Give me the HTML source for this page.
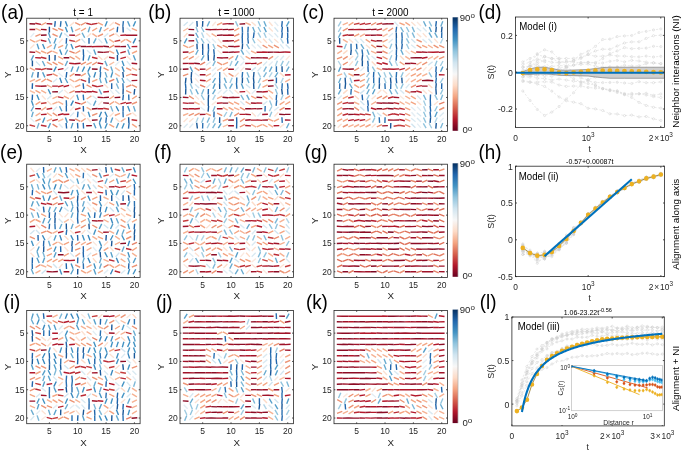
<!DOCTYPE html>
<html><head><meta charset="utf-8"><style>
html,body{margin:0;padding:0;background:#fff;}
svg text{font-family:'Liberation Sans', sans-serif;}
</style></head><body>
<svg width="685" height="451" viewBox="0 0 685 451" style="display:block;font-family:'Liberation Sans', sans-serif;will-change:transform">
<rect width="685" height="451" fill="#fff"/>
<g clip-path="url(#clip26_18)" stroke-linecap="butt" stroke-width="1.4" fill="none">
<clipPath id="clip26_18"><rect x="26.7" y="18.2" width="113.4" height="113.2"/></clipPath>
<path stroke="#8c0c25" d="M29.5 23.8l5.7 0.2M40.9 35.3l5.7 -0.3M80.6 46.5l5.7 0.0M103.3 46.3l5.7 0.4M120.3 46.6l5.7 -0.1M97.6 52.0l5.7 0.4M63.6 57.8l5.7 -0.0M46.6 68.9l5.7 0.4M91.9 69.0l5.7 0.2M52.2 91.9l5.7 -0.1M103.3 97.6l5.7 -0.4M114.6 97.6l5.7 -0.3M103.2 102.9l5.7 0.3M91.9 109.0l5.7 -0.5M69.2 119.9l5.7 0.3M91.9 120.3l5.7 -0.4M86.2 125.8l5.7 -0.2"/>
<path stroke="#b2182b" d="M35.3 23.3l5.6 1.1M120.3 35.4l5.7 -0.4M40.9 40.2l5.5 1.2M91.9 46.7l5.7 -0.3M97.6 46.4l5.7 0.1M114.6 46.5l5.7 0.0M131.6 46.6l5.7 -0.1M35.2 57.6l5.7 0.4M69.2 63.3l5.7 0.4M97.6 63.0l5.6 0.9M35.2 68.9l5.7 0.4M57.9 69.6l5.6 -1.0M35.2 85.9l5.7 0.4M52.2 86.1l5.7 -0.0M63.6 86.8l5.5 -1.4M92.0 91.2l5.5 1.2M103.3 92.0l5.7 -0.5M126.0 103.5l5.6 -0.9M97.6 108.7l5.7 0.1M40.9 114.6l5.7 -0.3M58.0 115.0l5.5 -1.2M63.6 114.5l5.7 -0.2"/>
<path stroke="#f4a582" d="M41.2 25.2l5.0 -2.7M97.9 22.6l5.0 2.6M81.0 31.0l4.9 -2.9M92.3 30.9l4.9 -2.9M131.8 28.4l5.2 2.2M29.9 39.5l5.0 2.7M75.3 42.2l4.9 -2.8M126.3 39.4l4.9 2.9M58.1 47.7l5.1 -2.4M41.1 51.0l5.2 2.2M75.3 53.5l5.0 -2.8M131.9 53.4l5.1 -2.4M58.2 56.5l5.0 2.7M46.9 62.1l5.0 2.7M58.2 62.2l5.1 2.5M86.5 64.6l5.2 -2.3M29.8 67.9l5.1 2.5M69.7 76.4l4.7 -3.1M80.9 76.2l4.9 -2.8M126.1 75.9l5.3 -2.1M35.5 81.7l5.1 -2.5M41.4 82.0l4.7 -3.1M75.2 81.7l5.1 -2.5M92.2 81.6l5.2 -2.3M75.1 87.2l5.2 -2.2M35.5 90.4l5.0 2.7M63.8 96.2l5.1 2.4M132.1 99.0l4.7 -3.1M35.6 104.6l4.8 -3.0M109.4 104.6l4.8 -3.1M114.8 115.5l5.2 -2.2M81.0 121.6l4.7 -3.1M109.3 124.3l4.9 2.9M132.1 124.2l4.7 3.1"/>
<path stroke="#9f1228" d="M46.6 23.6l5.7 0.4M29.5 29.5l5.7 0.0M40.9 29.4l5.7 0.3M69.2 35.1l5.7 0.2M125.9 35.3l5.7 -0.2M131.6 35.1l5.7 0.1M86.2 46.6l5.7 -0.1M29.5 52.0l5.7 0.4M103.3 52.4l5.7 -0.5M74.9 63.7l5.7 -0.4M131.6 63.2l5.6 0.5M74.9 74.7l5.7 0.3M131.6 80.6l5.7 -0.2M40.9 86.2l5.7 -0.2M74.9 91.9l5.7 -0.2M86.2 91.8l5.7 -0.0M97.6 97.2l5.7 0.4M35.2 108.6l5.7 0.2"/>
<path stroke="#2166ac" d="M54.7 26.7l0.6 -5.6M117.1 32.3l0.6 -5.6M66.2 43.7l0.4 -5.6M89.0 43.7l0.0 -5.7M83.3 49.3l0.2 5.7M83.2 60.6l0.5 -5.6M66.1 77.6l0.7 -5.6M89.1 83.3l0.0 -5.7M32.2 88.9l0.3 -5.7M83.1 83.3l0.6 5.6M111.7 83.3l0.0 5.7M32.2 100.3l0.3 -5.7M122.8 100.3l0.6 -5.6M66.3 105.9l0.1 5.7M83.3 105.9l0.2 5.7M123.1 105.9l0.0 5.7M66.1 122.9l0.5 5.6M77.5 122.9l0.4 5.6"/>
<path stroke="#2a71b2" d="M60.4 26.7l0.6 -5.6M122.8 26.7l0.6 -5.6M100.1 72.0l0.6 -5.6M100.3 77.6l0.3 -5.7M122.9 83.3l0.3 5.7M83.2 94.6l0.5 5.6M128.7 94.6l0.2 5.7M66.3 100.3l0.2 5.7M77.5 117.2l0.5 -5.6M123.0 111.6l0.2 5.7M105.8 122.9l0.6 -5.6M83.2 122.9l0.4 5.6M128.5 128.6l0.6 -5.6"/>
<path stroke="#3a88bd" d="M65.4 21.2l2.0 5.3M133.1 43.4l2.6 -5.0M116.4 49.5l2.1 5.3M87.8 71.7l2.5 -5.1M122.1 66.5l2.0 5.3M93.9 77.5l1.7 -5.4M59.8 77.8l1.9 5.3M70.8 105.6l2.6 -5.0M116.1 106.2l2.6 5.0M99.3 117.0l2.2 -5.2M104.9 111.8l2.3 5.2M99.4 122.7l2.0 -5.3"/>
<path stroke="#fce2d3" d="M69.9 25.7l4.4 -3.6M109.6 25.7l4.4 -3.6M86.9 37.0l4.3 -3.6M115.2 33.4l4.4 3.6M30.3 48.5l4.1 -3.9M103.9 59.6l4.4 -3.5M126.7 55.9l4.2 3.8M104.1 84.1l4.0 4.0M41.8 95.4l3.9 4.1M47.4 101.1l4.0 4.0M81.4 112.5l4.1 3.9M109.7 116.4l4.1 -3.9M132.3 112.5l4.2 3.8M87.2 118.0l3.8 4.2M115.3 118.2l4.2 3.7"/>
<path stroke="#ec9475" d="M75.2 22.6l5.1 2.6M80.9 25.2l5.0 -2.7M114.9 22.6l5.0 2.6M52.5 28.3l5.1 2.4M58.1 28.4l5.2 2.1M35.4 36.3l5.2 -2.2M52.5 34.0l5.2 2.3M97.8 36.3l5.2 -2.3M109.2 36.4l5.1 -2.5M109.2 47.8l5.0 -2.6M35.5 50.9l5.1 2.4M46.9 53.6l4.9 -2.8M69.6 56.5l5.0 2.7M52.6 62.1l4.9 2.8M80.9 64.7l5.1 -2.5M92.3 64.9l4.9 -2.9M103.5 67.9l5.1 2.5M126.2 67.9l5.1 2.5M52.5 73.6l5.1 2.5M46.8 79.2l5.1 2.5M86.6 84.8l5.0 2.7M126.1 87.2l5.2 -2.2M131.9 84.9l5.1 2.4M69.4 92.9l5.2 -2.2M126.1 90.7l5.2 2.2M80.9 104.3l5.1 -2.5M131.8 104.2l5.2 -2.2M52.7 112.8l4.7 3.2M92.1 115.5l5.3 -2.1M35.4 121.2l5.2 -2.2M75.2 118.9l5.1 2.4"/>
<path stroke="#bb2a34" d="M86.3 23.2l5.5 1.4M91.9 24.3l5.6 -0.9M120.3 52.9l5.5 -1.4M40.9 57.2l5.5 1.3M92.0 57.2l5.5 1.3M109.0 57.3l5.6 1.0M120.4 58.6l5.5 -1.5M46.6 75.3l5.6 -0.9M131.6 74.4l5.6 0.9M80.7 79.7l5.5 1.6M58.0 86.8l5.5 -1.4M92.0 85.3l5.5 1.5M97.6 86.6l5.6 -1.0M80.6 91.3l5.6 1.0M57.9 96.9l5.6 1.0M75.0 102.4l5.5 1.5M120.4 103.9l5.5 -1.6M46.6 109.3l5.6 -1.1M75.0 109.5l5.5 -1.5M52.3 120.8l5.5 -1.4M131.6 119.7l5.6 0.8M40.9 125.2l5.6 1.0"/>
<path stroke="#4393c3" d="M105.1 26.5l2.1 -5.3M133.3 26.4l2.3 -5.2M65.4 26.9l2.0 5.3M42.6 43.9l2.1 5.2M71.0 43.9l2.1 5.3M59.7 49.5l2.1 5.3M122.1 60.8l1.9 5.3M53.7 71.6l2.6 -5.0M82.2 71.7l2.4 -5.1M110.9 77.5l1.7 -5.4M48.2 89.2l2.4 5.1M36.9 94.8l2.2 5.2M76.9 94.7l1.6 5.4M31.4 100.4l1.9 5.3M127.7 106.1l2.1 5.3M88.2 111.7l1.8 5.4M42.6 122.7l2.2 -5.2M65.4 117.4l1.9 5.3M99.4 123.1l1.9 5.3M105.0 128.4l2.2 -5.2M122.0 128.4l2.2 -5.2"/>
<path stroke="#57a0ca" d="M127.6 21.3l2.3 5.2M71.2 26.8l1.7 5.4M99.4 32.2l2.0 -5.3M48.5 32.5l1.8 5.4M59.6 37.8l2.2 -5.2M54.0 43.5l2.1 -5.3M104.9 38.3l2.3 5.2M37.1 43.8l1.8 5.4M127.5 44.0l2.6 5.0M93.8 49.5l2.0 5.3M31.2 60.4l2.4 -5.1M88.1 60.5l1.9 -5.3M133.4 55.2l2.1 5.3M71.0 71.8l2.1 -5.3M76.7 71.8l2.1 -5.2M42.6 72.2l2.3 5.2M87.9 72.2l2.3 5.2M65.1 78.0l2.6 5.0M105.2 77.8l1.7 5.4M122.0 77.9l2.2 5.2M93.5 105.7l2.4 -5.1M59.5 106.2l2.4 5.1M110.7 122.7l2.0 -5.3M48.2 128.3l2.3 -5.2M71.1 128.4l1.8 -5.4M93.7 123.1l2.2 5.2M116.3 128.3l2.2 -5.2"/>
<path stroke="#f6b293" d="M35.5 28.3l5.2 2.3M75.1 30.6l5.2 -2.2M103.7 31.0l4.8 -3.0M109.2 30.8l5.0 -2.6M75.2 36.4l5.1 -2.5M92.4 33.6l4.7 3.2M109.3 39.4l4.8 3.0M120.7 42.4l4.8 -3.1M46.9 47.9l4.9 -2.8M52.4 51.1l5.2 2.2M109.2 50.8l5.0 2.6M75.4 56.2l4.7 3.2M131.9 67.9l5.1 2.4M29.8 81.6l5.2 -2.2M69.6 79.0l4.9 2.9M46.9 84.8l5.0 2.7M41.2 90.4l5.0 2.7M52.5 98.6l5.2 -2.3M86.7 99.0l4.7 -3.1M109.4 99.0l4.7 -3.1M52.4 104.2l5.2 -2.2M58.2 101.7l5.0 2.7M115.0 101.6l4.8 2.9M41.3 110.3l4.8 -3.1M86.6 107.3l4.9 2.9M35.6 115.9l4.8 -3.0M47.0 112.9l4.8 3.1M126.2 115.6l5.2 -2.3M46.8 121.2l5.2 -2.3M120.7 121.6l4.8 -3.1"/>
<path stroke="#1a5899" d="M49.4 26.7l0.0 5.7M123.0 26.7l0.2 5.7M49.3 55.0l0.1 5.7M55.0 60.6l0.1 -5.7M117.4 55.0l0.1 5.7M32.4 66.3l0.0 -5.7M37.8 77.6l0.4 -5.6M122.8 72.0l0.7 5.6M123.0 94.6l0.2 -5.7M134.1 94.6l0.6 -5.6M128.6 117.3l0.3 5.7"/>
<path stroke="#6aacd0" d="M88.2 32.2l1.7 -5.4M82.1 32.7l2.6 5.0M48.3 38.2l2.2 5.2M93.5 43.4l2.6 -5.0M54.1 49.2l1.8 -5.4M65.5 49.2l1.8 -5.4M65.1 54.7l2.6 -5.0M127.8 49.5l1.8 5.4M42.4 61.0l2.5 5.1M65.2 66.0l2.4 -5.1M104.9 60.9l2.3 5.2M110.8 66.5l1.9 5.3M31.6 77.5l1.6 -5.4M105.2 72.1l1.8 5.4M99.6 77.7l1.6 5.4M116.5 77.8l1.9 5.3M99.1 89.3l2.5 5.1M31.1 111.3l2.6 -5.0M133.5 106.1l1.8 5.4M31.6 117.1l1.6 -5.4"/>
<path stroke="#daeaf2" d="M126.6 27.7l4.3 3.6M103.9 37.0l4.4 -3.6M98.4 38.8l3.9 4.1M87.0 50.2l4.2 3.8M126.9 61.3l3.7 4.3M64.3 71.1l4.1 -3.9M52.9 82.3l4.3 -3.7M58.5 93.6l4.4 -3.6M47.2 99.3l4.3 -3.7M92.5 95.7l4.4 3.6M86.9 101.2l4.3 3.7M53.0 110.7l4.1 -4.0M70.1 116.4l4.0 -4.0M58.8 123.7l3.9 4.1"/>
<path stroke="#e4eef4" d="M30.5 37.3l3.7 -4.3M115.3 65.4l4.2 -3.8M58.6 73.0l4.3 3.7M109.9 89.6l3.7 4.3M30.3 118.2l4.2 3.8"/>
<path stroke="#d1e5f0" d="M64.2 33.4l4.4 3.6M81.5 38.7l3.7 4.2M35.9 61.6l4.2 3.8M126.6 78.6l4.3 3.7M115.4 89.8l4.1 3.9"/>
<path stroke="#f8c0a4" d="M35.5 42.0l5.2 -2.3M109.3 64.9l4.9 -2.9M115.1 67.6l4.7 3.2M115.0 73.3l4.8 3.0M29.8 90.6l5.1 2.4M58.1 121.3l5.2 -2.3"/>
<path stroke="#fae9df" d="M58.9 43.0l3.7 -4.3M69.9 84.2l4.2 3.8M64.3 89.9l4.2 3.8M98.4 105.1l3.9 -4.1M70.1 110.8l3.9 -4.1"/>
<path stroke="#c43c3c" d="M69.3 40.3l5.6 1.1M114.6 41.4l5.6 -1.1M75.0 47.3l5.5 -1.6M41.0 69.8l5.5 -1.4M40.9 103.5l5.6 -0.8M103.3 108.3l5.6 0.9M29.6 125.0l5.5 1.4"/>
<path stroke="#e58268" d="M69.4 51.1l5.3 2.1M109.1 81.5l5.2 -2.2M52.6 124.2l4.8 3.0"/>
<path stroke="#fddbc7" d="M98.3 55.9l4.1 3.9M70.0 99.4l4.2 -3.8"/>
<path stroke="#7eb8d7" d="M116.3 83.5l2.3 5.2M110.7 106.1l2.1 5.3M37.1 128.4l1.9 -5.4"/>
</g>
<rect x="26.7" y="18.2" width="113.4" height="113.2" fill="none" stroke="#262626" stroke-width="0.8"/>
<line x1="49.38" y1="131.4" x2="49.38" y2="130.0" stroke="#262626" stroke-width="0.8"/>
<line x1="49.38" y1="18.2" x2="49.38" y2="19.599999999999998" stroke="#262626" stroke-width="0.8"/>
<text x="49.38" y="142.00" font-size="8.5" text-anchor="middle" fill="#262626" >5</text>
<line x1="26.7" y1="40.84" x2="28.099999999999998" y2="40.84" stroke="#262626" stroke-width="0.8"/>
<line x1="140.1" y1="40.84" x2="138.7" y2="40.84" stroke="#262626" stroke-width="0.8"/>
<text x="24.50" y="43.84" font-size="8.5" text-anchor="end" fill="#262626" >5</text>
<line x1="77.73" y1="131.4" x2="77.73" y2="130.0" stroke="#262626" stroke-width="0.8"/>
<line x1="77.73" y1="18.2" x2="77.73" y2="19.599999999999998" stroke="#262626" stroke-width="0.8"/>
<text x="77.73" y="142.00" font-size="8.5" text-anchor="middle" fill="#262626" >10</text>
<line x1="26.7" y1="69.14" x2="28.099999999999998" y2="69.14" stroke="#262626" stroke-width="0.8"/>
<line x1="140.1" y1="69.14" x2="138.7" y2="69.14" stroke="#262626" stroke-width="0.8"/>
<text x="24.50" y="72.14" font-size="8.5" text-anchor="end" fill="#262626" >10</text>
<line x1="106.08" y1="131.4" x2="106.08" y2="130.0" stroke="#262626" stroke-width="0.8"/>
<line x1="106.08" y1="18.2" x2="106.08" y2="19.599999999999998" stroke="#262626" stroke-width="0.8"/>
<text x="106.08" y="142.00" font-size="8.5" text-anchor="middle" fill="#262626" >15</text>
<line x1="26.7" y1="97.44" x2="28.099999999999998" y2="97.44" stroke="#262626" stroke-width="0.8"/>
<line x1="140.1" y1="97.44" x2="138.7" y2="97.44" stroke="#262626" stroke-width="0.8"/>
<text x="24.50" y="100.44" font-size="8.5" text-anchor="end" fill="#262626" >15</text>
<line x1="134.43" y1="131.4" x2="134.43" y2="130.0" stroke="#262626" stroke-width="0.8"/>
<line x1="134.43" y1="18.2" x2="134.43" y2="19.599999999999998" stroke="#262626" stroke-width="0.8"/>
<text x="134.43" y="142.00" font-size="8.5" text-anchor="middle" fill="#262626" >20</text>
<line x1="26.7" y1="125.74" x2="28.099999999999998" y2="125.74" stroke="#262626" stroke-width="0.8"/>
<line x1="140.1" y1="125.74" x2="138.7" y2="125.74" stroke="#262626" stroke-width="0.8"/>
<text x="24.50" y="128.74" font-size="8.5" text-anchor="end" fill="#262626" >20</text>
<text x="83.40" y="153.40" font-size="9.8" text-anchor="middle" fill="#262626" >X</text>
<text x="0.00" y="0.00" font-size="9.8" text-anchor="middle" fill="#262626" transform="translate(10.70,74.80) rotate(-90)">Y</text>
<text transform="translate(83.10,16.20) scale(0.92,1)" font-size="10.8" text-anchor="middle" fill="#000" >t = 1</text>
<g clip-path="url(#clip180_18)" stroke-linecap="butt" stroke-width="1.4" fill="none">
<clipPath id="clip180_18"><rect x="180.0" y="18.2" width="113.4" height="113.2"/></clipPath>
<path stroke="#d1e5f0" d="M183.6 25.8l4.2 -3.8M274.5 27.4l3.7 4.3M268.8 38.7l3.7 4.3M285.7 44.5l4.0 4.0M251.5 70.9l4.4 -3.5M195.0 84.2l4.1 3.9M245.9 84.3l4.3 3.7"/>
<path stroke="#daeaf2" d="M189.3 25.9l4.0 -4.0M274.5 33.1l3.7 4.3M206.5 38.7l3.7 4.3M257.3 44.6l4.2 3.8M280.2 44.3l3.6 4.3M246.1 50.1l3.8 4.2M240.5 55.7l3.7 4.3M274.4 59.8l4.1 -3.9M280.2 60.0l3.7 -4.3M206.1 65.2l4.5 -3.5M263.1 65.5l4.0 -4.1M257.5 71.3l3.7 -4.3M212.2 76.9l3.7 -4.3M206.3 88.1l4.1 -3.9M223.3 93.7l4.1 -3.9M229.2 89.7l3.8 4.2M240.3 101.2l4.2 3.8M262.9 104.9l4.4 -3.6M274.2 110.5l4.5 -3.5M183.7 127.7l4.0 -4.0M189.4 127.8l3.8 -4.2"/>
<path stroke="#1a5899" d="M196.9 21.0l0.3 5.7M202.5 26.7l0.3 -5.7M287.5 26.7l0.4 5.6M196.9 43.7l0.3 5.7M202.6 43.7l0.2 5.7M242.2 49.3l0.4 -5.6M208.2 55.0l0.2 5.7M213.8 60.6l0.5 -5.6M282.0 66.3l0.2 5.7M191.2 77.6l0.4 -5.6M253.5 77.6l0.5 -5.6M185.4 83.3l0.6 -5.6M191.1 77.6l0.6 5.6M242.3 83.3l0.2 -5.7M253.4 77.6l0.6 5.6M219.6 83.3l0.1 5.7M253.6 83.3l0.3 5.7M185.6 94.6l0.2 -5.7M281.7 89.0l0.7 5.6M208.2 100.3l0.4 -5.6M208.3 105.9l0.0 -5.7M208.1 111.6l0.5 -5.6M219.6 122.9l0.1 -5.7M196.7 122.9l0.7 5.6"/>
<path stroke="#6aacd0" d="M207.2 26.4l2.4 -5.1M263.9 21.3l2.3 5.2M252.7 26.9l2.1 5.3M195.7 32.7l2.6 5.0M196.0 38.2l2.0 5.3M195.7 54.7l2.6 -5.0M241.0 49.7l2.7 5.0M201.3 60.3l2.8 -4.9M235.5 60.4l2.4 -5.1M235.2 65.9l3.0 -4.8M269.4 71.7l2.6 -5.1M286.3 71.6l2.8 -4.9M274.9 77.2l3.0 -4.8M212.6 82.9l2.9 -4.9M224.3 77.8l2.1 5.3M247.0 77.8l2.0 5.3M229.6 88.6l2.8 -4.9M195.8 89.2l2.5 5.1M212.6 94.2l2.8 -4.9M246.7 94.9l2.6 5.0M286.5 128.3l2.5 -5.1"/>
<path stroke="#fae9df" d="M212.2 26.0l3.7 -4.3M217.6 50.3l4.3 3.7M194.9 59.7l4.2 -3.8M285.8 59.9l3.9 -4.1M240.4 71.2l3.9 -4.1M195.1 78.3l3.7 4.3M195.0 95.4l4.0 4.0M211.8 104.9l4.4 -3.5"/>
<path stroke="#f4a582" d="M217.1 25.0l5.1 -2.4M234.2 30.9l5.0 -2.7M183.1 45.2l5.1 2.5M268.2 45.1l4.9 2.8M188.7 53.3l5.2 -2.2M183.2 59.1l5.0 -2.6M228.6 59.3l4.8 -3.0M245.6 56.4l4.9 2.8M222.8 64.6l5.2 -2.3M222.9 70.6l4.9 -2.9M262.5 87.4l5.1 -2.6M251.2 96.2l5.1 2.5M262.7 95.9l4.8 3.0M285.3 98.9l4.8 -3.0M228.5 101.8l5.0 2.6M234.1 101.9l5.1 2.4M279.7 104.6l4.8 -3.1M285.3 104.5l4.9 -2.8M228.6 107.4l4.9 2.8M205.7 113.3l5.2 2.2M222.7 121.2l5.2 -2.2M268.1 118.9l5.2 2.3M273.9 121.4l5.0 -2.6M256.8 126.8l5.2 -2.2M262.5 124.4l5.0 2.6"/>
<path stroke="#b2182b" d="M222.5 24.1l5.7 -0.5M216.9 29.6l5.7 -0.2M233.9 46.7l5.7 -0.5M233.9 52.3l5.7 -0.4M256.5 52.3l5.7 -0.2M262.2 52.0l5.7 0.3M284.9 52.0l5.7 0.2M188.5 63.5l5.7 -0.0M245.2 63.5l5.7 -0.1M284.9 75.0l5.7 -0.3M199.9 80.2l5.7 0.5M239.5 91.9l5.7 -0.3M262.2 92.0l5.7 -0.5M182.8 102.9l5.7 0.5M216.9 103.2l5.7 -0.3M256.5 103.0l5.7 0.1M188.5 108.7l5.7 0.1M194.2 109.0l5.7 -0.5M239.5 114.4l5.7 0.0M250.9 120.1l5.7 0.0M256.6 119.9l5.7 0.5M245.2 125.5l5.7 0.4M273.6 125.8l5.7 -0.2"/>
<path stroke="#8c0c25" d="M228.2 23.8l5.7 0.1M239.5 24.1l5.7 -0.4M188.5 29.4l5.7 0.2M222.5 29.6l5.7 -0.2M188.5 35.0l5.7 0.3M216.9 35.4l5.7 -0.4M228.2 46.4l5.7 0.1M228.2 52.4l5.7 -0.4M267.9 52.2l5.7 -0.1M250.9 57.8l5.7 0.1M256.5 57.7l5.7 0.2M194.2 63.3l5.7 0.4M182.8 69.3l5.7 -0.3M245.2 68.9l5.7 0.4M267.9 80.6l5.7 -0.3M267.9 86.3l5.7 -0.4M256.5 91.7l5.7 0.2M222.5 97.2l5.6 0.5M256.5 97.3l5.7 0.3M222.5 103.1l5.7 -0.0M245.2 108.8l5.7 -0.0M256.6 108.9l5.7 -0.3M279.2 114.3l5.7 0.3M284.9 114.4l5.7 0.0M228.2 120.1l5.7 -0.1"/>
<path stroke="#92c5de" d="M235.5 21.3l2.4 5.1M258.2 21.3l2.3 5.2M196.0 26.9l2.0 5.3M201.3 27.0l2.7 5.0M258.1 27.0l2.6 5.0M201.2 38.4l2.9 4.9M252.4 38.3l2.6 5.0M212.9 43.9l2.2 5.2M280.8 66.0l2.5 -5.1M258.2 83.0l2.4 -5.1M190.2 83.5l2.3 5.2M258.2 88.7l2.3 -5.2M190.2 89.2l2.2 5.2M275.4 89.1l2.1 5.3M201.3 95.0l2.9 4.9M269.6 100.5l2.2 5.2M269.6 117.0l2.2 -5.2M201.6 122.7l2.1 -5.3M213.0 122.7l2.1 -5.3"/>
<path stroke="#f6b293" d="M245.5 22.7l5.2 2.3M211.6 33.7l4.9 2.9M188.7 47.6l5.2 -2.2M251.1 51.0l5.2 2.3M205.9 70.5l4.9 -2.8M205.8 76.1l5.1 -2.5M206.0 82.0l4.8 -3.1M262.5 81.7l5.1 -2.4M285.2 81.8l5.0 -2.7M268.3 90.2l4.8 3.1M217.1 98.6l5.1 -2.4M194.4 102.0l5.2 2.3M245.6 101.7l5.0 2.8M222.9 107.3l4.8 2.9M234.1 107.6l5.2 2.3M183.1 115.5l5.2 -2.2M251.2 124.4l5.0 2.7M268.3 124.2l4.8 3.0"/>
<path stroke="#fce2d3" d="M251.5 22.0l4.3 3.6M268.9 21.7l3.7 4.3M268.7 27.6l4.1 3.9M206.3 33.2l4.1 3.9M217.9 38.7l3.6 4.3M257.3 38.9l4.1 3.9M274.2 39.0l4.3 3.7M223.5 72.6l3.7 4.3M234.7 76.8l4.0 -4.0M234.6 89.9l4.2 3.8M200.7 101.1l3.9 4.1M251.7 112.5l4.1 3.9M274.5 116.5l3.8 -4.2M183.6 122.0l4.1 -3.9M189.2 121.9l4.3 -3.7M279.9 127.5l4.4 -3.6"/>
<path stroke="#e4eef4" d="M274.5 21.8l3.8 4.2M268.6 33.3l4.3 3.7M212.0 38.8l4.0 4.0M251.6 44.6l4.2 3.8M240.4 65.5l3.9 -4.1M268.7 65.5l4.0 -4.0M211.9 71.0l4.3 -3.6M234.6 71.1l4.1 -3.9M194.8 73.0l4.4 3.5M217.7 93.8l3.9 -4.1M251.8 93.8l3.9 -4.1M200.5 107.0l4.4 3.5M257.5 116.5l3.7 -4.3"/>
<path stroke="#2166ac" d="M281.7 26.7l0.6 -5.6M281.8 32.3l0.6 -5.6M242.2 38.0l0.3 -5.6M253.4 38.0l0.7 -5.6M281.8 38.0l0.5 -5.6M287.6 32.4l0.2 5.7M242.3 38.0l0.1 5.7M287.4 38.0l0.6 5.6M208.3 43.7l0.2 5.7M202.7 49.3l0.0 5.7M213.7 49.3l0.6 5.6M219.6 77.6l0.2 5.7M185.4 83.3l0.5 5.6M287.5 83.3l0.6 5.6M208.2 94.6l0.2 -5.7M287.6 89.0l0.3 5.7M276.2 100.3l0.4 -5.6M213.9 117.2l0.2 -5.7M236.6 117.3l0.2 5.7M236.6 128.6l0.1 -5.7"/>
<path stroke="#57a0ca" d="M286.4 26.4l2.7 -5.0M263.9 27.0l2.4 5.1M184.3 43.3l2.7 -5.0M190.1 66.6l2.5 5.1M213.0 88.7l2.1 -5.2M241.3 83.5l2.1 5.2M218.3 128.2l2.9 -4.9"/>
<path stroke="#f8c0a4" d="M183.3 31.0l4.8 -3.0M217.2 70.5l4.9 -2.8M222.8 126.8l5.2 -2.2"/>
<path stroke="#9f1228" d="M205.5 29.4l5.7 0.3M211.2 29.6l5.7 -0.1M228.2 29.7l5.7 -0.3M222.5 35.2l5.7 -0.1M228.2 35.0l5.7 0.3M188.5 40.9l5.7 -0.2M222.5 41.0l5.7 -0.3M228.2 41.0l5.7 -0.4M182.8 52.3l5.7 -0.3M222.5 52.2l5.7 -0.0M273.6 52.1l5.7 0.2M279.2 52.4l5.7 -0.4M216.9 57.6l5.7 0.4M222.5 57.9l5.7 -0.1M262.2 57.7l5.7 0.3M182.8 63.5l5.7 -0.1M250.9 63.6l5.7 -0.3M199.8 69.2l5.7 -0.1M228.2 69.2l5.7 -0.0M199.8 74.7l5.7 0.1M182.8 97.3l5.7 0.3M228.2 97.6l5.7 -0.3M233.9 97.5l5.7 -0.1M188.5 103.1l5.7 -0.0M250.9 103.0l5.7 0.3M182.8 108.6l5.7 0.4M216.9 108.7l5.7 0.0M250.9 108.9l5.7 -0.3M284.9 108.8l5.7 0.0M199.8 114.5l5.7 -0.1M245.2 114.3l5.7 0.3M262.2 114.5l5.7 -0.2M245.2 120.3l5.6 -0.5M262.2 120.1l5.7 -0.1M284.9 120.0l5.7 0.1M228.2 125.7l5.7 0.1"/>
<path stroke="#2a71b2" d="M242.2 26.7l0.3 5.7M247.9 32.3l0.3 -5.6M247.9 32.4l0.2 5.7M247.8 38.0l0.6 5.6M208.0 55.0l0.6 -5.6M276.4 66.3l0.0 5.7M219.7 72.0l0.0 5.7M242.1 77.6l0.5 -5.6M236.6 83.3l0.2 -5.7M276.4 77.6l0.0 5.7M236.4 83.3l0.6 5.6M281.9 88.9l0.4 -5.6M276.1 105.9l0.6 -5.6M265.0 111.6l0.2 -5.7M281.9 117.3l0.4 5.6M202.6 128.6l0.2 -5.7"/>
<path stroke="#fddbc7" d="M183.8 37.3l3.7 -4.3M263.2 38.7l3.8 4.2M279.9 72.9l4.3 3.7M246.0 89.9l4.2 3.8M268.8 95.4l3.9 4.1"/>
<path stroke="#b2d5e7" d="M201.6 32.6l2.2 5.2M280.6 38.4l2.8 4.9M275.4 66.1l2.0 -5.3M286.3 66.0l2.8 -4.9M258.0 72.3l2.7 5.0M269.2 77.2l3.0 -4.8M280.8 83.0l2.5 -5.1M274.9 83.7l2.9 4.9M212.7 99.9l2.7 -5.0M196.0 122.7l2.1 -5.3"/>
<path stroke="#ec9475" d="M234.1 36.3l5.2 -2.3M217.2 45.2l5.0 2.6M222.7 45.4l5.2 2.2M262.6 45.1l4.9 2.9M273.9 45.2l5.0 2.7M188.9 59.2l4.9 -2.8M268.4 59.4l4.7 -3.1M217.2 62.1l5.0 2.7M194.6 67.6l4.8 3.0M183.0 75.9l5.3 -2.1M228.6 73.4l4.9 2.9M189.0 95.9l4.8 3.1M239.9 107.4l5.0 2.7M279.6 110.2l4.9 -2.8M188.7 115.6l5.2 -2.3M194.5 115.7l5.1 -2.5M217.1 113.2l5.1 2.5M234.3 115.9l4.8 -3.0M240.0 121.6l4.7 -3.1M239.8 127.0l5.1 -2.6"/>
<path stroke="#a2cde2" d="M258.0 32.7l2.7 5.0M263.9 32.6l2.3 5.2M230.0 66.1l2.1 -5.2M229.9 83.0l2.3 -5.2M280.9 100.0l2.3 -5.2M269.4 111.3l2.6 -5.0M223.9 116.8l2.9 -4.8M207.1 128.3l2.5 -5.1"/>
<path stroke="#e58268" d="M234.1 42.0l5.2 -2.3M200.2 64.9l4.9 -2.8M256.8 64.7l5.1 -2.4M200.1 85.0l5.2 2.1"/>
<path stroke="#7eb8d7" d="M246.6 44.1l2.8 4.9M212.8 66.0l2.5 -5.1M263.7 71.6l2.7 -5.0M247.0 72.2l2.1 5.3M263.6 77.2l2.9 -4.9M224.1 83.6l2.5 5.1M201.6 94.4l2.2 -5.2M240.9 95.0l2.8 4.9M212.9 111.4l2.2 -5.2M229.8 117.0l2.4 -5.1M207.1 122.6l2.4 -5.1M212.6 128.2l2.8 -4.9"/>
</g>
<rect x="180.0" y="18.2" width="113.4" height="113.2" fill="none" stroke="#262626" stroke-width="0.8"/>
<line x1="202.68" y1="131.4" x2="202.68" y2="130.0" stroke="#262626" stroke-width="0.8"/>
<line x1="202.68" y1="18.2" x2="202.68" y2="19.599999999999998" stroke="#262626" stroke-width="0.8"/>
<text x="202.68" y="142.00" font-size="8.5" text-anchor="middle" fill="#262626" >5</text>
<line x1="180.0" y1="40.84" x2="181.4" y2="40.84" stroke="#262626" stroke-width="0.8"/>
<line x1="293.4" y1="40.84" x2="292.0" y2="40.84" stroke="#262626" stroke-width="0.8"/>
<text x="177.80" y="43.84" font-size="8.5" text-anchor="end" fill="#262626" >5</text>
<line x1="231.03" y1="131.4" x2="231.03" y2="130.0" stroke="#262626" stroke-width="0.8"/>
<line x1="231.03" y1="18.2" x2="231.03" y2="19.599999999999998" stroke="#262626" stroke-width="0.8"/>
<text x="231.03" y="142.00" font-size="8.5" text-anchor="middle" fill="#262626" >10</text>
<line x1="180.0" y1="69.14" x2="181.4" y2="69.14" stroke="#262626" stroke-width="0.8"/>
<line x1="293.4" y1="69.14" x2="292.0" y2="69.14" stroke="#262626" stroke-width="0.8"/>
<text x="177.80" y="72.14" font-size="8.5" text-anchor="end" fill="#262626" >10</text>
<line x1="259.38" y1="131.4" x2="259.38" y2="130.0" stroke="#262626" stroke-width="0.8"/>
<line x1="259.38" y1="18.2" x2="259.38" y2="19.599999999999998" stroke="#262626" stroke-width="0.8"/>
<text x="259.38" y="142.00" font-size="8.5" text-anchor="middle" fill="#262626" >15</text>
<line x1="180.0" y1="97.44" x2="181.4" y2="97.44" stroke="#262626" stroke-width="0.8"/>
<line x1="293.4" y1="97.44" x2="292.0" y2="97.44" stroke="#262626" stroke-width="0.8"/>
<text x="177.80" y="100.44" font-size="8.5" text-anchor="end" fill="#262626" >15</text>
<line x1="287.73" y1="131.4" x2="287.73" y2="130.0" stroke="#262626" stroke-width="0.8"/>
<line x1="287.73" y1="18.2" x2="287.73" y2="19.599999999999998" stroke="#262626" stroke-width="0.8"/>
<text x="287.73" y="142.00" font-size="8.5" text-anchor="middle" fill="#262626" >20</text>
<line x1="180.0" y1="125.74" x2="181.4" y2="125.74" stroke="#262626" stroke-width="0.8"/>
<line x1="293.4" y1="125.74" x2="292.0" y2="125.74" stroke="#262626" stroke-width="0.8"/>
<text x="177.80" y="128.74" font-size="8.5" text-anchor="end" fill="#262626" >20</text>
<text x="236.70" y="153.40" font-size="9.8" text-anchor="middle" fill="#262626" >X</text>
<text x="0.00" y="0.00" font-size="9.8" text-anchor="middle" fill="#262626" transform="translate(164.00,74.80) rotate(-90)">Y</text>
<text transform="translate(236.40,16.20) scale(0.92,1)" font-size="10.8" text-anchor="middle" fill="#000" >t = 1000</text>
<g clip-path="url(#clip334_18)" stroke-linecap="butt" stroke-width="1.4" fill="none">
<clipPath id="clip334_18"><rect x="334.0" y="18.2" width="113.4" height="113.2"/></clipPath>
<path stroke="#a2cde2" d="M338.2 26.3l2.9 -4.9M338.3 32.0l2.8 -4.9M406.7 32.5l1.9 5.3M406.5 43.9l2.4 5.1M355.3 60.3l2.9 -4.9M366.7 55.3l2.5 5.1M389.6 60.4l2.2 -5.2M440.4 66.0l2.6 -5.0M344.0 72.3l2.7 5.0M366.6 77.2l2.9 -4.9M384.0 72.2l2.1 5.3M384.0 77.8l2.0 5.3M440.2 82.9l3.0 -4.8M366.7 100.0l2.5 -5.1M423.6 100.5l2.1 5.2M429.1 123.2l2.6 5.0"/>
<path stroke="#f6b293" d="M342.7 24.9l5.2 -2.2M382.6 30.9l4.9 -2.8M359.9 36.6l4.9 -2.8M342.9 39.4l4.8 3.0M428.0 45.0l4.8 3.0M337.3 53.7l4.7 -3.1M371.1 51.1l5.2 2.2M410.8 51.1l5.2 2.2M405.3 56.3l4.7 3.1M433.7 59.4l4.7 -3.2M416.6 64.9l4.9 -2.9M376.7 68.0l5.2 2.2M410.8 70.3l5.2 -2.2M337.0 75.9l5.2 -2.1M422.2 76.1l5.1 -2.5M410.9 81.9l4.9 -2.8M405.3 96.0l4.9 2.9M354.1 102.0l5.2 2.3M371.2 104.5l4.9 -2.9M399.6 101.7l4.9 2.8M382.7 112.9l4.7 3.1M365.5 121.4l5.0 -2.7M405.1 118.9l5.2 2.3M348.4 126.9l5.2 -2.3M354.1 127.0l5.1 -2.5"/>
<path stroke="#f4a582" d="M348.6 25.4l4.8 -3.1M399.4 22.8l5.2 2.2M405.4 22.3l4.7 3.2M354.1 36.4l5.1 -2.4M365.7 39.3l4.7 3.2M382.5 42.1l5.1 -2.6M382.7 44.9l4.7 3.1M422.1 45.4l5.2 2.2M399.7 61.9l4.8 3.1M348.4 73.7l5.2 2.3M359.8 76.1l5.0 -2.6M410.8 76.1l5.1 -2.5M416.6 76.3l4.8 -3.0M359.8 81.7l5.1 -2.4M416.6 81.9l4.9 -2.8M354.3 84.6l4.8 3.1M360.0 87.7l4.7 -3.1M354.1 90.6l5.2 2.3M405.2 90.5l5.1 2.5M342.8 98.7l5.1 -2.5M410.9 96.0l4.9 2.9M410.8 101.8l5.1 2.5M337.2 110.2l4.9 -2.9M405.1 107.6l5.2 2.3M337.3 115.9l4.8 -3.1M337.1 121.3l5.1 -2.5M342.8 121.3l5.1 -2.5M359.7 126.9l5.2 -2.2M365.5 127.0l5.1 -2.5"/>
<path stroke="#c43c3c" d="M353.9 24.4l5.6 -1.1M376.6 24.4l5.6 -1.1M365.2 114.0l5.6 0.9M393.6 126.3l5.6 -1.1M399.3 125.2l5.6 1.1"/>
<path stroke="#bb2a34" d="M359.6 24.6l5.5 -1.4M365.2 24.4l5.6 -1.0M376.6 30.1l5.5 -1.2M342.6 35.8l5.6 -1.1M370.9 40.3l5.6 1.1M376.6 62.8l5.5 1.4M399.3 69.9l5.5 -1.5M416.3 86.6l5.6 -1.0M416.3 91.0l5.5 1.5M348.2 98.0l5.5 -1.2M388.0 98.2l5.5 -1.5M342.6 103.6l5.6 -1.1M393.6 102.6l5.6 1.1M382.3 109.4l5.5 -1.2M393.6 108.3l5.6 0.8M399.3 108.2l5.5 1.2M342.6 115.2l5.5 -1.5M359.6 114.0l5.6 0.9M387.9 115.1l5.5 -1.3M393.6 113.8l5.5 1.2M353.9 120.8l5.5 -1.4"/>
<path stroke="#ec9475" d="M371.2 25.1l5.0 -2.6M342.8 30.8l5.0 -2.6M388.3 31.1l4.8 -3.1M416.5 39.7l5.2 2.3M371.3 44.9l4.7 3.1M416.6 45.0l4.8 2.9M433.6 45.1l4.9 2.8M439.2 45.3l5.1 2.4M382.5 51.0l5.1 2.4M337.0 58.9l5.2 -2.1M343.0 59.4l4.7 -3.1M382.5 56.5l5.0 2.6M439.1 58.9l5.2 -2.2M342.9 64.9l4.9 -2.9M422.2 64.9l5.0 -2.7M354.2 70.6l4.9 -2.8M405.3 70.7l4.8 -3.1M410.9 87.4l5.0 -2.6M376.8 98.7l5.1 -2.5M382.6 98.9l4.8 -3.0M337.2 104.4l5.0 -2.7M354.3 107.2l4.7 3.1M439.2 110.0l5.1 -2.5M405.1 113.3l5.2 2.3M342.8 127.0l5.1 -2.5M376.8 126.8l5.2 -2.2M405.1 124.6l5.2 2.2"/>
<path stroke="#8c0c25" d="M382.2 24.1l5.7 -0.4M387.9 23.9l5.7 -0.1M365.2 29.6l5.7 -0.2M370.9 35.3l5.7 -0.2M376.5 40.8l5.7 0.1M376.5 46.3l5.7 0.3M410.5 57.9l5.7 -0.2M416.2 57.8l5.7 0.0M404.9 63.5l5.7 0.0M348.2 69.3l5.7 -0.3M353.8 74.8l5.7 0.0M421.9 80.6l5.7 -0.3M427.6 80.3l5.7 0.4M382.2 103.0l5.7 0.1M387.9 103.0l5.7 0.2M348.2 108.6l5.7 0.4M376.5 108.8l5.7 -0.1M387.9 108.5l5.7 0.5M348.2 114.5l5.7 -0.1"/>
<path stroke="#daeaf2" d="M394.5 21.7l3.8 4.2M416.8 27.8l4.4 3.5M422.8 27.5l3.9 4.1M388.6 37.0l4.3 -3.7M354.8 38.7l3.7 4.3M360.4 38.8l3.8 4.2M388.6 42.7l4.3 -3.7M422.5 39.1l4.4 3.6M411.2 44.7l4.4 3.5M388.6 54.0l4.2 -3.8M371.5 56.0l4.4 3.6M405.8 88.2l3.7 -4.3M399.9 89.9l4.3 3.7M337.6 99.4l4.1 -3.9M417.1 95.4l3.9 4.1M416.8 112.7l4.4 3.5M439.7 116.4l4.1 -3.9M411.2 118.3l4.4 3.5M417.0 118.1l4.0 4.0"/>
<path stroke="#fce2d3" d="M411.3 21.9l4.2 3.9M416.9 33.4l4.3 3.7M422.8 33.1l3.8 4.2M348.8 39.1l4.4 3.5M434.2 38.7l3.8 4.2M365.9 44.7l4.3 3.7M405.5 50.4l4.4 3.6M348.9 59.7l4.3 -3.7M349.2 65.6l3.7 -4.3M428.6 71.3l3.7 -4.3M377.4 93.8l3.9 -4.1M382.9 89.9l4.2 3.8M422.7 89.8l4.1 3.9M428.2 90.0l4.4 3.5M371.6 99.3l4.2 -3.8M416.9 101.3l4.3 3.7M434.0 105.0l4.2 -3.8M337.7 127.8l3.9 -4.1M371.6 127.6l4.2 -3.8"/>
<path stroke="#fae9df" d="M417.0 21.9l4.0 4.0M422.8 71.2l3.8 -4.2M399.8 95.7l4.4 3.5"/>
<path stroke="#6aacd0" d="M423.5 21.3l2.5 5.1M440.8 26.5l2.0 -5.3M338.4 37.7l2.5 -5.1M429.0 32.7l2.9 4.9M434.7 32.7l2.7 5.0M360.9 44.1l3.0 4.8M367.0 49.5l2.1 5.3M400.8 49.6l2.4 5.1M378.1 72.3l2.6 5.0M338.6 83.1l2.2 -5.2M349.5 83.7l2.9 4.8M366.8 88.7l2.5 -5.1M338.3 94.3l2.7 -5.0M366.7 94.3l2.6 -5.0M389.4 89.3l2.6 5.0"/>
<path stroke="#92c5de" d="M429.1 21.4l2.6 5.0M406.4 27.0l2.6 5.0M406.4 38.4l2.7 5.0M344.3 49.1l2.1 -5.3M389.7 49.1l2.1 -5.3M355.4 66.0l2.5 -5.1M435.0 66.1l2.0 -5.3M372.3 66.7l2.9 4.9M400.9 77.4l2.3 -5.2M429.0 72.3l2.8 4.9M350.0 77.8l2.0 5.3M366.8 83.0l2.3 -5.2M395.3 83.5l2.2 5.2M400.8 88.7l2.4 -5.1M395.0 89.3l2.8 4.9M440.5 94.4l2.4 -5.1M434.8 94.9l2.6 5.0M434.7 111.3l2.6 -5.0M423.6 111.8l2.3 5.2M372.5 122.6l2.4 -5.1M423.5 117.5l2.4 5.1M423.3 123.3l2.8 4.9"/>
<path stroke="#2166ac" d="M435.7 26.7l0.7 -5.6M356.5 43.7l0.4 5.6M401.7 49.3l0.6 -5.6M396.3 55.0l0.2 -5.7M396.1 60.6l0.5 -5.6M367.9 66.3l0.3 5.7M435.8 72.0l0.5 -5.6M373.5 77.6l0.3 -5.7M435.9 77.6l0.4 -5.6M379.3 83.3l0.1 -5.7M396.1 77.6l0.6 5.6M390.7 88.9l0.1 -5.7M441.6 88.9l0.2 -5.7M362.1 94.6l0.5 5.6M430.3 100.3l0.2 -5.7M367.7 100.3l0.6 5.6M430.3 100.3l0.2 5.7M367.7 105.9l0.5 5.6M430.1 105.9l0.6 5.6M430.1 111.6l0.5 5.6"/>
<path stroke="#9f1228" d="M348.2 29.6l5.7 -0.1M370.9 29.6l5.7 -0.3M348.2 35.3l5.7 -0.3M376.5 52.1l5.7 0.2M421.9 52.0l5.7 0.4M438.9 52.4l5.7 -0.4M410.5 63.3l5.7 0.3M342.5 68.9l5.7 0.4M382.2 68.9l5.7 0.4M421.9 86.1l5.7 -0.0M410.5 91.9l5.7 -0.2M393.5 97.3l5.7 0.3M348.2 103.1l5.7 -0.1M376.5 102.9l5.7 0.4M342.5 109.0l5.7 -0.4M387.9 120.0l5.7 0.1M393.5 120.1l5.7 -0.1M382.2 125.9l5.7 -0.3"/>
<path stroke="#b2182b" d="M353.8 29.6l5.7 -0.2M359.5 29.5l5.7 0.1M365.2 35.2l5.7 -0.1M376.5 35.0l5.7 0.3M336.8 46.3l5.7 0.5M416.2 52.0l5.7 0.3M427.6 52.1l5.7 0.1M433.2 52.3l5.7 -0.3M376.6 57.1l5.5 1.4M421.9 58.3l5.6 -1.0M382.3 62.8l5.5 1.5M387.9 69.0l5.7 0.3M393.5 69.3l5.7 -0.4M438.9 74.8l5.7 0.1M353.9 80.7l5.7 -0.5M370.9 108.0l5.5 1.5M353.9 114.2l5.7 0.5M399.3 113.9l5.6 1.0M348.2 120.6l5.6 -1.0M359.6 120.5l5.6 -0.9M399.3 119.5l5.5 1.2"/>
<path stroke="#2a71b2" d="M396.0 32.3l0.6 -5.6M401.8 32.4l0.4 5.6M441.6 38.0l0.2 -5.7M396.3 38.0l0.1 5.7M401.8 43.7l0.4 -5.6M351.0 43.7l0.1 5.7M362.0 49.3l0.7 5.6M367.7 60.7l0.6 5.6M396.2 77.6l0.4 -5.6M373.7 77.6l0.0 5.7M435.7 83.3l0.7 -5.6M339.6 88.9l0.2 -5.7M384.9 83.3l0.3 5.7M350.8 94.6l0.5 -5.6M379.2 117.3l0.4 5.6M384.9 122.9l0.2 -5.7"/>
<path stroke="#7eb8d7" d="M400.6 27.1l2.9 4.9M412.2 26.9l2.3 5.2M412.2 32.6l2.4 5.1M355.3 49.7l2.7 5.0M389.3 61.0l2.8 4.9M389.3 72.4l2.9 4.9M372.7 88.8l2.0 -5.3M423.5 94.9l2.5 5.1M440.7 100.1l2.0 -5.3M372.6 111.8l2.3 5.2M440.6 128.3l2.2 -5.2"/>
<path stroke="#57a0ca" d="M429.3 26.9l2.1 5.2M338.5 71.7l2.3 -5.2M440.5 71.7l2.4 -5.1M372.5 94.3l2.5 -5.1M434.9 117.0l2.3 -5.2"/>
<path stroke="#1a5899" d="M435.8 32.3l0.5 -5.6M441.5 32.3l0.5 -5.6M396.3 32.4l0.1 5.7M339.6 38.0l0.1 5.7M396.1 43.7l0.6 5.6M350.7 55.0l0.6 -5.6M362.0 60.6l0.6 -5.6M362.3 66.3l0.1 -5.7M345.1 77.6l0.4 5.6M390.4 77.6l0.6 5.6M401.8 77.6l0.4 5.6M345.0 88.9l0.6 -5.6M379.2 88.9l0.3 -5.7M435.8 88.9l0.5 -5.6M435.9 89.0l0.4 5.6M430.1 122.9l0.5 -5.6M390.6 128.6l0.2 -5.7M435.8 128.6l0.5 -5.6"/>
<path stroke="#f8c0a4" d="M382.6 36.6l5.0 -2.7M427.9 59.1l5.1 -2.5M405.2 101.8l5.0 2.6"/>
<path stroke="#d1e5f0" d="M411.3 38.9l4.1 3.9M428.5 38.7l3.7 4.3M428.2 65.3l4.4 -3.5M360.1 93.6l4.4 -3.5M360.3 101.1l4.1 3.9M360.2 106.9l4.3 3.7M377.1 112.7l4.4 3.5M411.4 123.7l4.0 4.0"/>
<path stroke="#b2d5e7" d="M440.5 43.4l2.5 -5.1M338.2 61.0l2.9 4.9M395.3 60.9l2.2 5.2M423.6 106.2l2.2 5.2M434.9 122.7l2.3 -5.2"/>
<path stroke="#fddbc7" d="M343.1 53.9l4.4 -3.5M400.0 55.8l4.1 3.9M371.7 61.5l4.0 4.0M405.6 76.7l4.2 -3.8M405.8 82.6l3.7 -4.2M428.3 84.2l4.1 3.9M343.2 93.6l4.3 -3.7M354.6 95.5l4.2 3.8"/>
<path stroke="#e4eef4" d="M360.3 71.1l4.0 -4.0M411.3 106.9l4.2 3.8M417.1 106.7l3.9 4.1M411.5 112.3l3.8 4.2M439.8 122.2l3.8 -4.2M417.2 123.6l3.7 4.3"/>
<path stroke="#e58268" d="M416.5 70.4l5.0 -2.6M439.1 104.2l5.3 -2.1"/>
</g>
<rect x="334.0" y="18.2" width="113.4" height="113.2" fill="none" stroke="#262626" stroke-width="0.8"/>
<line x1="356.68" y1="131.4" x2="356.68" y2="130.0" stroke="#262626" stroke-width="0.8"/>
<line x1="356.68" y1="18.2" x2="356.68" y2="19.599999999999998" stroke="#262626" stroke-width="0.8"/>
<text x="356.68" y="142.00" font-size="8.5" text-anchor="middle" fill="#262626" >5</text>
<line x1="334.0" y1="40.84" x2="335.4" y2="40.84" stroke="#262626" stroke-width="0.8"/>
<line x1="447.4" y1="40.84" x2="446.0" y2="40.84" stroke="#262626" stroke-width="0.8"/>
<text x="331.80" y="43.84" font-size="8.5" text-anchor="end" fill="#262626" >5</text>
<line x1="385.03" y1="131.4" x2="385.03" y2="130.0" stroke="#262626" stroke-width="0.8"/>
<line x1="385.03" y1="18.2" x2="385.03" y2="19.599999999999998" stroke="#262626" stroke-width="0.8"/>
<text x="385.03" y="142.00" font-size="8.5" text-anchor="middle" fill="#262626" >10</text>
<line x1="334.0" y1="69.14" x2="335.4" y2="69.14" stroke="#262626" stroke-width="0.8"/>
<line x1="447.4" y1="69.14" x2="446.0" y2="69.14" stroke="#262626" stroke-width="0.8"/>
<text x="331.80" y="72.14" font-size="8.5" text-anchor="end" fill="#262626" >10</text>
<line x1="413.38" y1="131.4" x2="413.38" y2="130.0" stroke="#262626" stroke-width="0.8"/>
<line x1="413.38" y1="18.2" x2="413.38" y2="19.599999999999998" stroke="#262626" stroke-width="0.8"/>
<text x="413.38" y="142.00" font-size="8.5" text-anchor="middle" fill="#262626" >15</text>
<line x1="334.0" y1="97.44" x2="335.4" y2="97.44" stroke="#262626" stroke-width="0.8"/>
<line x1="447.4" y1="97.44" x2="446.0" y2="97.44" stroke="#262626" stroke-width="0.8"/>
<text x="331.80" y="100.44" font-size="8.5" text-anchor="end" fill="#262626" >15</text>
<line x1="441.73" y1="131.4" x2="441.73" y2="130.0" stroke="#262626" stroke-width="0.8"/>
<line x1="441.73" y1="18.2" x2="441.73" y2="19.599999999999998" stroke="#262626" stroke-width="0.8"/>
<text x="441.73" y="142.00" font-size="8.5" text-anchor="middle" fill="#262626" >20</text>
<line x1="334.0" y1="125.74" x2="335.4" y2="125.74" stroke="#262626" stroke-width="0.8"/>
<line x1="447.4" y1="125.74" x2="446.0" y2="125.74" stroke="#262626" stroke-width="0.8"/>
<text x="331.80" y="128.74" font-size="8.5" text-anchor="end" fill="#262626" >20</text>
<text x="390.70" y="153.40" font-size="9.8" text-anchor="middle" fill="#262626" >X</text>
<text x="0.00" y="0.00" font-size="9.8" text-anchor="middle" fill="#262626" transform="translate(318.00,74.80) rotate(-90)">Y</text>
<text transform="translate(390.40,16.20) scale(0.92,1)" font-size="10.8" text-anchor="middle" fill="#000" >t = 2000</text>
<g clip-path="url(#clip26_164)" stroke-linecap="butt" stroke-width="1.4" fill="none">
<clipPath id="clip26_164"><rect x="26.7" y="164.2" width="113.4" height="113.2"/></clipPath>
<path stroke="#fce2d3" d="M30.5 167.7l3.7 4.3M53.2 177.6l3.8 -4.2M35.9 179.3l4.2 3.8M87.2 179.0l3.7 4.3M70.0 188.7l4.2 -3.8M75.8 184.8l4.0 4.1M81.3 190.6l4.2 3.8M132.3 196.2l4.2 3.8M87.2 207.3l3.7 4.3M64.5 217.3l3.8 -4.2M36.1 224.4l3.9 4.1M70.0 230.2l4.1 3.9M81.4 234.2l3.9 -4.1M36.2 245.6l3.8 -4.2M64.4 247.1l3.9 4.1M109.9 246.9l3.6 4.3M30.5 252.7l3.8 4.2M58.8 268.2l3.8 -4.2"/>
<path stroke="#e4eef4" d="M36.0 171.8l4.1 -3.9M98.6 167.7l3.7 4.3M87.1 173.5l4.0 4.1M109.5 177.3l4.5 -3.5M81.4 183.2l4.0 -4.0M92.5 179.4l4.5 3.5M115.3 196.3l4.2 3.8M87.2 201.7l3.7 4.2M36.1 207.5l4.0 4.1M87.0 230.2l4.2 3.8M92.9 247.0l3.7 4.3M103.9 273.6l4.3 -3.7"/>
<path stroke="#2166ac" d="M43.5 167.0l0.3 5.7M66.1 167.0l0.6 5.6M134.2 184.0l0.5 5.6M32.2 195.3l0.4 -5.6M134.4 189.7l0.0 5.7M100.4 195.3l0.1 5.7M123.1 195.3l0.0 5.7M43.4 206.7l0.7 5.6M49.3 218.0l0.2 -5.7M54.7 217.9l0.7 -5.6M94.5 218.0l0.5 -5.6M77.5 218.0l0.5 5.6M134.1 229.3l0.6 -5.6M38.0 235.0l0.2 5.7M77.5 235.0l0.4 5.6M43.5 246.3l0.3 -5.7M60.6 246.3l0.2 5.7M71.9 251.9l0.4 -5.6M83.3 246.3l0.1 5.7M83.2 251.9l0.3 5.7M32.3 263.2l0.1 -5.7M66.2 263.3l0.3 5.7M128.6 268.9l0.3 -5.6"/>
<path stroke="#f6b293" d="M46.9 171.3l4.9 -2.8M69.5 168.6l5.0 2.6M75.3 168.3l4.8 3.1M86.5 168.6l5.1 2.6M58.3 174.0l4.8 3.0M114.9 174.3l5.1 2.5M120.5 176.7l5.2 -2.3M29.8 182.5l5.0 -2.6M126.4 191.0l4.8 3.0M69.5 199.3l5.2 -2.3M103.5 197.0l5.1 2.4M120.7 208.0l4.8 2.9M114.8 216.3l5.2 -2.2M126.1 214.0l5.2 2.2M103.6 219.5l5.0 2.6M132.0 222.2l4.9 -2.9M75.3 227.9l4.9 -2.9M52.5 233.4l5.1 -2.6M109.2 230.8l5.0 2.6M92.3 236.3l4.8 3.0M115.1 236.2l4.7 3.1M81.0 244.9l4.9 -2.9M114.9 244.7l5.1 -2.5M86.6 250.5l4.9 -2.9M75.4 256.3l4.7 -3.1M92.1 255.9l5.2 -2.3M120.5 253.6l5.2 2.3M132.1 253.2l4.7 3.1M103.5 259.3l5.2 2.3M120.7 258.9l4.7 3.1M41.1 265.0l5.2 2.2M46.8 264.8l5.1 2.5M120.6 264.8l5.0 2.6M35.5 273.1l5.0 -2.7M86.6 273.1l4.9 -2.8M97.9 273.1l5.0 -2.7"/>
<path stroke="#6aacd0" d="M54.0 172.5l2.1 -5.3M121.8 167.3l2.5 5.1M127.7 178.2l2.0 -5.3M48.5 183.9l1.8 -5.4M105.1 183.8l2.1 -5.3M31.4 184.2l1.8 5.4M48.4 184.2l1.9 5.3M59.9 189.5l1.6 -5.4M87.8 184.3l2.5 5.1M59.7 195.5l2.1 5.3M36.7 201.3l2.6 5.0M71.2 201.1l1.7 5.4M82.6 206.5l1.6 -5.4M53.8 212.0l2.6 -5.0M71.0 212.1l2.0 -5.3M71.1 217.8l1.9 -5.3M88.1 218.1l1.9 5.3M116.3 218.2l2.2 5.2M59.6 229.1l2.2 -5.2M71.1 229.1l2.0 -5.3M122.0 234.8l2.1 -5.3M48.5 240.8l1.8 5.4M122.0 251.7l2.1 -5.2M37.1 252.1l1.9 5.3M82.6 263.1l1.6 -5.4M99.5 263.1l1.8 -5.4M127.8 257.8l2.0 5.3M99.5 268.8l1.9 -5.3M31.3 269.1l2.2 5.2"/>
<path stroke="#57a0ca" d="M59.7 167.2l2.1 5.2M65.2 173.0l2.5 5.1M99.2 172.9l2.3 5.2M76.9 178.5l1.7 5.4M116.5 178.5l1.8 5.4M82.4 189.5l2.1 -5.3M71.1 195.2l1.9 -5.3M116.2 195.1l2.3 -5.2M31.4 206.5l1.9 -5.3M65.1 201.3l2.6 5.0M116.4 201.2l2.0 5.3M127.6 206.4l2.3 -5.2M48.5 212.2l1.8 -5.4M82.2 212.0l2.4 -5.1M116.3 206.9l2.3 5.2M37.2 212.4l1.8 5.4M42.7 223.4l2.1 -5.3M48.1 223.3l2.6 -5.0M99.2 229.0l2.5 -5.1M110.5 229.0l2.4 -5.1M127.9 223.7l1.6 5.4M116.4 234.8l2.1 -5.3M54.0 240.4l2.1 -5.2M36.9 251.7l2.3 -5.2M53.9 257.4l2.2 -5.2M110.8 252.1l1.8 5.4M36.9 257.8l2.3 5.2M42.7 263.1l1.9 -5.3M133.2 263.0l2.5 -5.1M70.8 274.3l2.6 -5.0M93.8 269.1l2.0 5.3"/>
<path stroke="#fddbc7" d="M81.3 168.0l4.2 3.8M70.2 173.4l3.8 4.2M104.0 184.9l4.1 3.9M92.7 190.5l4.0 4.0M92.7 207.5l4.1 3.9M120.9 213.3l4.3 3.7M64.4 235.8l4.0 4.0M104.0 245.4l4.1 -3.9M92.9 258.3l3.7 4.3"/>
<path stroke="#9f1228" d="M91.9 170.1l5.7 -0.5M108.9 186.9l5.7 -0.1M86.2 192.5l5.7 -0.0M120.3 204.0l5.7 -0.3M91.9 220.6l5.7 0.4M103.2 232.2l5.7 -0.1M46.6 271.5l5.7 0.4M63.6 271.8l5.7 -0.1"/>
<path stroke="#1a5899" d="M105.8 167.0l0.6 5.6M77.5 201.0l0.4 -5.6M111.7 195.3l0.1 5.7M128.5 195.3l0.5 5.6M77.4 206.7l0.7 5.6M134.2 212.3l0.4 -5.6M134.3 218.0l0.3 -5.7M54.9 223.6l0.2 -5.7M66.3 223.6l0.1 5.7M88.9 223.6l0.4 5.6M134.2 234.9l0.6 -5.6M105.9 240.6l0.4 -5.6M134.3 240.6l0.2 -5.7M71.8 246.3l0.5 -5.6M111.5 246.3l0.4 -5.6M43.6 251.9l0.2 -5.7M100.1 251.9l0.5 5.6M77.6 274.6l0.2 -5.7"/>
<path stroke="#4393c3" d="M110.9 167.2l1.7 5.4M36.8 173.0l2.5 5.1M42.7 178.5l2.1 5.3M133.1 178.7l2.6 5.0M76.9 189.8l1.6 5.4M110.6 189.9l2.3 5.2M42.8 195.5l1.7 5.4M87.9 195.6l2.3 5.2M99.2 201.3l2.4 5.1M105.2 212.2l1.8 -5.4M88.0 212.5l2.2 5.2M93.7 234.8l2.0 -5.3M82.4 235.1l2.0 5.3M110.4 240.3l2.6 -5.0M121.8 235.3l2.6 5.0M31.4 240.8l2.0 5.3M99.2 240.9l2.3 5.2M53.9 251.7l2.2 -5.2M104.8 252.2l2.6 5.1M127.9 252.1l1.7 5.4M71.1 263.4l2.0 5.3M93.9 263.4l1.7 5.4M59.7 269.1l2.0 5.3M127.9 274.4l1.7 -5.4M133.1 274.2l2.6 -5.0"/>
<path stroke="#c43c3c" d="M114.7 169.2l5.5 1.3M126.0 170.3l5.6 -0.9M29.6 176.2l5.5 -1.3M103.3 176.1l5.5 -1.2M97.7 181.9l5.5 -1.3M120.3 181.6l5.6 -0.8M120.3 187.3l5.6 -0.9M35.2 197.7l5.6 1.0M57.9 204.2l5.6 -0.8M114.7 248.4l5.5 1.4"/>
<path stroke="#3a88bd" d="M133.4 167.2l2.0 5.3M42.5 184.3l2.4 5.1M54.1 189.5l2.0 -5.3M48.3 200.8l2.1 -5.3M59.5 212.0l2.5 -5.1M99.6 217.8l1.7 -5.4M110.8 218.1l1.9 5.3M42.4 235.3l2.6 5.0M59.8 235.1l1.8 5.4M70.8 235.2l2.5 5.1M88.0 235.1l2.1 5.3M127.9 246.1l1.7 -5.4M99.1 251.6l2.5 -5.1M87.9 257.8l2.3 5.2M116.3 257.8l2.2 5.2M110.5 274.3l2.4 -5.1"/>
<path stroke="#7eb8d7" d="M42.7 172.9l2.1 5.3M37.2 184.1l1.7 5.4M31.3 212.5l2.2 5.2M42.8 252.1l1.9 5.3"/>
<path stroke="#daeaf2" d="M47.4 177.6l3.9 -4.1M64.2 185.0l4.3 3.7M121.2 194.6l3.7 -4.3M126.7 207.5l4.1 3.9M115.5 228.5l3.9 -4.1M70.0 252.8l4.1 3.9M87.0 256.6l4.2 -3.8M121.0 273.7l4.2 -3.8"/>
<path stroke="#f4a582" d="M75.2 174.3l5.1 2.5M52.5 182.4l5.1 -2.4M109.2 182.5l5.0 -2.6M126.3 182.6l4.9 -2.8M97.8 185.7l5.2 2.2M35.7 190.9l4.7 3.1M41.1 191.3l5.2 2.3M92.2 199.3l5.2 -2.4M109.2 202.5l5.0 2.6M41.2 213.8l5.0 2.7M80.8 214.1l5.3 2.1M29.9 222.3l4.9 -2.9M35.5 219.5l5.1 2.5M80.9 222.1l5.0 -2.6M120.7 219.3l4.8 3.0M126.2 233.3l5.1 -2.4M97.8 236.7l5.2 2.2M52.6 244.9l4.9 -2.9M63.8 244.6l5.2 -2.4M46.9 250.4l5.0 -2.6M103.7 250.7l4.7 -3.1M132.1 250.6l4.8 -3.1M46.8 255.8l5.2 -2.2M63.9 256.2l4.9 -2.9M46.9 261.8l5.0 -2.7M52.6 261.8l4.9 -2.8M58.2 261.7l5.1 -2.5M86.5 267.3l5.1 -2.4M109.4 264.6l4.8 3.0M115.0 267.5l4.9 -2.8M81.0 270.3l4.9 2.9"/>
<path stroke="#2a71b2" d="M83.2 178.3l0.3 -5.6M105.9 189.7l0.4 5.6M77.4 201.0l0.6 5.6M134.4 201.0l0.1 5.7M100.1 212.3l0.6 -5.6M77.6 218.0l0.2 -5.7M49.1 229.3l0.5 -5.6M54.9 223.6l0.3 5.7M66.1 234.9l0.7 -5.6M77.6 263.2l0.2 -5.7M32.2 263.3l0.2 5.7M83.3 263.3l0.2 5.7"/>
<path stroke="#ec9475" d="M92.2 174.3l5.1 2.5M58.3 179.7l4.8 3.0M63.8 182.4l5.1 -2.4M46.8 193.6l5.2 -2.3M29.8 197.0l5.2 2.3M52.5 199.4l5.1 -2.5M80.9 199.6l4.9 -2.8M52.5 205.1l5.1 -2.6M92.2 202.6l5.1 2.4M29.8 208.4l5.2 2.2M103.5 216.3l5.2 -2.2M80.9 227.8l4.9 -2.8M92.3 225.0l4.9 2.8M120.5 225.2l5.1 2.5M41.1 233.2l5.2 -2.1M46.8 230.9l5.1 2.5M97.9 230.8l5.0 2.7M29.7 236.7l5.2 2.1M126.2 239.0l5.1 -2.5M75.3 245.0l4.8 -3.0M86.5 244.7l5.1 -2.4M75.1 250.2l5.3 -2.1M35.6 267.5l4.9 -2.8M75.2 264.8l5.0 2.6M131.8 267.1l5.3 -2.1"/>
<path stroke="#b2182b" d="M131.6 175.0l5.6 1.1M63.6 198.0l5.7 0.3M40.9 203.2l5.5 1.2M97.6 220.7l5.7 0.2M29.5 226.7l5.7 -0.4M58.0 232.8l5.5 -1.4M63.6 260.4l5.7 0.1M69.2 260.6l5.7 -0.3"/>
<path stroke="#d1e5f0" d="M69.9 179.3l4.2 3.8M92.9 184.7l3.7 4.3M53.2 190.4l3.7 4.3M64.2 207.7l4.4 3.6M109.8 207.5l4.0 4.0M58.7 218.8l4.1 3.9M126.9 223.0l3.7 -4.3M103.9 224.7l4.4 3.6M30.3 234.0l4.2 -3.8M36.0 230.1l4.0 4.0M115.6 256.9l3.7 -4.3M53.1 264.0l3.9 4.1M41.6 273.6l4.3 -3.7"/>
<path stroke="#bb2a34" d="M114.7 186.1l5.5 1.5M97.6 192.1l5.6 0.8M46.6 203.2l5.5 1.3M109.0 215.7l5.6 -1.1M74.9 232.7l5.6 -1.1M126.0 248.5l5.5 1.3M109.0 259.8l5.5 1.3M114.7 271.0l5.5 1.5"/>
<path stroke="#f8c0a4" d="M126.2 188.1l5.1 -2.6M64.0 222.3l4.8 -3.0M58.3 242.0l4.9 2.9"/>
<path stroke="#8c0c25" d="M57.9 192.3l5.7 0.4M63.6 192.7l5.7 -0.4M120.3 243.6l5.7 -0.4M57.9 254.7l5.7 0.1M52.2 271.9l5.7 -0.4"/>
<path stroke="#fae9df" d="M104.2 205.9l3.8 -4.2M58.8 213.1l3.9 4.1M70.2 218.7l3.8 4.2M47.4 239.8l4.0 -4.0M92.7 241.5l4.1 3.9M30.2 250.9l4.4 -3.6"/>
<path stroke="#e58268" d="M41.3 225.0l4.9 2.9M131.9 244.7l5.1 -2.4M103.6 267.4l5.0 -2.7"/>
</g>
<rect x="26.7" y="164.2" width="113.4" height="113.2" fill="none" stroke="#262626" stroke-width="0.8"/>
<line x1="49.38" y1="277.4" x2="49.38" y2="276.0" stroke="#262626" stroke-width="0.8"/>
<line x1="49.38" y1="164.2" x2="49.38" y2="165.6" stroke="#262626" stroke-width="0.8"/>
<text x="49.38" y="288.00" font-size="8.5" text-anchor="middle" fill="#262626" >5</text>
<line x1="26.7" y1="186.84" x2="28.099999999999998" y2="186.84" stroke="#262626" stroke-width="0.8"/>
<line x1="140.1" y1="186.84" x2="138.7" y2="186.84" stroke="#262626" stroke-width="0.8"/>
<text x="24.50" y="189.84" font-size="8.5" text-anchor="end" fill="#262626" >5</text>
<line x1="77.73" y1="277.4" x2="77.73" y2="276.0" stroke="#262626" stroke-width="0.8"/>
<line x1="77.73" y1="164.2" x2="77.73" y2="165.6" stroke="#262626" stroke-width="0.8"/>
<text x="77.73" y="288.00" font-size="8.5" text-anchor="middle" fill="#262626" >10</text>
<line x1="26.7" y1="215.14" x2="28.099999999999998" y2="215.14" stroke="#262626" stroke-width="0.8"/>
<line x1="140.1" y1="215.14" x2="138.7" y2="215.14" stroke="#262626" stroke-width="0.8"/>
<text x="24.50" y="218.14" font-size="8.5" text-anchor="end" fill="#262626" >10</text>
<line x1="106.08" y1="277.4" x2="106.08" y2="276.0" stroke="#262626" stroke-width="0.8"/>
<line x1="106.08" y1="164.2" x2="106.08" y2="165.6" stroke="#262626" stroke-width="0.8"/>
<text x="106.08" y="288.00" font-size="8.5" text-anchor="middle" fill="#262626" >15</text>
<line x1="26.7" y1="243.44" x2="28.099999999999998" y2="243.44" stroke="#262626" stroke-width="0.8"/>
<line x1="140.1" y1="243.44" x2="138.7" y2="243.44" stroke="#262626" stroke-width="0.8"/>
<text x="24.50" y="246.44" font-size="8.5" text-anchor="end" fill="#262626" >15</text>
<line x1="134.43" y1="277.4" x2="134.43" y2="276.0" stroke="#262626" stroke-width="0.8"/>
<line x1="134.43" y1="164.2" x2="134.43" y2="165.6" stroke="#262626" stroke-width="0.8"/>
<text x="134.43" y="288.00" font-size="8.5" text-anchor="middle" fill="#262626" >20</text>
<line x1="26.7" y1="271.74" x2="28.099999999999998" y2="271.74" stroke="#262626" stroke-width="0.8"/>
<line x1="140.1" y1="271.74" x2="138.7" y2="271.74" stroke="#262626" stroke-width="0.8"/>
<text x="24.50" y="274.74" font-size="8.5" text-anchor="end" fill="#262626" >20</text>
<text x="83.40" y="299.40" font-size="9.8" text-anchor="middle" fill="#262626" >X</text>
<text x="0.00" y="0.00" font-size="9.8" text-anchor="middle" fill="#262626" transform="translate(10.70,220.80) rotate(-90)">Y</text>
<g clip-path="url(#clip180_164)" stroke-linecap="butt" stroke-width="1.4" fill="none">
<clipPath id="clip180_164"><rect x="180.0" y="164.2" width="113.4" height="113.2"/></clipPath>
<path stroke="#92c5de" d="M184.4 172.4l2.5 -5.1M201.5 167.3l2.4 5.1M263.9 172.5l2.3 -5.2M241.1 178.1l2.4 -5.1M246.8 178.1l2.5 -5.1M190.1 184.3l2.6 5.0M252.5 195.1l2.4 -5.1M207.1 195.6l2.5 5.1M246.6 206.3l2.9 -4.9M190.2 212.1l2.3 -5.2M224.1 207.0l2.6 5.0M224.3 217.8l2.1 -5.3M258.0 212.7l2.7 5.0M269.2 224.1l3.0 4.8M275.4 229.1l2.0 -5.3M229.6 229.7l2.9 4.8M184.2 240.2l2.9 -4.9M246.7 240.3l2.7 -5.0M252.6 240.4l2.2 -5.2M281.1 235.1l2.0 5.3M286.3 245.9l2.8 -4.9M201.4 246.6l2.5 5.1M258.2 246.5l2.4 5.1M184.2 257.2l2.9 -4.9M263.7 257.3l2.7 -5.0M286.6 257.4l2.2 -5.2M212.7 257.9l2.6 5.1M258.2 263.0l2.4 -5.1"/>
<path stroke="#f4a582" d="M188.9 171.4l4.8 -3.0M251.2 174.2l5.1 2.6M273.9 182.5l5.0 -2.6M239.9 185.4l4.9 2.8M285.2 188.1l5.1 -2.4M256.8 193.6l5.2 -2.2M262.7 191.0l4.8 3.1M234.1 197.0l5.2 2.3M268.1 197.1l5.3 2.1M217.1 202.6l5.1 2.4M228.6 202.4l5.0 2.7M188.8 214.0l5.2 2.3M239.8 216.2l5.2 -2.2M285.4 216.7l4.7 -3.1M200.3 224.9l4.8 3.0M228.6 227.8l5.0 -2.7M251.1 227.5l5.2 -2.1M279.5 225.3l5.2 2.3M234.2 233.5l4.9 -2.8M268.2 233.3l5.1 -2.4M279.5 233.3l5.1 -2.4M211.5 236.5l5.1 2.5M228.4 236.7l5.2 2.2M183.1 242.2l5.1 2.5M262.6 242.0l4.9 2.8M183.2 250.6l4.9 -2.9M205.9 256.2l4.9 -2.9M222.9 253.3l4.9 2.9M183.3 261.9l4.8 -3.0M245.4 259.3l5.2 2.2M268.1 259.2l5.2 2.4M188.9 273.1l5.0 -2.7"/>
<path stroke="#f6b293" d="M194.5 168.5l5.0 2.7M205.9 171.2l5.0 -2.7M211.5 168.6l5.1 2.5M257.0 168.3l4.7 3.1M194.5 179.8l5.0 2.7M234.3 182.6l4.9 -2.9M245.4 182.3l5.2 -2.3M262.6 196.7l4.8 3.0M183.2 205.2l5.0 -2.8M239.8 202.6l5.1 2.4M256.9 205.2l4.9 -2.8M285.2 202.6l5.1 2.5M194.4 210.6l5.2 -2.3M200.1 208.2l5.1 2.5M228.4 208.3l5.2 2.3M251.3 211.0l4.7 -3.1M256.8 210.7l5.1 -2.4M183.2 216.6l4.9 -2.8M205.8 213.9l5.1 2.6M200.3 222.3l4.8 -3.0M205.8 219.5l5.1 2.5M228.5 219.5l5.0 2.6M239.7 219.7l5.3 2.1M279.6 222.2l4.9 -2.9M183.1 233.3l5.2 -2.3M217.1 233.3l5.1 -2.4M239.9 230.7l4.9 2.8M205.9 239.1l5.0 -2.7M239.8 236.7l5.2 2.2M257.0 236.3l4.8 3.0M285.2 239.1l5.0 -2.7M194.6 242.0l4.9 2.9M200.3 244.9l4.8 -3.0M222.9 244.9l4.9 -2.9M234.1 244.6l5.2 -2.3M279.5 244.6l5.2 -2.3M211.6 250.7l4.7 -3.1M273.8 247.9l5.2 2.3M268.3 253.2l4.8 3.1M279.7 253.2l4.7 3.1"/>
<path stroke="#ec9475" d="M217.2 171.1l5.1 -2.6M194.6 174.1l4.9 2.9M234.1 176.7l5.2 -2.3M228.6 179.7l4.8 3.0M194.5 185.5l5.0 2.6M200.1 185.7l5.2 2.2M205.9 188.3l4.8 -3.0M234.1 188.0l5.2 -2.3M183.2 194.0l4.9 -2.9M194.4 199.3l5.2 -2.2M228.4 199.3l5.2 -2.3M251.3 199.6l4.9 -2.9M279.5 197.0l5.2 2.2M234.1 204.9l5.2 -2.2M268.1 202.7l5.2 2.3M234.3 211.0l4.8 -3.0M245.7 211.0l4.7 -3.1M279.7 211.0l4.8 -3.1M200.3 216.6l4.8 -3.0M228.5 216.4l5.1 -2.6M262.5 219.5l5.0 2.6M268.3 219.4l4.9 2.9M211.6 227.9l4.9 -2.9M217.1 227.7l5.1 -2.5M245.5 233.4l5.0 -2.6M273.8 238.9l5.2 -2.3M256.8 242.3l5.2 2.2M194.5 250.5l5.0 -2.8M205.8 250.4l5.0 -2.6M217.2 247.8l5.0 2.6M239.8 259.2l5.1 2.4M279.6 261.8l5.0 -2.7M217.3 267.6l4.8 -3.0M234.2 264.8l5.1 2.5M183.2 273.2l4.8 -2.9M211.6 273.3l4.8 -3.0M279.5 270.5l5.1 2.5M285.2 273.0l5.0 -2.6"/>
<path stroke="#7eb8d7" d="M224.2 172.4l2.3 -5.2M252.6 172.5l2.2 -5.2M275.1 172.4l2.6 -5.0M206.9 173.1l2.9 4.9M184.3 178.7l2.8 4.9M241.0 178.7l2.8 4.9M258.2 189.4l2.3 -5.2M280.7 195.0l2.6 -5.0M240.9 207.1l3.0 4.8M195.6 217.6l2.9 -4.9M235.3 218.3l2.7 5.0M275.0 223.3l2.7 -5.0M224.1 229.6l2.5 5.1M263.8 235.2l2.5 5.1M229.5 246.7l3.0 4.8M258.2 257.3l2.3 -5.2M212.8 268.6l2.4 -5.1"/>
<path stroke="#6aacd0" d="M229.9 172.5l2.2 -5.2M240.9 172.3l2.9 -4.8M190.1 178.6l2.4 5.1M213.0 183.8l2.1 -5.3M224.2 183.8l2.2 -5.2M274.9 184.4l2.9 4.9M275.0 190.0l2.7 5.0M247.0 195.5l2.0 5.3M218.3 207.0l2.8 4.9M275.2 212.0l2.4 -5.1M190.2 223.4l2.4 -5.1M246.7 228.9l2.8 -4.9M195.6 258.0l2.9 4.9M275.4 257.8l2.0 5.3M229.8 268.6l2.5 -5.1M235.2 274.1l3.0 -4.8M241.1 269.2l2.5 5.1"/>
<path stroke="#a2cde2" d="M235.3 172.3l2.9 -4.9M286.7 172.5l2.1 -5.3M201.3 178.0l2.7 -5.0M184.3 189.3l2.7 -5.0M190.0 200.7l2.7 -5.0M201.6 195.5l2.1 5.3M224.2 195.6l2.4 5.1M252.7 212.5l2.0 5.3M223.9 223.2l2.9 -4.9M196.0 240.4l2.0 -5.3M218.6 240.4l2.2 -5.2M201.6 252.2l2.3 5.2M218.3 252.3l2.7 5.0"/>
<path stroke="#8c0c25" d="M245.2 169.7l5.7 0.4M228.2 175.7l5.7 -0.4M256.5 175.7l5.7 -0.3M205.5 192.5l5.7 -0.1M211.2 192.3l5.6 0.5M216.9 198.1l5.7 0.1M199.9 203.6l5.7 0.4M205.5 204.0l5.7 -0.3M211.2 203.7l5.7 0.2M182.8 209.6l5.7 -0.3M256.5 232.1l5.7 0.1M211.2 254.7l5.7 0.1M205.5 260.2l5.7 0.4M216.9 260.3l5.7 0.3M194.2 266.3l5.7 -0.4M267.9 265.9l5.7 0.5M273.6 271.7l5.7 0.0"/>
<path stroke="#c43c3c" d="M268.0 169.1l5.5 1.5M279.3 170.6l5.5 -1.6M222.6 176.2l5.5 -1.5M273.7 176.3l5.5 -1.5M222.6 187.4l5.6 -1.1M205.6 208.8l5.5 1.5M273.6 215.6l5.6 -0.8M182.9 221.3l5.6 -1.0M217.0 220.0l5.5 1.6M222.6 237.1l5.5 1.3M267.9 237.3l5.6 1.0M205.6 243.9l5.6 -0.9M216.9 243.0l5.6 0.9M239.6 249.6l5.6 -0.9M262.3 259.6l5.5 1.6M199.9 265.6l5.6 0.9M245.3 266.7l5.5 -1.3M256.6 266.8l5.5 -1.4M285.0 266.8l5.5 -1.5M256.6 271.1l5.5 1.2"/>
<path stroke="#9f1228" d="M182.8 175.4l5.7 0.2M211.2 175.5l5.7 -0.0M250.9 181.3l5.7 -0.2M262.2 186.6l5.7 0.4M199.8 192.5l5.7 -0.1M216.9 192.3l5.7 0.3M239.5 192.6l5.7 -0.2M194.2 203.6l5.7 0.4M273.6 203.8l5.7 -0.0M267.9 215.0l5.7 0.4M245.2 220.9l5.7 -0.2M182.8 226.5l5.7 -0.2M194.2 232.1l5.7 -0.0M199.9 232.3l5.7 -0.4M211.2 232.1l5.7 0.1M211.2 243.6l5.7 -0.3M239.5 243.5l5.7 -0.2M273.6 243.2l5.7 0.5M284.9 248.9l5.7 0.4M188.5 265.9l5.7 0.3M199.8 271.7l5.7 0.0M216.9 271.6l5.7 0.4M250.9 271.8l5.7 -0.2"/>
<path stroke="#f8c0a4" d="M189.0 173.9l4.7 3.2M211.6 188.3l4.8 -3.0M228.5 253.5l5.1 2.4"/>
<path stroke="#bb2a34" d="M217.0 174.8l5.5 1.5M262.3 181.9l5.5 -1.5M245.2 187.2l5.6 -0.8M250.9 186.3l5.6 1.1M279.3 187.3l5.6 -0.9M285.0 197.6l5.6 1.1M234.0 214.4l5.5 1.4M279.3 214.4l5.5 1.4M211.2 220.4l5.6 0.8M256.6 220.1l5.5 1.4M234.0 225.7l5.5 1.5M188.5 232.5l5.6 -0.8M188.6 244.0l5.6 -1.1M233.9 248.6l5.6 1.0M262.3 248.5l5.6 1.1M273.6 254.2l5.6 1.0M239.6 266.7l5.5 -1.2"/>
<path stroke="#fce2d3" d="M262.8 173.7l4.4 3.6M211.9 200.0l4.3 -3.7M274.4 200.2l4.0 -4.0M211.8 207.7l4.4 3.5M246.0 213.2l4.1 4.0M206.2 228.3l4.2 -3.8M223.3 247.2l4.1 3.9M251.7 251.1l4.0 -4.0M194.9 252.8l4.2 3.8M223.4 268.1l4.0 -4.1M251.5 264.3l4.4 3.6M279.8 267.8l4.4 -3.5M246.0 273.7l4.1 -3.9"/>
<path stroke="#b2182b" d="M268.0 174.7l5.5 1.6M284.9 175.4l5.7 0.2M205.5 181.6l5.6 -0.9M279.2 181.4l5.7 -0.4M267.9 186.6l5.6 0.5M188.5 192.5l5.7 0.0M194.2 192.6l5.7 -0.3M182.8 198.2l5.7 -0.1M262.3 203.1l5.5 1.5M262.3 210.0l5.6 -1.0M262.2 215.2l5.7 -0.2M250.9 220.6l5.7 0.4M194.2 226.6l5.7 -0.4M256.6 225.8l5.5 1.2M205.5 232.4l5.7 -0.5M262.2 231.7l5.6 0.9M228.2 243.5l5.7 -0.1M267.9 243.0l5.6 0.9M267.9 249.3l5.7 -0.4M279.2 249.0l5.7 0.2M199.8 260.4l5.7 0.0M222.5 260.2l5.7 0.5M262.2 266.1l5.7 -0.1M273.6 266.3l5.7 -0.5M205.5 272.0l5.7 -0.5M267.9 271.9l5.7 -0.3"/>
<path stroke="#fddbc7" d="M279.8 177.3l4.4 -3.5M257.4 179.2l4.1 4.0M285.8 179.1l3.8 4.2M245.9 190.6l4.3 3.7M189.4 205.9l3.9 -4.1M251.8 201.7l3.8 4.2M268.7 207.5l4.0 4.0M217.7 213.2l4.1 3.9M246.1 241.4l3.9 4.1M246.1 252.7l3.8 4.2"/>
<path stroke="#d1e5f0" d="M200.5 182.9l4.4 -3.5M234.5 190.7l4.3 3.7M223.5 201.7l3.8 4.2M285.8 211.5l3.9 -4.1M285.9 224.3l3.7 4.3M274.3 230.2l4.2 3.8M285.5 230.3l4.4 3.6M189.5 262.5l3.7 -4.2M234.5 258.7l4.5 3.5M206.3 264.1l4.0 4.0M228.9 269.9l4.3 3.7"/>
<path stroke="#b2d5e7" d="M218.4 178.6l2.5 5.1M218.4 189.4l2.6 -5.0M258.3 200.8l2.2 -5.2M212.6 212.7l2.8 4.9M286.3 218.3l2.8 4.9M201.3 240.3l2.8 -4.9M195.8 269.2l2.4 5.1"/>
<path stroke="#daeaf2" d="M268.7 183.2l3.9 -4.1M223.5 190.4l3.8 4.2M195.0 218.8l4.0 4.0M240.2 224.6l4.3 3.7M262.8 224.7l4.4 3.5M251.9 234.3l3.7 -4.3M189.5 235.6l3.7 4.3M234.6 235.9l4.2 3.8M251.7 245.5l4.0 -4.0M189.3 247.1l4.1 3.9M251.7 256.8l4.0 -4.1M285.8 258.4l3.9 4.1"/>
<path stroke="#fae9df" d="M228.9 188.7l4.3 -3.7M240.2 196.4l4.4 3.6M280.2 201.7l3.7 4.3M240.5 256.9l3.7 -4.3M251.5 262.2l4.4 -3.6M183.6 264.2l4.2 3.8M263.0 269.8l4.1 3.9"/>
<path stroke="#e4eef4" d="M228.9 194.4l4.3 -3.7M268.8 190.4l3.8 4.2M223.1 224.7l4.4 3.5M246.1 247.0l3.9 4.1M189.2 252.9l4.2 3.8M223.3 269.8l4.2 3.8"/>
<path stroke="#e58268" d="M285.4 191.0l4.8 3.1M188.8 225.2l5.1 2.5"/>
<path stroke="#57a0ca" d="M235.6 257.4l2.2 -5.2M229.9 263.0l2.3 -5.2"/>
</g>
<rect x="180.0" y="164.2" width="113.4" height="113.2" fill="none" stroke="#262626" stroke-width="0.8"/>
<line x1="202.68" y1="277.4" x2="202.68" y2="276.0" stroke="#262626" stroke-width="0.8"/>
<line x1="202.68" y1="164.2" x2="202.68" y2="165.6" stroke="#262626" stroke-width="0.8"/>
<text x="202.68" y="288.00" font-size="8.5" text-anchor="middle" fill="#262626" >5</text>
<line x1="180.0" y1="186.84" x2="181.4" y2="186.84" stroke="#262626" stroke-width="0.8"/>
<line x1="293.4" y1="186.84" x2="292.0" y2="186.84" stroke="#262626" stroke-width="0.8"/>
<text x="177.80" y="189.84" font-size="8.5" text-anchor="end" fill="#262626" >5</text>
<line x1="231.03" y1="277.4" x2="231.03" y2="276.0" stroke="#262626" stroke-width="0.8"/>
<line x1="231.03" y1="164.2" x2="231.03" y2="165.6" stroke="#262626" stroke-width="0.8"/>
<text x="231.03" y="288.00" font-size="8.5" text-anchor="middle" fill="#262626" >10</text>
<line x1="180.0" y1="215.14" x2="181.4" y2="215.14" stroke="#262626" stroke-width="0.8"/>
<line x1="293.4" y1="215.14" x2="292.0" y2="215.14" stroke="#262626" stroke-width="0.8"/>
<text x="177.80" y="218.14" font-size="8.5" text-anchor="end" fill="#262626" >10</text>
<line x1="259.38" y1="277.4" x2="259.38" y2="276.0" stroke="#262626" stroke-width="0.8"/>
<line x1="259.38" y1="164.2" x2="259.38" y2="165.6" stroke="#262626" stroke-width="0.8"/>
<text x="259.38" y="288.00" font-size="8.5" text-anchor="middle" fill="#262626" >15</text>
<line x1="180.0" y1="243.44" x2="181.4" y2="243.44" stroke="#262626" stroke-width="0.8"/>
<line x1="293.4" y1="243.44" x2="292.0" y2="243.44" stroke="#262626" stroke-width="0.8"/>
<text x="177.80" y="246.44" font-size="8.5" text-anchor="end" fill="#262626" >15</text>
<line x1="287.73" y1="277.4" x2="287.73" y2="276.0" stroke="#262626" stroke-width="0.8"/>
<line x1="287.73" y1="164.2" x2="287.73" y2="165.6" stroke="#262626" stroke-width="0.8"/>
<text x="287.73" y="288.00" font-size="8.5" text-anchor="middle" fill="#262626" >20</text>
<line x1="180.0" y1="271.74" x2="181.4" y2="271.74" stroke="#262626" stroke-width="0.8"/>
<line x1="293.4" y1="271.74" x2="292.0" y2="271.74" stroke="#262626" stroke-width="0.8"/>
<text x="177.80" y="274.74" font-size="8.5" text-anchor="end" fill="#262626" >20</text>
<text x="236.70" y="299.40" font-size="9.8" text-anchor="middle" fill="#262626" >X</text>
<text x="0.00" y="0.00" font-size="9.8" text-anchor="middle" fill="#262626" transform="translate(164.00,220.80) rotate(-90)">Y</text>
<g clip-path="url(#clip334_164)" stroke-linecap="butt" stroke-width="1.4" fill="none">
<clipPath id="clip334_164"><rect x="334.0" y="164.2" width="113.4" height="113.2"/></clipPath>
<path stroke="#e58268" d="M337.1 171.1l5.1 -2.5M388.1 171.0l5.2 -2.3M410.8 171.0l5.2 -2.3M416.4 169.0l5.4 1.7M427.7 168.9l5.3 2.0M359.6 174.7l5.4 1.7M399.4 176.5l5.3 -2.0M416.5 174.3l5.1 2.5M388.1 182.4l5.2 -2.3M410.7 180.3l5.4 1.7M422.1 182.3l5.2 -2.2M337.0 187.7l5.4 -1.8M376.8 191.3l5.2 2.3M405.1 193.6l5.2 -2.2M433.4 193.5l5.3 -2.1M354.0 199.2l5.3 -2.0M359.6 197.3l5.4 1.7M388.0 197.3l5.4 1.7M342.7 204.9l5.2 -2.3M371.1 202.6l5.1 2.4M376.8 205.1l5.1 -2.5M393.7 204.8l5.4 -1.9M376.8 208.3l5.2 2.3M388.0 210.4l5.4 -1.8M388.1 216.2l5.3 -2.0M393.7 214.2l5.4 1.8M399.4 216.3l5.2 -2.3M410.8 216.3l5.2 -2.3M342.7 221.9l5.2 -2.1M348.5 219.5l5.1 2.5M382.3 220.0l5.4 1.7M416.5 221.9l5.2 -2.3M376.8 227.6l5.2 -2.4M393.7 231.1l5.3 2.0M399.4 233.1l5.3 -1.9M337.0 238.7l5.4 -1.7M342.8 236.6l5.1 2.4M348.4 239.0l5.1 -2.4M388.1 238.9l5.2 -2.2M405.1 238.9l5.2 -2.2M433.4 236.8l5.4 1.9M354.0 250.0l5.4 -1.8M405.1 247.9l5.1 2.4M354.1 253.7l5.2 2.2M371.0 255.6l5.4 -1.8M382.4 253.6l5.2 2.3M399.4 255.7l5.4 -1.8M410.7 255.8l5.3 -2.0M422.2 253.5l5.1 2.6M439.2 256.0l5.1 -2.4M365.3 259.5l5.4 1.8M382.4 261.6l5.2 -2.3M427.7 259.6l5.4 1.7M439.0 261.3l5.4 -1.7M399.4 267.1l5.3 -1.9M433.4 265.0l5.3 2.1M348.5 273.0l5.1 -2.5M376.7 270.7l5.3 2.1M388.0 272.7l5.4 -1.9M433.4 270.7l5.3 2.1"/>
<path stroke="#9f1228" d="M342.5 169.4l5.6 0.9M348.2 169.9l5.7 -0.1M399.2 169.8l5.7 0.1M433.2 169.8l5.7 0.0M336.8 175.5l5.7 0.0M365.2 175.6l5.7 -0.3M421.9 175.5l5.7 0.1M438.9 175.5l5.7 -0.0M359.5 181.1l5.7 0.1M399.2 181.0l5.7 0.3M416.2 181.2l5.7 -0.1M433.3 180.7l5.6 1.0M393.5 186.9l5.7 -0.2M416.2 186.9l5.7 -0.1M438.9 186.9l5.7 -0.1M342.5 192.4l5.7 0.3M353.8 192.5l5.7 0.1M359.5 192.4l5.7 0.2M427.6 192.1l5.6 0.8M370.9 198.2l5.7 -0.1M427.6 198.1l5.7 0.2M336.9 203.3l5.6 1.0M365.2 203.9l5.7 -0.1M416.2 203.7l5.7 0.2M427.6 203.8l5.7 0.1M336.8 209.5l5.7 -0.0M393.5 209.3l5.7 0.3M404.9 209.5l5.7 -0.0M427.6 209.5l5.7 -0.0M382.2 215.3l5.7 -0.3M416.2 215.2l5.7 -0.2M427.6 215.0l5.7 0.3M336.8 226.3l5.7 0.3M342.5 226.6l5.7 -0.3M348.2 226.4l5.7 0.1M382.2 226.5l5.7 -0.1M404.9 226.6l5.7 -0.2M410.5 226.6l5.7 -0.2M438.9 226.4l5.7 0.2M342.5 232.1l5.7 0.1M353.8 232.0l5.7 0.2M416.2 232.2l5.7 -0.3M438.9 232.2l5.7 -0.2M359.5 237.8l5.7 -0.1M393.5 237.6l5.7 0.3M410.5 237.8l5.7 -0.1M342.5 243.4l5.7 0.1M365.2 243.6l5.7 -0.3M421.9 243.5l5.7 -0.1M433.2 243.6l5.7 -0.3M365.2 249.0l5.7 0.3M416.2 249.0l5.7 0.2M438.9 249.0l5.7 0.1M365.2 254.7l5.7 0.2M416.2 254.9l5.7 -0.2M353.8 260.3l5.7 0.2M359.5 260.4l5.7 0.1M370.9 260.3l5.7 0.2M416.2 260.5l5.7 -0.2M433.2 260.5l5.7 -0.1M342.5 266.0l5.7 0.1M348.2 266.2l5.7 -0.2M393.5 266.2l5.7 -0.2M410.5 266.2l5.7 -0.2M416.2 266.0l5.7 0.1M427.6 266.1l5.7 -0.1M438.9 266.1l5.7 0.0M353.8 271.6l5.7 0.2M359.5 271.6l5.7 0.3M365.2 271.7l5.7 0.0M410.5 271.8l5.7 -0.1M421.9 271.7l5.7 0.1M427.6 271.6l5.7 0.2M438.9 271.6l5.7 0.2"/>
<path stroke="#de715a" d="M354.0 169.0l5.4 1.8M382.3 170.7l5.4 -1.7M393.7 170.9l5.2 -2.1M354.0 176.4l5.4 -1.7M433.4 174.7l5.4 1.7M354.0 182.0l5.4 -1.7M365.3 182.0l5.4 -1.7M376.8 180.0l5.1 2.4M439.1 182.2l5.3 -2.0M371.1 188.0l5.2 -2.3M388.0 185.9l5.4 1.8M410.8 188.1l5.1 -2.5M427.8 185.6l5.1 2.4M337.0 193.4l5.4 -1.9M382.4 193.5l5.3 -1.9M388.0 191.6l5.3 1.9M399.4 193.5l5.3 -2.0M410.7 191.6l5.4 1.8M439.2 191.3l5.1 2.5M342.7 199.1l5.4 -1.9M348.5 196.9l5.1 2.5M365.3 199.0l5.4 -1.7M382.5 199.4l5.1 -2.4M393.7 199.1l5.3 -1.9M399.3 197.3l5.4 1.8M388.2 205.1l5.1 -2.5M399.3 202.9l5.4 1.7M348.4 210.6l5.2 -2.2M354.0 208.6l5.4 1.8M371.0 210.5l5.3 -2.0M422.0 210.4l5.4 -1.8M433.5 210.7l5.1 -2.5M439.1 210.4l5.3 -1.9M337.0 214.1l5.3 2.0M354.1 216.4l5.1 -2.5M376.8 214.0l5.2 2.3M405.2 213.9l5.1 2.5M439.1 214.2l5.3 1.9M376.8 221.9l5.2 -2.3M388.1 219.6l5.2 2.4M427.8 219.6l5.1 2.4M439.1 219.7l5.2 2.2M354.0 227.5l5.3 -2.1M399.4 227.4l5.3 -1.9M416.4 225.4l5.3 2.0M371.0 233.1l5.3 -2.0M376.7 231.1l5.2 2.1M382.5 230.9l5.1 2.5M405.0 231.2l5.3 1.9M427.7 231.1l5.3 1.9M433.5 233.3l5.2 -2.3M354.1 236.6l5.2 2.4M371.0 236.8l5.3 2.0M399.5 236.6l5.1 2.4M416.5 236.6l5.1 2.4M399.5 242.2l5.1 2.5M405.1 244.5l5.3 -2.1M439.1 244.6l5.2 -2.2M399.5 247.9l5.1 2.5M410.7 248.2l5.4 1.8M348.4 255.9l5.2 -2.2M388.2 256.0l5.1 -2.6M393.7 253.9l5.4 1.8M433.4 253.9l5.4 1.7M337.1 259.3l5.2 2.3M342.7 261.4l5.3 -2.0M348.4 259.3l5.2 2.2M388.0 259.5l5.4 1.8M405.1 259.4l5.3 2.1M410.8 261.6l5.1 -2.4M337.1 267.2l5.2 -2.2M359.8 264.9l5.2 2.3M376.7 266.9l5.4 -1.7M337.0 270.8l5.3 2.0M382.5 272.9l5.1 -2.4M393.7 270.8l5.4 1.8M416.4 272.7l5.4 -1.8"/>
<path stroke="#b2182b" d="M359.5 170.2l5.6 -0.7M348.2 175.1l5.6 0.9M370.9 175.6l5.7 -0.2M382.2 180.8l5.6 0.7M393.6 181.5l5.6 -0.6M342.6 187.4l5.6 -1.1M348.2 186.4l5.6 0.9M365.2 187.3l5.6 -0.9M348.2 192.4l5.7 0.2M404.9 197.6l5.6 1.0M353.9 221.2l5.6 -0.9M359.5 220.5l5.6 0.7M370.9 220.5l5.6 0.7M399.2 220.8l5.7 0.1M421.9 220.3l5.6 1.0M387.9 226.5l5.7 -0.1M393.6 226.0l5.6 1.0M348.2 242.9l5.6 1.0M336.9 249.5l5.6 -0.8M370.9 248.8l5.6 0.6M376.6 254.3l5.6 0.9M404.9 254.3l5.6 0.9M376.5 260.5l5.7 -0.2"/>
<path stroke="#8c0c25" d="M365.2 169.9l5.7 -0.2M342.5 175.4l5.7 0.1M376.5 175.6l5.7 -0.1M382.2 175.4l5.7 0.1M387.9 175.4l5.7 0.3M410.5 175.6l5.7 -0.2M427.6 175.5l5.7 0.1M404.9 181.1l5.7 0.2M359.5 186.8l5.7 0.1M376.5 187.0l5.7 -0.3M399.2 186.9l5.7 -0.1M404.9 186.7l5.7 0.3M421.9 186.9l5.7 -0.1M433.2 187.0l5.7 -0.3M365.2 192.4l5.7 0.1M393.5 192.4l5.7 0.2M336.8 198.2l5.7 0.0M410.5 198.3l5.7 -0.3M421.9 198.1l5.7 0.0M438.9 198.3l5.7 -0.3M348.2 203.7l5.7 0.3M353.8 203.9l5.7 -0.1M359.5 203.7l5.7 0.2M382.2 203.9l5.7 -0.2M410.5 203.8l5.7 0.0M438.9 203.7l5.7 0.2M359.5 209.6l5.7 -0.3M382.2 209.3l5.7 0.3M399.2 209.4l5.7 0.1M410.5 209.4l5.7 0.2M359.5 215.3l5.7 -0.3M421.9 215.3l5.7 -0.3M433.2 215.2l5.7 -0.0M336.8 220.7l5.7 0.2M365.2 220.7l5.7 0.3M393.5 220.9l5.7 -0.3M404.9 220.9l5.7 -0.2M410.5 220.9l5.7 -0.1M433.2 220.7l5.7 0.3M365.2 226.5l5.7 -0.1M421.9 226.3l5.7 0.3M427.6 226.5l5.7 -0.1M336.8 232.0l5.7 0.3M359.5 232.3l5.7 -0.3M365.2 232.1l5.7 0.1M410.5 232.1l5.7 0.0M421.9 232.0l5.7 0.3M365.2 237.7l5.7 0.2M376.5 237.8l5.7 -0.1M382.2 237.7l5.7 0.1M421.9 237.8l5.7 -0.1M427.6 237.7l5.7 0.2M336.8 243.5l5.7 -0.2M359.5 243.4l5.7 -0.0M370.9 243.4l5.7 0.0M376.5 243.3l5.7 0.2M382.2 243.4l5.7 -0.0M387.9 243.5l5.7 -0.1M410.5 243.5l5.7 -0.1M416.2 243.4l5.7 0.1M427.6 243.4l5.7 0.1M359.5 249.1l5.7 -0.1M376.5 249.0l5.7 0.2M387.9 249.0l5.7 0.3M393.5 249.2l5.7 -0.2M421.9 249.1l5.7 0.0M427.6 249.0l5.7 0.2M359.5 254.8l5.7 -0.1M393.5 260.5l5.7 -0.1M399.2 260.5l5.7 -0.2M421.9 260.5l5.7 -0.2M353.8 266.0l5.7 0.2M370.9 266.2l5.7 -0.2M382.2 266.2l5.7 -0.1M387.9 266.1l5.7 0.0M404.9 266.2l5.7 -0.2M342.5 271.7l5.7 0.1M404.9 271.7l5.7 0.0"/>
<path stroke="#bb2a34" d="M370.9 169.5l5.6 0.7M404.9 175.2l5.6 0.6M348.2 180.8l5.6 0.7M416.2 192.9l5.6 -0.9M348.2 214.8l5.6 0.7"/>
<path stroke="#d6604d" d="M376.8 171.0l5.2 -2.4M382.5 188.1l5.1 -2.4M405.0 204.7l5.4 -1.9M371.0 216.0l5.4 -1.8M359.7 225.4l5.3 2.1M433.5 225.2l5.1 2.5M342.7 250.1l5.3 -1.9M365.4 267.1l5.3 -2.0"/>
<path stroke="#ec9475" d="M405.1 168.9l5.3 2.0M439.0 170.8l5.4 -1.8M393.8 176.8l5.1 -2.5M337.0 180.1l5.3 2.1M342.7 182.2l5.3 -2.0M371.0 180.2l5.3 1.9M376.7 197.3l5.4 1.8M422.1 202.8l5.3 2.0M433.5 202.5l5.1 2.6M342.7 208.4l5.3 2.1M365.4 208.3l5.1 2.4M416.5 208.2l5.1 2.5M342.7 216.2l5.3 -2.0M365.5 213.9l5.1 2.5M371.1 225.3l5.2 2.2M439.1 238.9l5.2 -2.3M348.3 248.3l5.4 1.7M382.5 247.9l5.1 2.5M337.1 256.0l5.1 -2.5M342.7 253.7l5.2 2.1M427.8 255.9l5.2 -2.2M399.5 273.0l5.1 -2.5"/>
<path stroke="#7a0622" d="M421.9 169.9l5.7 -0.1M427.6 181.1l5.7 0.1M353.8 186.7l5.7 0.2M370.9 192.5l5.7 -0.0M421.9 192.4l5.7 0.2M416.2 198.2l5.7 -0.1M433.2 198.1l5.7 0.1M348.2 232.3l5.7 -0.3M387.9 232.0l5.7 0.2M353.8 243.3l5.7 0.2M393.5 243.5l5.7 -0.2M433.2 249.2l5.7 -0.3M421.9 266.1l5.7 -0.0M370.9 271.7l5.7 0.0"/>
</g>
<rect x="334.0" y="164.2" width="113.4" height="113.2" fill="none" stroke="#262626" stroke-width="0.8"/>
<line x1="356.68" y1="277.4" x2="356.68" y2="276.0" stroke="#262626" stroke-width="0.8"/>
<line x1="356.68" y1="164.2" x2="356.68" y2="165.6" stroke="#262626" stroke-width="0.8"/>
<text x="356.68" y="288.00" font-size="8.5" text-anchor="middle" fill="#262626" >5</text>
<line x1="334.0" y1="186.84" x2="335.4" y2="186.84" stroke="#262626" stroke-width="0.8"/>
<line x1="447.4" y1="186.84" x2="446.0" y2="186.84" stroke="#262626" stroke-width="0.8"/>
<text x="331.80" y="189.84" font-size="8.5" text-anchor="end" fill="#262626" >5</text>
<line x1="385.03" y1="277.4" x2="385.03" y2="276.0" stroke="#262626" stroke-width="0.8"/>
<line x1="385.03" y1="164.2" x2="385.03" y2="165.6" stroke="#262626" stroke-width="0.8"/>
<text x="385.03" y="288.00" font-size="8.5" text-anchor="middle" fill="#262626" >10</text>
<line x1="334.0" y1="215.14" x2="335.4" y2="215.14" stroke="#262626" stroke-width="0.8"/>
<line x1="447.4" y1="215.14" x2="446.0" y2="215.14" stroke="#262626" stroke-width="0.8"/>
<text x="331.80" y="218.14" font-size="8.5" text-anchor="end" fill="#262626" >10</text>
<line x1="413.38" y1="277.4" x2="413.38" y2="276.0" stroke="#262626" stroke-width="0.8"/>
<line x1="413.38" y1="164.2" x2="413.38" y2="165.6" stroke="#262626" stroke-width="0.8"/>
<text x="413.38" y="288.00" font-size="8.5" text-anchor="middle" fill="#262626" >15</text>
<line x1="334.0" y1="243.44" x2="335.4" y2="243.44" stroke="#262626" stroke-width="0.8"/>
<line x1="447.4" y1="243.44" x2="446.0" y2="243.44" stroke="#262626" stroke-width="0.8"/>
<text x="331.80" y="246.44" font-size="8.5" text-anchor="end" fill="#262626" >15</text>
<line x1="441.73" y1="277.4" x2="441.73" y2="276.0" stroke="#262626" stroke-width="0.8"/>
<line x1="441.73" y1="164.2" x2="441.73" y2="165.6" stroke="#262626" stroke-width="0.8"/>
<text x="441.73" y="288.00" font-size="8.5" text-anchor="middle" fill="#262626" >20</text>
<line x1="334.0" y1="271.74" x2="335.4" y2="271.74" stroke="#262626" stroke-width="0.8"/>
<line x1="447.4" y1="271.74" x2="446.0" y2="271.74" stroke="#262626" stroke-width="0.8"/>
<text x="331.80" y="274.74" font-size="8.5" text-anchor="end" fill="#262626" >20</text>
<text x="390.70" y="299.40" font-size="9.8" text-anchor="middle" fill="#262626" >X</text>
<text x="0.00" y="0.00" font-size="9.8" text-anchor="middle" fill="#262626" transform="translate(318.00,220.80) rotate(-90)">Y</text>
<g clip-path="url(#clip26_310)" stroke-linecap="butt" stroke-width="1.4" fill="none">
<clipPath id="clip26_310"><rect x="26.7" y="310.5" width="113.4" height="113.2"/></clipPath>
<path stroke="#57a0ca" d="M31.6 318.9l1.6 -5.4M76.9 324.5l1.6 -5.4M93.8 319.2l2.0 5.3M48.4 324.8l2.0 5.3M54.0 324.8l2.0 5.3M76.5 324.9l2.4 5.1M122.1 330.1l1.9 -5.3M65.5 336.1l1.8 5.4M133.6 336.1l1.6 5.4M31.4 364.4l1.9 5.3M54.0 364.5l2.1 5.3M42.4 375.3l2.7 -5.0M48.3 375.8l2.1 5.2M105.0 375.8l2.1 5.3M42.8 386.7l1.9 -5.3M53.9 387.2l2.3 5.2M36.9 403.6l2.4 -5.1M37.2 409.4l1.7 -5.4M99.3 409.3l2.2 -5.2M53.9 415.0l2.3 -5.2M82.5 415.4l1.8 5.4"/>
<path stroke="#6aacd0" d="M36.8 313.6l2.4 5.1M31.2 319.2l2.4 5.1M82.2 319.3l2.4 5.1M105.0 324.4l2.2 -5.2M133.4 330.5l2.1 5.3M99.4 352.8l2.0 -5.3M70.8 353.2l2.5 5.1M99.5 358.7l1.8 5.4M59.8 370.1l1.8 5.4M42.8 381.1l1.8 -5.4M93.8 386.7l1.9 -5.3M76.7 387.1l2.1 5.3M99.5 392.4l1.8 -5.4M76.7 398.0l2.1 -5.3M127.6 403.7l2.3 -5.2M65.1 409.2l2.6 -5.0M31.1 409.8l2.5 5.1M48.5 409.7l1.7 5.4M116.3 415.4l2.3 5.2"/>
<path stroke="#2166ac" d="M43.4 313.3l0.6 5.6M100.3 324.6l0.3 -5.7M66.1 341.6l0.6 5.6M32.2 358.6l0.3 -5.7M49.2 353.0l0.4 5.6M77.7 353.0l0.0 5.7M49.2 358.6l0.4 5.6M77.5 364.3l0.4 -5.6M94.7 358.6l0.1 5.7M32.1 386.9l0.5 -5.6M105.9 386.9l0.4 -5.6M117.1 398.2l0.6 -5.6M117.2 403.9l0.4 -5.6M89.0 409.5l0.1 -5.7M122.9 409.5l0.4 -5.6M94.5 409.6l0.4 5.6M77.6 420.9l0.3 -5.7"/>
<path stroke="#b2182b" d="M46.5 316.3l5.7 -0.3M108.9 316.6l5.6 -0.9M63.6 322.5l5.5 -1.3M52.2 333.2l5.7 -0.0M52.3 339.3l5.6 -0.9M52.3 345.1l5.5 -1.3M69.2 344.7l5.7 -0.4M29.5 372.7l5.7 0.1M63.6 372.3l5.6 0.9M46.6 384.5l5.6 -0.9M109.0 383.4l5.5 1.4M103.3 389.1l5.5 1.3M97.6 400.8l5.7 0.5"/>
<path stroke="#f6b293" d="M52.5 317.4l5.1 -2.5M114.9 317.4l5.1 -2.5M47.0 320.3l4.7 3.1M63.9 328.8l5.0 -2.6M80.9 326.2l5.0 2.6M86.5 326.2l5.1 2.5M97.9 326.2l5.1 2.5M69.5 331.8l5.0 2.6M75.1 334.2l5.2 -2.1M86.6 331.7l4.9 2.8M120.6 334.5l5.0 -2.7M58.2 340.0l5.1 -2.5M75.3 343.1l4.9 2.8M35.6 357.2l4.9 -2.9M58.2 354.6l5.1 2.4M86.5 354.6l5.2 2.3M64.0 363.0l4.8 -3.1M58.2 377.2l5.1 2.4M97.9 377.2l5.1 2.5M114.9 379.6l5.1 -2.4M126.4 376.9l4.8 3.1M132.0 388.2l4.8 3.1M132.0 393.9l4.9 2.9M46.9 399.7l5.0 2.7M75.3 399.6l4.9 2.9M131.9 402.4l5.0 -2.6M29.8 405.6l5.2 2.2M131.8 407.8l5.2 -2.2M69.5 413.6l5.1 -2.4M132.0 413.8l4.9 -2.9"/>
<path stroke="#7eb8d7" d="M59.5 318.7l2.4 -5.1M88.0 313.5l2.1 5.3M99.6 364.4l1.6 5.4M54.2 375.4l1.8 -5.4M133.6 386.8l1.7 -5.4M127.7 392.3l2.2 -5.2M93.8 404.0l1.9 5.3M99.1 409.9l2.6 5.0M37.1 415.4l1.8 5.4"/>
<path stroke="#3a88bd" d="M65.3 318.8l2.1 -5.2M70.8 313.6l2.6 5.1M76.7 313.5l2.1 5.2M127.7 324.4l2.1 -5.2M42.8 330.1l1.9 -5.3M99.4 341.5l1.9 -5.3M104.8 341.3l2.5 -5.1M127.7 336.2l2.2 5.2M42.4 358.3l2.6 -5.0M53.9 353.2l2.2 5.2M104.9 358.4l2.4 -5.2M127.9 353.1l1.7 5.4M37.1 358.8l1.8 5.4M42.6 358.8l2.2 5.2M54.0 358.8l2.2 5.2M93.8 364.4l1.8 5.4M110.8 375.4l1.9 -5.3M53.8 386.6l2.5 -5.1M70.9 392.8l2.3 5.2M116.4 409.7l2.1 5.3M104.9 415.5l2.4 5.1"/>
<path stroke="#fae9df" d="M81.3 314.2l4.1 3.9M126.6 318.0l4.3 -3.7M47.5 341.0l3.7 -4.3M109.5 376.6l4.4 3.6M41.5 419.8l4.4 -3.6"/>
<path stroke="#c43c3c" d="M91.9 316.6l5.6 -0.9M58.0 321.1l5.5 1.5M69.3 322.4l5.6 -1.1M35.3 332.6l5.6 1.1M126.0 332.4l5.5 1.5M29.6 349.4l5.5 1.4M69.3 360.9l5.6 1.0M75.0 367.8l5.5 -1.5M86.3 366.4l5.5 1.3M109.0 367.8l5.5 -1.3M120.3 372.2l5.6 1.1M80.6 377.9l5.6 1.0M35.3 383.4l5.5 1.3M75.0 384.7l5.5 -1.2M86.3 390.4l5.5 -1.2M109.0 389.2l5.6 1.1M57.9 395.0l5.6 0.9M52.3 418.6l5.6 -1.1"/>
<path stroke="#fce2d3" d="M98.4 318.2l4.0 -4.0M92.7 325.6l4.2 3.8M81.5 331.0l3.7 4.3M103.9 331.3l4.3 3.7M41.5 337.0l4.4 3.6M75.8 336.8l4.0 4.1M47.5 346.5l3.8 -4.2M104.2 346.6l3.7 -4.3M53.2 348.0l3.8 4.2M109.7 353.9l4.2 3.8M132.6 359.3l3.7 4.2M104.0 365.2l4.1 3.9M115.3 369.0l4.3 -3.7M87.1 374.8l3.9 -4.1M87.1 382.0l3.8 4.2M120.9 402.9l4.4 -3.6M41.6 410.4l4.1 3.9M75.8 410.3l3.9 4.1M104.0 414.3l4.2 -3.8"/>
<path stroke="#9f1228" d="M103.2 316.2l5.7 -0.0M108.9 333.0l5.7 0.3M57.9 344.5l5.7 -0.1M91.9 372.9l5.7 -0.2M57.9 389.9l5.7 -0.3M40.9 395.2l5.7 0.4M29.5 401.1l5.7 -0.0M91.9 400.8l5.7 0.4"/>
<path stroke="#ec9475" d="M120.7 317.6l4.9 -2.9M52.6 320.5l5.0 2.7M109.3 323.2l5.0 -2.8M29.8 326.2l5.1 2.6M35.6 326.0l4.8 3.0M69.5 326.2l5.0 2.6M103.7 329.0l4.7 -3.1M132.0 326.0l4.9 2.9M35.6 337.4l4.9 2.8M69.7 337.3l4.8 3.1M41.3 343.0l4.8 3.0M86.5 343.2l5.1 2.5M98.1 346.0l4.7 -3.1M35.5 351.4l5.0 -2.6M35.5 365.8l5.0 2.6M41.1 365.9l5.1 2.4M131.8 368.2l5.3 -2.1M29.8 379.6l5.2 -2.3M92.2 377.2l5.1 2.4M29.8 390.8l5.2 -2.2M58.3 399.7l4.9 2.8M69.5 399.9l5.1 2.4M41.2 405.4l5.0 2.7M46.8 405.6l5.2 2.1M86.7 413.9l4.8 -3.0M63.8 416.8l5.1 2.4"/>
<path stroke="#fddbc7" d="M132.5 314.1l3.8 4.2M87.2 319.7l3.8 4.2M115.2 334.9l4.4 -3.6M121.0 336.9l4.2 3.8M81.2 359.6l4.3 3.6M58.7 386.1l4.0 -4.1M120.9 387.9l4.3 3.6"/>
<path stroke="#4393c3" d="M37.0 324.4l2.2 -5.2M65.2 335.7l2.4 -5.1M110.9 341.5l1.8 -5.4M93.7 341.8l2.1 5.3M110.9 347.2l1.7 -5.4M116.5 347.1l1.8 -5.4M122.3 347.2l1.6 -5.4M127.6 347.0l2.3 -5.2M133.5 341.8l1.9 5.3M48.6 352.8l1.6 -5.4M59.9 352.8l1.7 -5.4M71.2 347.4l1.7 5.4M88.0 352.7l2.2 -5.2M93.8 347.4l1.9 5.3M105.0 347.5l2.1 5.3M127.8 352.8l1.9 -5.3M133.5 347.4l1.9 5.3M93.8 353.1l1.8 5.4M116.5 358.5l1.8 -5.4M88.2 358.7l1.7 5.4M116.4 364.1l2.1 -5.3M127.8 369.8l1.9 -5.3M48.1 370.2l2.6 5.1M121.9 386.6l2.4 -5.1M82.4 392.4l1.9 -5.3M93.9 387.0l1.6 5.4M99.3 392.8l2.3 5.2M121.8 397.9l2.5 -5.1M42.5 398.5l2.4 5.2M65.3 403.7l2.3 -5.2M105.0 403.7l2.1 -5.3M110.9 403.8l1.6 -5.4M128.0 415.1l1.6 -5.4M99.2 415.5l2.4 5.1"/>
<path stroke="#d1e5f0" d="M41.8 319.7l3.8 4.2M120.9 348.3l4.4 3.6M64.3 365.2l4.2 3.8M64.3 397.3l4.2 -3.8"/>
<path stroke="#daeaf2" d="M115.5 319.8l3.9 4.1M58.8 329.5l3.9 -4.1M126.5 325.7l4.4 3.5M87.1 336.8l4.0 4.0M121.2 357.9l3.8 -4.2M126.6 359.6l4.4 3.6M81.4 370.7l3.9 4.1M104.0 370.8l4.1 3.9M126.9 370.7l3.8 4.2M132.4 370.7l4.0 4.1M53.0 376.5l4.1 3.9M87.0 376.5l4.2 3.9M115.3 382.2l4.2 3.8M126.8 382.0l3.8 4.2M41.6 387.8l4.2 3.8M115.3 391.6l4.2 -3.8M35.9 397.2l4.4 -3.6M87.0 397.3l4.2 -3.8M126.7 397.3l4.1 -3.9M81.3 399.2l4.2 3.8M75.6 404.9l4.3 3.7M81.5 404.6l3.7 4.2M30.5 420.2l3.8 -4.2"/>
<path stroke="#f8c0a4" d="M120.6 320.5l5.0 2.7M114.8 371.7l5.3 2.1M92.2 394.1l5.0 2.6M63.8 413.5l5.2 -2.2"/>
<path stroke="#2a71b2" d="M134.4 324.6l0.0 -5.7M43.7 336.0l0.1 -5.7M49.4 330.3l0.0 5.7M100.2 336.0l0.4 -5.6M77.5 352.9l0.5 -5.6M83.1 358.6l0.7 -5.6M100.1 353.0l0.5 5.6M60.7 364.3l0.1 -5.7M66.2 381.2l0.4 -5.6M71.8 375.6l0.6 5.6M66.2 381.3l0.4 5.6M71.7 386.9l0.6 -5.6M49.4 392.6l0.0 -5.7M72.0 392.6l0.0 -5.7M49.3 392.6l0.2 5.7M105.8 398.2l0.5 -5.6M88.9 398.2l0.3 5.7M72.0 415.2l0.0 5.7M94.7 415.2l0.1 5.7M123.0 415.2l0.2 5.7"/>
<path stroke="#1a5899" d="M111.7 330.3l0.2 -5.7M32.1 330.3l0.6 5.6M32.2 336.0l0.3 5.6M66.3 352.9l0.1 -5.7M83.1 352.9l0.5 -5.6M66.3 358.6l0.2 -5.7M134.4 358.6l0.0 -5.7M32.2 364.3l0.3 -5.6M49.4 369.9l0.1 -5.7M60.5 364.3l0.4 5.6M122.8 364.3l0.6 5.6M100.2 369.9l0.5 5.6M66.1 386.9l0.6 5.6M117.1 409.5l0.6 -5.6M60.6 415.2l0.2 -5.7M83.1 415.2l0.6 -5.6M122.9 415.2l0.5 -5.6M111.7 420.9l0.2 -5.7"/>
<path stroke="#f4a582" d="M115.0 329.0l4.8 -3.0M81.0 340.4l4.7 -3.1M115.0 340.2l4.9 -2.8M29.7 345.5l5.2 -2.1M35.5 343.2l5.1 2.5M81.0 343.0l4.8 3.0M109.2 351.3l5.2 -2.4M69.6 368.5l4.9 -2.8M35.5 374.0l5.1 -2.5M35.4 379.6l5.2 -2.3M75.3 380.0l4.8 -3.1M80.8 385.2l5.2 -2.3M29.8 394.3l5.2 2.3M52.4 396.5l5.2 -2.2M109.3 394.0l5.0 2.7M52.6 399.6l4.8 3.0M103.7 405.1l4.7 3.2M109.3 410.9l4.8 3.0M58.2 419.3l5.1 -2.5M86.5 416.9l5.2 2.3"/>
<path stroke="#e4eef4" d="M58.6 335.0l4.2 -3.8M92.8 331.0l3.8 4.2M132.6 376.3l3.7 4.3M52.9 408.5l4.4 -3.6M69.8 408.5l4.4 -3.5M109.8 408.8l3.9 -4.1M36.0 414.3l4.1 -3.9"/>
<path stroke="#e58268" d="M92.2 337.5l5.0 2.7M97.8 383.0l5.2 2.2M126.2 419.2l5.2 -2.3"/>
<path stroke="#8c0c25" d="M40.9 350.3l5.7 -0.4M120.3 361.5l5.7 -0.1M131.6 418.2l5.7 -0.4"/>
<path stroke="#bb2a34" d="M114.6 350.6l5.6 -1.0M103.3 360.8l5.5 1.2M109.0 361.9l5.6 -1.0M80.6 366.5l5.5 1.3M69.3 373.5l5.5 -1.5M75.0 373.5l5.5 -1.5M120.3 377.9l5.6 1.0M35.3 389.0l5.5 1.4M80.6 396.0l5.5 -1.2M58.0 407.4l5.5 -1.3M126.0 406.2l5.6 1.1M46.7 417.3l5.5 1.6"/>
</g>
<rect x="26.7" y="310.5" width="113.4" height="113.2" fill="none" stroke="#262626" stroke-width="0.8"/>
<line x1="49.38" y1="423.7" x2="49.38" y2="422.3" stroke="#262626" stroke-width="0.8"/>
<line x1="49.38" y1="310.5" x2="49.38" y2="311.9" stroke="#262626" stroke-width="0.8"/>
<text x="49.38" y="434.30" font-size="8.5" text-anchor="middle" fill="#262626" >5</text>
<line x1="26.7" y1="333.14" x2="28.099999999999998" y2="333.14" stroke="#262626" stroke-width="0.8"/>
<line x1="140.1" y1="333.14" x2="138.7" y2="333.14" stroke="#262626" stroke-width="0.8"/>
<text x="24.50" y="336.14" font-size="8.5" text-anchor="end" fill="#262626" >5</text>
<line x1="77.73" y1="423.7" x2="77.73" y2="422.3" stroke="#262626" stroke-width="0.8"/>
<line x1="77.73" y1="310.5" x2="77.73" y2="311.9" stroke="#262626" stroke-width="0.8"/>
<text x="77.73" y="434.30" font-size="8.5" text-anchor="middle" fill="#262626" >10</text>
<line x1="26.7" y1="361.44" x2="28.099999999999998" y2="361.44" stroke="#262626" stroke-width="0.8"/>
<line x1="140.1" y1="361.44" x2="138.7" y2="361.44" stroke="#262626" stroke-width="0.8"/>
<text x="24.50" y="364.44" font-size="8.5" text-anchor="end" fill="#262626" >10</text>
<line x1="106.08" y1="423.7" x2="106.08" y2="422.3" stroke="#262626" stroke-width="0.8"/>
<line x1="106.08" y1="310.5" x2="106.08" y2="311.9" stroke="#262626" stroke-width="0.8"/>
<text x="106.08" y="434.30" font-size="8.5" text-anchor="middle" fill="#262626" >15</text>
<line x1="26.7" y1="389.74" x2="28.099999999999998" y2="389.74" stroke="#262626" stroke-width="0.8"/>
<line x1="140.1" y1="389.74" x2="138.7" y2="389.74" stroke="#262626" stroke-width="0.8"/>
<text x="24.50" y="392.74" font-size="8.5" text-anchor="end" fill="#262626" >15</text>
<line x1="134.43" y1="423.7" x2="134.43" y2="422.3" stroke="#262626" stroke-width="0.8"/>
<line x1="134.43" y1="310.5" x2="134.43" y2="311.9" stroke="#262626" stroke-width="0.8"/>
<text x="134.43" y="434.30" font-size="8.5" text-anchor="middle" fill="#262626" >20</text>
<line x1="26.7" y1="418.04" x2="28.099999999999998" y2="418.04" stroke="#262626" stroke-width="0.8"/>
<line x1="140.1" y1="418.04" x2="138.7" y2="418.04" stroke="#262626" stroke-width="0.8"/>
<text x="24.50" y="421.04" font-size="8.5" text-anchor="end" fill="#262626" >20</text>
<text x="83.40" y="445.70" font-size="9.8" text-anchor="middle" fill="#262626" >X</text>
<text x="0.00" y="0.00" font-size="9.8" text-anchor="middle" fill="#262626" transform="translate(10.70,367.10) rotate(-90)">Y</text>
<g clip-path="url(#clip180_310)" stroke-linecap="butt" stroke-width="1.4" fill="none">
<clipPath id="clip180_310"><rect x="180.0" y="310.5" width="113.4" height="113.2"/></clipPath>
<path stroke="#57a0ca" d="M184.2 318.6l3.0 -4.8M286.3 318.6l2.8 -4.9M275.0 369.6l2.8 -4.9M275.3 375.4l2.3 -5.2M240.9 376.0l2.9 4.9M241.2 387.2l2.4 5.1M269.3 398.6l2.8 4.9M286.7 403.7l2.1 -5.3M275.0 404.3l2.8 4.9"/>
<path stroke="#f4a582" d="M188.8 317.3l5.2 -2.3M279.7 320.3l4.8 3.0M240.0 329.0l4.8 -3.0M222.9 331.8l5.0 2.7M222.9 351.5l5.0 -2.7M228.4 356.9l5.2 -2.3M234.2 354.5l5.0 2.7M285.2 357.1l5.1 -2.5M206.0 359.9l4.8 3.1M256.8 362.6l5.2 -2.3M245.6 376.9l4.8 2.9M222.9 385.5l4.9 -2.9M262.7 385.6l4.7 -3.1M273.9 385.4l5.0 -2.6M228.7 388.2l4.8 3.1M268.2 388.5l5.1 2.5M200.2 396.8l5.0 -2.7M205.7 396.5l5.3 -2.1M211.5 396.6l5.1 -2.4M256.8 394.1l5.1 2.5M273.8 394.3l5.2 2.2M200.3 402.6l4.8 -3.0M200.3 408.2l4.8 -3.0M194.4 419.2l5.2 -2.3M234.2 419.3l5.0 -2.6"/>
<path stroke="#8c0c25" d="M194.2 316.1l5.7 0.1M211.2 316.3l5.7 -0.2M239.5 316.0l5.7 0.3M262.2 316.3l5.7 -0.2M279.2 316.1l5.7 0.1M194.2 321.9l5.7 -0.1M211.2 321.7l5.7 0.2M216.9 321.9l5.7 -0.3M250.9 321.9l5.7 -0.1M262.2 321.8l5.7 0.0M182.8 327.5l5.7 -0.1M199.8 327.4l5.7 0.2M216.9 327.3l5.7 0.3M222.5 327.4l5.7 0.1M250.9 327.5l5.7 0.0M256.5 327.6l5.7 -0.3M273.6 327.4l5.7 0.1M182.8 333.1l5.7 -0.0M194.2 333.3l5.7 -0.2M199.8 333.1l5.7 0.2M228.2 333.2l5.7 -0.2M233.9 333.2l5.7 -0.1M239.5 333.2l5.7 -0.2M256.5 333.2l5.7 -0.0M262.2 333.1l5.7 0.0M267.9 333.2l5.7 -0.2M205.5 338.7l5.7 0.2M216.9 338.7l5.7 0.2M233.9 338.8l5.7 -0.0M250.9 338.9l5.7 -0.2M256.5 338.9l5.7 -0.3M182.8 344.5l5.7 -0.1M188.5 344.5l5.7 0.0M205.5 344.5l5.7 -0.1M216.9 344.3l5.7 0.3M233.9 344.4l5.7 0.1M239.5 344.4l5.7 0.0M250.9 344.3l5.7 0.2M256.5 344.3l5.7 0.3M182.8 350.1l5.7 0.1M228.2 350.1l5.7 -0.0M239.5 350.0l5.7 0.2M188.5 355.7l5.7 0.2M194.2 355.6l5.7 0.3M199.8 355.6l5.7 0.3M188.5 361.3l5.7 0.2M199.8 361.3l5.7 0.2M250.9 361.3l5.7 0.2M194.2 372.8l5.7 -0.1M199.8 372.8l5.7 -0.1M211.2 372.8l5.7 -0.1M188.5 378.5l5.7 -0.2M194.2 378.4l5.7 -0.0M188.5 384.2l5.7 -0.2M205.5 384.2l5.7 -0.2M250.9 384.0l5.7 0.1M194.2 389.6l5.7 0.2M199.8 389.7l5.7 0.0M256.5 389.7l5.7 0.2M182.8 400.9l5.7 0.3M211.2 406.6l5.7 0.3M216.9 406.6l5.7 0.2M228.2 406.7l5.7 -0.0M245.2 406.8l5.7 -0.2M211.2 412.4l5.7 -0.1M250.9 412.3l5.7 0.2M262.2 412.4l5.7 -0.1M205.5 418.1l5.7 -0.1M211.2 418.0l5.7 0.1M245.2 418.0l5.7 0.1"/>
<path stroke="#9f1228" d="M199.8 316.1l5.7 0.2M222.5 316.1l5.7 0.1M228.2 316.0l5.7 0.3M233.9 316.2l5.7 -0.2M250.9 316.2l5.7 -0.0M256.5 316.2l5.7 -0.2M267.9 316.2l5.7 -0.0M205.5 321.8l5.7 0.0M222.5 321.9l5.7 -0.1M228.2 321.9l5.7 -0.1M284.9 322.3l5.6 -1.0M188.5 327.5l5.7 -0.1M194.2 327.4l5.7 0.1M205.5 327.6l5.7 -0.3M211.2 327.6l5.7 -0.3M228.2 327.6l5.7 -0.3M233.9 327.5l5.7 0.0M267.9 327.4l5.7 0.1M284.9 327.4l5.7 0.1M188.5 333.2l5.7 -0.2M205.5 333.2l5.7 -0.1M211.2 333.1l5.7 0.1M245.2 333.1l5.7 0.1M250.9 333.1l5.7 0.0M273.6 333.2l5.7 -0.2M279.2 333.2l5.7 -0.1M284.9 333.0l5.7 0.2M188.5 338.9l5.7 -0.2M194.2 338.9l5.7 -0.2M211.2 338.8l5.7 0.1M239.5 338.8l5.7 0.0M245.2 338.8l5.7 0.0M262.2 338.7l5.7 0.3M267.9 338.8l5.7 -0.0M273.6 338.7l5.7 0.2M279.2 338.7l5.7 0.1M284.9 338.7l5.7 0.2M194.2 344.5l5.7 -0.1M199.8 344.4l5.7 0.2M228.2 344.3l5.7 0.2M245.2 344.5l5.7 -0.2M279.2 344.5l5.7 -0.2M284.9 344.6l5.7 -0.3M188.5 350.3l5.7 -0.3M194.2 350.1l5.7 0.0M284.9 350.1l5.7 0.1M182.8 355.8l5.7 -0.1M239.5 355.7l5.7 0.2M250.9 355.7l5.7 0.1M182.8 361.4l5.7 0.1M182.8 367.1l5.7 0.0M194.2 367.2l5.7 -0.2M199.8 367.0l5.7 0.1M205.5 367.0l5.7 0.3M211.2 367.0l5.7 0.1M216.9 367.1l5.7 -0.1M222.5 367.0l5.7 0.2M250.9 367.1l5.7 -0.0M182.8 372.7l5.7 0.1M188.5 372.7l5.7 0.2M205.5 372.8l5.7 0.0M222.5 372.7l5.7 0.1M205.5 378.4l5.7 -0.0M211.2 378.5l5.7 -0.2M216.9 378.3l5.7 0.2M250.9 378.4l5.7 0.0M199.8 384.1l5.7 -0.1M250.9 389.8l5.7 -0.2M262.2 389.7l5.7 0.0M273.6 389.7l5.7 0.1M245.2 395.4l5.7 0.0M262.2 395.4l5.7 -0.1M267.9 395.3l5.7 0.3M245.2 401.0l5.7 0.2M222.5 406.7l5.7 0.1M233.9 406.8l5.7 -0.2M216.9 412.5l5.7 -0.2M228.2 412.3l5.7 0.1M256.6 412.1l5.6 0.6M216.9 418.1l5.7 -0.2M222.5 418.0l5.7 0.0M250.9 418.0l5.7 -0.0M256.5 417.9l5.7 0.2"/>
<path stroke="#b2182b" d="M205.5 316.1l5.7 0.2M216.9 316.1l5.7 0.1M245.2 316.1l5.7 0.2M188.5 322.3l5.6 -1.0M199.8 321.7l5.7 0.2M233.9 321.7l5.7 0.2M256.5 321.7l5.7 0.2M267.9 322.1l5.6 -0.6M273.6 322.3l5.6 -0.9M262.2 327.6l5.7 -0.1M279.2 327.4l5.7 0.2M182.8 338.7l5.7 0.1M199.8 338.9l5.7 -0.1M211.2 344.6l5.7 -0.2M199.8 350.2l5.7 -0.2M216.9 349.7l5.6 0.8M233.9 350.1l5.7 -0.0M245.2 350.2l5.7 -0.2M250.9 350.4l5.6 -0.5M245.2 355.7l5.7 0.1M194.2 361.4l5.7 0.1M245.2 360.9l5.6 1.0M188.5 367.0l5.7 0.2M216.9 372.7l5.7 0.2M250.9 372.9l5.7 -0.3M182.8 378.5l5.7 -0.1M199.8 378.3l5.7 0.2M222.5 378.6l5.7 -0.3M284.9 378.4l5.7 0.1M194.2 384.1l5.7 -0.1M211.2 384.5l5.6 -0.8M188.5 389.8l5.7 -0.1M205.5 389.9l5.7 -0.3M216.9 394.9l5.6 1.0M284.9 395.8l5.6 -0.9M205.5 412.7l5.6 -0.6M245.2 412.3l5.7 0.1M199.9 418.4l5.6 -0.7M262.2 417.8l5.6 0.5"/>
<path stroke="#2a71b2" d="M276.2 313.3l0.3 5.7M213.8 358.6l0.5 -5.6M270.5 353.0l0.4 5.6M276.1 358.6l0.5 -5.6M236.4 381.2l0.6 -5.6M225.0 386.9l0.7 5.6M281.7 386.9l0.7 5.6M282.0 398.2l0.0 -5.7M282.0 415.2l0.1 -5.7"/>
<path stroke="#f6b293" d="M183.3 323.3l4.8 -3.0M217.1 334.3l5.2 -2.3M262.4 345.6l5.2 -2.2M211.5 348.7l5.0 2.8M256.9 351.5l4.9 -2.8M205.8 354.6l5.2 2.3M228.5 362.8l5.0 -2.7M245.6 365.6l4.9 2.9M245.6 382.7l4.9 2.8M256.8 385.3l5.1 -2.5M211.5 391.0l5.0 -2.6M245.6 388.4l5.0 2.7M183.1 394.3l5.2 2.3M194.6 397.0l4.7 -3.1M234.3 396.8l4.9 -2.9M228.5 399.8l5.1 2.4M200.3 413.9l4.8 -3.0M234.2 413.7l5.0 -2.6M268.3 410.9l4.9 2.9M228.7 419.6l4.8 -3.1M268.3 416.7l4.9 2.8"/>
<path stroke="#bb2a34" d="M239.5 322.1l5.6 -0.5M205.5 407.1l5.6 -0.8"/>
<path stroke="#b2d5e7" d="M247.0 324.5l2.0 -5.3M269.7 375.8l2.0 5.3M263.6 404.3l2.8 4.9"/>
<path stroke="#d1e5f0" d="M246.0 329.5l4.0 -4.0M211.9 359.5l4.2 3.8M280.2 374.9l3.8 -4.2M268.7 386.1l3.9 -4.1M274.5 399.0l3.9 4.1"/>
<path stroke="#2166ac" d="M225.1 336.0l0.5 5.6M270.7 352.9l0.1 -5.7M270.7 358.6l0.1 5.7M276.1 358.6l0.6 5.6M230.9 369.9l0.2 -5.7M242.2 369.9l0.3 -5.7M270.5 364.3l0.4 5.6M236.5 369.9l0.3 5.7M230.8 381.3l0.4 5.6M259.4 398.2l0.0 5.7M281.8 403.9l0.5 -5.6M281.8 420.9l0.5 -5.6"/>
<path stroke="#ec9475" d="M228.6 337.3l4.8 3.0M222.8 345.6l5.2 -2.2M273.8 345.6l5.2 -2.3M205.9 348.8l5.0 2.7M285.1 362.5l5.2 -2.2M256.9 368.5l5.0 -2.8M285.3 368.6l4.8 -3.0M245.5 371.4l5.0 2.6M285.2 374.1l5.0 -2.6M257.0 379.9l4.8 -3.0M183.1 383.0l5.2 2.2M217.2 385.4l5.1 -2.6M228.6 394.0l5.0 2.8M251.1 394.3l5.2 2.3M205.9 402.4l5.0 -2.7M211.6 402.5l4.9 -2.9M222.8 413.6l5.1 -2.5M240.0 419.6l4.8 -3.0"/>
<path stroke="#f8c0a4" d="M268.3 345.9l4.8 -2.9M256.8 357.0l5.1 -2.4M257.0 374.2l4.8 -2.9M279.5 379.6l5.1 -2.4"/>
<path stroke="#fddbc7" d="M263.0 352.1l4.1 -3.9M240.2 399.3l4.4 3.6M263.1 399.0l3.9 4.1"/>
<path stroke="#a2cde2" d="M275.4 352.8l2.0 -5.3M229.5 376.0l3.0 4.8M184.3 387.3l2.8 4.9M218.5 392.3l2.3 -5.2M235.6 403.7l2.2 -5.2M196.0 409.4l2.0 -5.3M184.5 409.8l2.4 5.1M240.9 414.8l2.8 -4.9M286.4 414.9l2.7 -5.0"/>
<path stroke="#e58268" d="M279.5 351.4l5.1 -2.5"/>
<path stroke="#e4eef4" d="M217.6 353.9l4.2 3.8M183.7 404.7l3.9 4.1M251.5 404.9l4.4 3.5"/>
<path stroke="#92c5de" d="M224.2 358.4l2.2 -5.2M235.3 359.0l2.8 4.9M280.7 381.6l2.8 4.9M235.7 387.1l2.0 5.3M224.2 392.8l2.4 5.2M190.2 404.1l2.2 5.2M190.2 415.0l2.3 -5.2M275.0 409.9l2.9 4.9M274.9 415.6l2.9 4.9"/>
<path stroke="#daeaf2" d="M262.9 357.7l4.2 -3.8M262.9 363.2l4.4 -3.6M280.2 363.6l3.7 -4.3M263.0 369.0l4.1 -3.9M263.2 380.6l3.7 -4.3M189.5 397.5l3.8 -4.2M268.6 404.9l4.3 3.7M285.9 408.9l3.7 -4.3M189.4 420.1l3.8 -4.2M285.8 420.1l3.9 -4.1"/>
<path stroke="#fae9df" d="M280.0 357.7l4.1 -3.9M240.2 359.6l4.3 3.7M280.1 369.1l4.0 -4.1M274.4 380.5l3.9 -4.1M285.6 391.6l4.2 -3.8M223.1 399.3l4.4 3.5M195.1 414.5l3.8 -4.2"/>
<path stroke="#6aacd0" d="M218.5 358.9l2.4 5.1M263.8 375.3l2.5 -5.1M190.0 403.5l2.8 -4.9M240.9 409.2l2.9 -4.9"/>
<path stroke="#fce2d3" d="M223.2 363.2l4.4 -3.6M240.4 397.4l4.0 -4.0M194.9 403.0l4.2 -3.8M217.8 403.2l3.7 -4.3"/>
<path stroke="#1a5899" d="M236.6 369.9l0.3 -5.7M270.5 375.6l0.4 -5.6M236.6 381.3l0.1 5.7M259.0 409.5l0.7 -5.6M281.9 409.5l0.2 -5.7"/>
<path stroke="#7eb8d7" d="M229.9 370.2l2.4 5.2M241.2 370.2l2.4 5.1M241.0 381.6l2.8 4.9M286.7 381.4l2.1 5.3M252.6 398.4l2.2 5.2M184.6 420.7l2.2 -5.2"/>
</g>
<rect x="180.0" y="310.5" width="113.4" height="113.2" fill="none" stroke="#262626" stroke-width="0.8"/>
<line x1="202.68" y1="423.7" x2="202.68" y2="422.3" stroke="#262626" stroke-width="0.8"/>
<line x1="202.68" y1="310.5" x2="202.68" y2="311.9" stroke="#262626" stroke-width="0.8"/>
<text x="202.68" y="434.30" font-size="8.5" text-anchor="middle" fill="#262626" >5</text>
<line x1="180.0" y1="333.14" x2="181.4" y2="333.14" stroke="#262626" stroke-width="0.8"/>
<line x1="293.4" y1="333.14" x2="292.0" y2="333.14" stroke="#262626" stroke-width="0.8"/>
<text x="177.80" y="336.14" font-size="8.5" text-anchor="end" fill="#262626" >5</text>
<line x1="231.03" y1="423.7" x2="231.03" y2="422.3" stroke="#262626" stroke-width="0.8"/>
<line x1="231.03" y1="310.5" x2="231.03" y2="311.9" stroke="#262626" stroke-width="0.8"/>
<text x="231.03" y="434.30" font-size="8.5" text-anchor="middle" fill="#262626" >10</text>
<line x1="180.0" y1="361.44" x2="181.4" y2="361.44" stroke="#262626" stroke-width="0.8"/>
<line x1="293.4" y1="361.44" x2="292.0" y2="361.44" stroke="#262626" stroke-width="0.8"/>
<text x="177.80" y="364.44" font-size="8.5" text-anchor="end" fill="#262626" >10</text>
<line x1="259.38" y1="423.7" x2="259.38" y2="422.3" stroke="#262626" stroke-width="0.8"/>
<line x1="259.38" y1="310.5" x2="259.38" y2="311.9" stroke="#262626" stroke-width="0.8"/>
<text x="259.38" y="434.30" font-size="8.5" text-anchor="middle" fill="#262626" >15</text>
<line x1="180.0" y1="389.74" x2="181.4" y2="389.74" stroke="#262626" stroke-width="0.8"/>
<line x1="293.4" y1="389.74" x2="292.0" y2="389.74" stroke="#262626" stroke-width="0.8"/>
<text x="177.80" y="392.74" font-size="8.5" text-anchor="end" fill="#262626" >15</text>
<line x1="287.73" y1="423.7" x2="287.73" y2="422.3" stroke="#262626" stroke-width="0.8"/>
<line x1="287.73" y1="310.5" x2="287.73" y2="311.9" stroke="#262626" stroke-width="0.8"/>
<text x="287.73" y="434.30" font-size="8.5" text-anchor="middle" fill="#262626" >20</text>
<line x1="180.0" y1="418.04" x2="181.4" y2="418.04" stroke="#262626" stroke-width="0.8"/>
<line x1="293.4" y1="418.04" x2="292.0" y2="418.04" stroke="#262626" stroke-width="0.8"/>
<text x="177.80" y="421.04" font-size="8.5" text-anchor="end" fill="#262626" >20</text>
<text x="236.70" y="445.70" font-size="9.8" text-anchor="middle" fill="#262626" >X</text>
<text x="0.00" y="0.00" font-size="9.8" text-anchor="middle" fill="#262626" transform="translate(164.00,367.10) rotate(-90)">Y</text>
<g clip-path="url(#clip334_310)" stroke-linecap="butt" stroke-width="1.4" fill="none">
<clipPath id="clip334_310"><rect x="334.0" y="310.5" width="113.4" height="113.2"/></clipPath>
<path stroke="#9f1228" d="M336.8 316.1l5.7 0.1M342.5 316.1l5.7 0.1M399.2 316.2l5.7 -0.1M410.5 316.2l5.7 -0.2M421.9 316.1l5.7 0.2M342.5 321.8l5.7 -0.0M365.2 322.0l5.7 -0.3M370.9 321.8l5.7 -0.0M382.2 321.8l5.7 0.0M387.9 322.0l5.7 -0.3M410.5 321.7l5.7 0.2M416.2 321.8l5.7 0.0M427.6 321.7l5.7 0.3M342.5 327.5l5.7 -0.0M359.5 327.6l5.7 -0.1M365.2 327.4l5.7 0.1M382.2 327.5l5.7 0.0M393.5 327.5l5.7 -0.1M399.2 327.4l5.7 0.1M410.5 327.5l5.7 -0.1M438.9 327.6l5.7 -0.2M353.8 333.2l5.7 -0.2M376.5 333.0l5.7 0.3M382.2 333.1l5.7 0.1M393.5 333.2l5.7 -0.2M399.2 333.2l5.7 -0.2M404.9 333.0l5.7 0.3M410.5 333.1l5.7 0.2M421.9 333.2l5.7 -0.1M427.6 333.2l5.7 -0.1M433.2 333.2l5.7 -0.1M438.9 333.1l5.7 0.2M336.8 338.8l5.7 -0.1M353.8 338.8l5.7 0.1M393.5 338.7l5.7 0.1M399.2 338.9l5.7 -0.1M421.9 338.7l5.7 0.2M353.8 344.4l5.7 0.1M365.2 344.5l5.7 -0.0M376.5 344.6l5.7 -0.2M382.2 344.5l5.7 -0.0M393.5 344.6l5.7 -0.2M348.2 350.0l5.7 0.2M359.5 350.0l5.7 0.2M399.2 350.0l5.7 0.2M399.2 355.9l5.7 -0.3M410.5 355.8l5.7 0.1M438.9 356.2l5.6 -0.8M342.5 361.3l5.7 0.3M404.9 361.6l5.7 -0.2M342.5 367.1l5.7 0.1M353.8 367.2l5.7 -0.1M336.8 372.8l5.7 -0.1M365.2 372.6l5.7 0.3M370.9 372.9l5.7 -0.2M410.5 372.6l5.7 0.2M438.9 372.8l5.7 -0.1M348.2 378.4l5.7 -0.1M404.9 378.4l5.7 0.1M342.5 384.0l5.7 0.1M365.2 384.0l5.7 0.1M370.9 384.1l5.7 0.1M376.5 384.0l5.7 0.1M382.2 384.2l5.7 -0.2M416.2 384.1l5.7 -0.1M348.2 389.8l5.7 -0.2M393.5 389.6l5.7 0.2M416.2 389.8l5.7 -0.2M421.9 389.8l5.7 -0.2M353.9 401.4l5.6 -0.7M387.9 401.1l5.7 -0.2M393.5 401.1l5.7 -0.2M365.2 406.7l5.7 0.1M376.5 406.8l5.7 -0.2M365.2 412.5l5.7 -0.2M359.5 418.0l5.7 0.1M370.9 418.1l5.7 -0.2"/>
<path stroke="#b2182b" d="M348.2 316.2l5.7 0.0M353.8 316.3l5.7 -0.2M359.5 316.2l5.7 0.0M365.2 316.1l5.7 0.2M370.9 316.2l5.7 -0.1M376.5 316.1l5.7 0.1M382.2 316.0l5.7 0.3M416.2 316.0l5.7 0.2M438.9 315.8l5.6 0.7M348.2 321.8l5.7 0.0M404.9 321.9l5.7 -0.2M433.2 321.5l5.6 0.7M438.9 321.9l5.7 -0.2M376.5 327.4l5.7 0.2M387.9 327.4l5.7 0.1M404.9 327.4l5.7 0.2M433.2 327.5l5.7 0.0M359.5 333.2l5.7 -0.2M365.2 333.1l5.7 0.1M370.9 333.0l5.7 0.3M387.9 338.9l5.7 -0.2M404.9 338.7l5.7 0.1M438.9 338.7l5.7 0.3M399.2 344.3l5.7 0.2M433.3 344.9l5.6 -0.9M353.8 350.0l5.7 0.2M393.5 350.3l5.7 -0.3M438.9 350.5l5.6 -0.8M336.8 355.8l5.7 -0.1M348.2 355.7l5.7 0.1M393.6 355.4l5.6 0.8M404.9 355.7l5.7 0.1M336.8 361.4l5.7 0.1M348.2 361.3l5.7 0.3M353.8 361.3l5.7 0.2M399.2 361.1l5.6 0.7M410.5 361.4l5.7 -0.0M438.9 361.9l5.6 -1.0M370.9 367.1l5.7 0.1M404.9 366.6l5.6 1.1M410.6 367.3l5.6 -0.5M438.9 367.4l5.6 -0.6M404.9 372.9l5.7 -0.2M336.8 378.5l5.7 -0.2M353.8 378.3l5.7 0.1M410.6 378.9l5.6 -0.9M433.3 378.8l5.6 -0.8M399.2 383.7l5.6 0.7M433.2 383.7l5.6 0.7M359.5 390.1l5.6 -0.7M387.9 389.8l5.7 -0.1M399.2 389.8l5.7 -0.0M404.9 389.7l5.7 0.0M410.5 389.7l5.7 0.1M427.6 389.4l5.6 0.8M359.5 395.8l5.6 -0.9M393.6 395.8l5.6 -0.8M410.6 394.9l5.6 1.1M416.2 395.7l5.6 -0.6M359.5 401.4l5.6 -0.7M365.2 401.5l5.6 -0.8M382.2 401.2l5.7 -0.2M370.9 406.7l5.7 0.1M387.9 406.8l5.7 -0.2M359.5 412.3l5.7 0.2M370.9 412.4l5.7 -0.0M410.6 411.9l5.6 1.0M336.8 418.0l5.7 0.1M365.2 417.9l5.7 0.2M387.9 418.2l5.7 -0.3M393.5 418.1l5.7 -0.1M410.5 418.0l5.7 0.0"/>
<path stroke="#8c0c25" d="M387.9 316.3l5.7 -0.2M393.5 316.3l5.7 -0.2M404.9 316.1l5.7 0.1M336.8 321.7l5.7 0.2M353.8 321.8l5.7 0.1M359.5 321.8l5.7 0.0M376.5 321.7l5.7 0.1M393.5 321.7l5.7 0.2M399.2 321.7l5.7 0.2M421.9 321.8l5.7 -0.0M336.8 327.4l5.7 0.1M348.2 327.4l5.7 0.2M353.8 327.5l5.7 0.0M370.9 327.4l5.7 0.2M416.2 327.5l5.7 -0.1M421.9 327.4l5.7 0.1M427.6 327.6l5.7 -0.2M336.8 333.1l5.7 0.1M342.5 333.2l5.7 -0.1M348.2 333.2l5.7 -0.1M387.9 333.1l5.7 0.1M416.2 333.0l5.7 0.3M342.5 338.7l5.7 0.2M348.2 338.8l5.7 0.1M359.5 338.8l5.7 -0.0M365.2 338.9l5.7 -0.1M370.9 338.9l5.7 -0.1M376.5 338.7l5.7 0.2M382.2 338.8l5.7 -0.0M410.5 338.9l5.7 -0.3M416.2 338.7l5.7 0.1M427.6 338.9l5.7 -0.2M433.2 338.9l5.7 -0.2M336.8 344.4l5.7 0.1M342.5 344.3l5.7 0.2M348.2 344.3l5.7 0.2M359.5 344.4l5.7 0.0M370.9 344.5l5.7 -0.1M387.9 344.4l5.7 0.1M404.9 344.6l5.7 -0.2M410.5 344.5l5.7 -0.1M438.9 344.6l5.7 -0.3M336.8 350.2l5.7 -0.1M342.5 350.1l5.7 0.1M387.9 350.3l5.7 -0.3M404.9 350.3l5.7 -0.3M342.5 355.8l5.7 0.0M353.8 355.9l5.7 -0.2M336.8 367.2l5.7 -0.2M348.2 367.1l5.7 -0.1M359.5 367.1l5.7 0.0M365.2 367.1l5.7 -0.0M342.5 372.7l5.7 0.1M348.2 372.8l5.7 0.0M353.8 372.6l5.7 0.2M359.5 372.8l5.7 -0.0M342.5 378.5l5.7 -0.1M359.5 378.5l5.7 -0.1M365.2 378.3l5.7 0.2M370.9 378.4l5.7 -0.0M438.9 378.4l5.7 -0.1M336.8 384.2l5.7 -0.2M348.2 384.2l5.7 -0.2M353.8 384.0l5.7 0.2M359.5 384.0l5.7 0.2M404.9 384.0l5.7 0.1M410.5 384.2l5.7 -0.2M427.6 384.0l5.7 0.2M336.8 389.7l5.7 0.0M342.5 389.7l5.7 0.1M353.8 389.7l5.7 0.1M382.2 389.8l5.7 -0.2M382.2 406.7l5.7 0.1M393.5 406.7l5.7 0.1M376.5 412.5l5.7 -0.2M382.2 412.5l5.7 -0.2M342.5 418.1l5.7 -0.1M348.2 417.9l5.7 0.2M353.8 418.1l5.7 -0.0M376.5 418.0l5.7 0.0M382.2 418.1l5.7 -0.1M399.2 417.9l5.7 0.3M404.9 418.0l5.7 0.1"/>
<path stroke="#f4a582" d="M427.9 314.8l5.0 2.7M422.2 345.7l5.1 -2.5M382.6 348.7l4.9 2.8M416.6 351.6l4.9 -2.9M371.2 360.1l5.0 2.7M393.9 360.0l4.9 2.9M433.5 362.6l5.2 -2.2M376.8 365.9l5.1 2.4M393.7 383.0l5.2 2.1M376.7 390.8l5.2 -2.1M354.1 396.7l5.1 -2.5M365.5 396.6l5.1 -2.4M388.2 394.1l5.0 2.6M399.4 394.3l5.2 2.2M410.9 399.6l4.9 2.8M354.1 408.0l5.1 -2.5M416.5 405.4l5.0 2.6M388.1 413.6l5.1 -2.5M399.4 413.5l5.2 -2.2M405.3 410.9l4.8 3.0M433.7 416.5l4.7 3.2"/>
<path stroke="#57a0ca" d="M435.0 318.8l2.1 -5.3M423.3 352.6l2.9 -4.9M389.5 375.8l2.3 5.2"/>
<path stroke="#f6b293" d="M416.6 345.8l5.0 -2.7M371.3 348.6l4.8 2.9M376.9 348.8l5.0 2.7M411.0 351.6l4.8 -3.0M371.3 354.3l4.8 3.0M377.0 354.2l4.7 3.1M382.5 354.5l5.0 2.6M433.7 357.3l4.8 -3.1M359.8 360.3l5.2 2.3M365.7 359.9l4.7 3.1M399.6 365.6l4.8 3.0M376.8 371.7l5.2 2.2M399.6 371.3l4.9 2.9M416.7 374.3l4.7 -3.2M427.8 373.9l5.2 -2.2M433.4 373.9l5.2 -2.2M382.6 376.9l4.8 3.0M439.4 382.5l4.7 3.2M365.5 391.0l5.1 -2.5M433.5 388.5l5.1 2.4M405.3 393.8l4.7 3.1M427.9 394.0l4.9 2.9M439.3 396.8l4.9 -2.9M422.2 399.8l5.1 2.4M405.3 405.2l4.7 3.1M342.8 413.6l5.2 -2.4M348.6 413.8l4.9 -2.9M422.2 411.1l5.1 2.5M439.2 411.2l5.1 2.4M439.1 416.9l5.2 2.2"/>
<path stroke="#ec9475" d="M427.9 345.9l4.9 -2.8M365.4 349.0l5.2 2.3M433.4 351.2l5.2 -2.2M359.9 354.3l4.8 3.0M388.3 354.2l4.7 3.1M416.6 357.1l5.0 -2.7M416.5 368.4l5.0 -2.6M433.6 368.4l5.0 -2.7M393.8 377.3l5.2 2.2M399.5 377.1l5.1 2.5M416.4 379.5l5.2 -2.2M388.1 383.0l5.2 2.2M422.2 385.4l5.0 -2.7M348.6 396.9l4.8 -2.9M382.4 396.6l5.2 -2.3M422.1 394.2l5.2 2.4M337.2 399.7l5.0 2.8M348.4 402.2l5.2 -2.3M371.3 402.5l4.8 -3.0M399.7 399.5l4.8 3.0M416.5 399.8l5.0 2.6M348.6 408.2l4.8 -3.0M422.2 405.4l5.0 2.6M337.0 413.4l5.3 -2.1M416.5 411.1l5.1 2.5M422.3 416.6l4.8 2.9"/>
<path stroke="#daeaf2" d="M428.2 351.9l4.4 -3.6M394.2 371.0l4.4 3.6M428.2 399.2l4.3 3.7M428.2 410.6l4.4 3.5M428.6 415.9l3.7 4.3"/>
<path stroke="#7eb8d7" d="M366.9 353.2l2.3 5.2M412.1 404.2l2.5 5.1"/>
<path stroke="#fce2d3" d="M422.7 357.7l4.1 -3.9M383.1 370.7l3.9 4.2M371.8 391.8l3.8 -4.2M428.2 404.9l4.4 3.6M434.0 414.4l4.0 -4.0"/>
<path stroke="#2a71b2" d="M430.2 358.6l0.4 -5.6M430.1 364.3l0.6 -5.6"/>
<path stroke="#d1e5f0" d="M377.5 359.3l3.8 4.2"/>
<path stroke="#6aacd0" d="M384.0 358.8l2.1 5.3M384.0 364.5l2.1 5.3M389.3 370.3l2.8 4.9M378.0 403.6l2.7 -5.0M406.7 398.4l2.0 5.3M440.4 404.2l2.6 5.0"/>
<path stroke="#a2cde2" d="M389.5 358.9l2.4 5.1M423.5 375.3l2.5 -5.1M423.5 381.0l2.4 -5.1M378.3 398.0l2.1 -5.3M434.7 392.9l2.7 5.0M338.3 409.2l2.7 -5.0"/>
<path stroke="#e58268" d="M416.5 362.6l5.2 -2.4"/>
<path stroke="#e4eef4" d="M422.6 363.3l4.2 -3.8M422.6 369.0l4.2 -3.8M371.5 393.6l4.4 3.6"/>
<path stroke="#2166ac" d="M390.6 369.9l0.2 -5.7M396.1 364.3l0.6 5.6M441.5 386.9l0.5 5.6M345.1 403.9l0.5 5.6M435.7 403.9l0.6 5.6"/>
<path stroke="#92c5de" d="M429.0 369.6l2.8 -4.9M338.5 398.0l2.3 -5.2M344.2 403.6l2.3 -5.2M440.6 403.7l2.3 -5.2"/>
<path stroke="#bb2a34" d="M376.6 378.0l5.6 0.8M359.6 407.2l5.6 -0.9M399.2 406.2l5.6 1.0M353.9 412.7l5.6 -0.7M393.6 412.9l5.6 -1.0M416.3 418.5l5.6 -1.0"/>
<path stroke="#fddbc7" d="M428.3 380.3l4.2 -3.8"/>
<path stroke="#fae9df" d="M343.2 397.3l4.3 -3.7"/>
<path stroke="#1a5899" d="M435.8 403.9l0.5 -5.6"/>
</g>
<rect x="334.0" y="310.5" width="113.4" height="113.2" fill="none" stroke="#262626" stroke-width="0.8"/>
<line x1="356.68" y1="423.7" x2="356.68" y2="422.3" stroke="#262626" stroke-width="0.8"/>
<line x1="356.68" y1="310.5" x2="356.68" y2="311.9" stroke="#262626" stroke-width="0.8"/>
<text x="356.68" y="434.30" font-size="8.5" text-anchor="middle" fill="#262626" >5</text>
<line x1="334.0" y1="333.14" x2="335.4" y2="333.14" stroke="#262626" stroke-width="0.8"/>
<line x1="447.4" y1="333.14" x2="446.0" y2="333.14" stroke="#262626" stroke-width="0.8"/>
<text x="331.80" y="336.14" font-size="8.5" text-anchor="end" fill="#262626" >5</text>
<line x1="385.03" y1="423.7" x2="385.03" y2="422.3" stroke="#262626" stroke-width="0.8"/>
<line x1="385.03" y1="310.5" x2="385.03" y2="311.9" stroke="#262626" stroke-width="0.8"/>
<text x="385.03" y="434.30" font-size="8.5" text-anchor="middle" fill="#262626" >10</text>
<line x1="334.0" y1="361.44" x2="335.4" y2="361.44" stroke="#262626" stroke-width="0.8"/>
<line x1="447.4" y1="361.44" x2="446.0" y2="361.44" stroke="#262626" stroke-width="0.8"/>
<text x="331.80" y="364.44" font-size="8.5" text-anchor="end" fill="#262626" >10</text>
<line x1="413.38" y1="423.7" x2="413.38" y2="422.3" stroke="#262626" stroke-width="0.8"/>
<line x1="413.38" y1="310.5" x2="413.38" y2="311.9" stroke="#262626" stroke-width="0.8"/>
<text x="413.38" y="434.30" font-size="8.5" text-anchor="middle" fill="#262626" >15</text>
<line x1="334.0" y1="389.74" x2="335.4" y2="389.74" stroke="#262626" stroke-width="0.8"/>
<line x1="447.4" y1="389.74" x2="446.0" y2="389.74" stroke="#262626" stroke-width="0.8"/>
<text x="331.80" y="392.74" font-size="8.5" text-anchor="end" fill="#262626" >15</text>
<line x1="441.73" y1="423.7" x2="441.73" y2="422.3" stroke="#262626" stroke-width="0.8"/>
<line x1="441.73" y1="310.5" x2="441.73" y2="311.9" stroke="#262626" stroke-width="0.8"/>
<text x="441.73" y="434.30" font-size="8.5" text-anchor="middle" fill="#262626" >20</text>
<line x1="334.0" y1="418.04" x2="335.4" y2="418.04" stroke="#262626" stroke-width="0.8"/>
<line x1="447.4" y1="418.04" x2="446.0" y2="418.04" stroke="#262626" stroke-width="0.8"/>
<text x="331.80" y="421.04" font-size="8.5" text-anchor="end" fill="#262626" >20</text>
<text x="390.70" y="445.70" font-size="9.8" text-anchor="middle" fill="#262626" >X</text>
<text x="0.00" y="0.00" font-size="9.8" text-anchor="middle" fill="#262626" transform="translate(318.00,367.10) rotate(-90)">Y</text>
<defs><linearGradient id="cb" x1="0" y1="1" x2="0" y2="0">
<stop offset="0.00" stop-color="#67001f"/>
<stop offset="0.10" stop-color="#b2182b"/>
<stop offset="0.20" stop-color="#d6604d"/>
<stop offset="0.30" stop-color="#f4a582"/>
<stop offset="0.40" stop-color="#fddbc7"/>
<stop offset="0.50" stop-color="#f7f7f7"/>
<stop offset="0.60" stop-color="#d1e5f0"/>
<stop offset="0.70" stop-color="#92c5de"/>
<stop offset="0.80" stop-color="#4393c3"/>
<stop offset="0.90" stop-color="#2166ac"/>
<stop offset="1.00" stop-color="#053061"/>
</linearGradient></defs>
<rect x="452.6" y="17.30" width="5.3" height="113.50" fill="url(#cb)"/>
<line x1="458.0" y1="17.30" x2="458.0" y2="130.80" stroke="#9a9a9a" stroke-width="0.6"/>
<text x="467.30" y="21.00" font-size="9.6" text-anchor="middle" fill="#262626" >90<tspan font-size="8" dy="-2.9">o</tspan></text>
<text x="467.30" y="133.40" font-size="9.6" text-anchor="middle" fill="#262626" >0<tspan font-size="8" dy="-2.9">o</tspan></text>
<rect x="452.6" y="163.30" width="5.3" height="113.50" fill="url(#cb)"/>
<line x1="458.0" y1="163.30" x2="458.0" y2="276.80" stroke="#9a9a9a" stroke-width="0.6"/>
<text x="467.30" y="167.00" font-size="9.6" text-anchor="middle" fill="#262626" >90<tspan font-size="8" dy="-2.9">o</tspan></text>
<text x="467.30" y="279.40" font-size="9.6" text-anchor="middle" fill="#262626" >0<tspan font-size="8" dy="-2.9">o</tspan></text>
<rect x="452.6" y="309.60" width="5.3" height="113.50" fill="url(#cb)"/>
<line x1="458.0" y1="309.60" x2="458.0" y2="423.10" stroke="#9a9a9a" stroke-width="0.6"/>
<text x="467.30" y="313.30" font-size="9.6" text-anchor="middle" fill="#262626" >90<tspan font-size="8" dy="-2.9">o</tspan></text>
<text x="467.30" y="425.70" font-size="9.6" text-anchor="middle" fill="#262626" >0<tspan font-size="8" dy="-2.9">o</tspan></text>
<text transform="translate(1.10,19.20) scale(0.92,1)" font-size="20.5" text-anchor="start" fill="#000" >(a)</text>
<text transform="translate(148.20,19.20) scale(0.92,1)" font-size="20.5" text-anchor="start" fill="#000" >(b)</text>
<text transform="translate(302.20,19.20) scale(0.92,1)" font-size="20.5" text-anchor="start" fill="#000" >(c)</text>
<text transform="translate(478.40,19.20) scale(0.92,1)" font-size="20.5" text-anchor="start" fill="#000" >(d)</text>
<text transform="translate(0.10,158.90) scale(0.92,1)" font-size="20.5" text-anchor="start" fill="#000" >(e)</text>
<text transform="translate(154.10,158.90) scale(0.92,1)" font-size="20.5" text-anchor="start" fill="#000" >(f)</text>
<text transform="translate(304.60,158.90) scale(0.92,1)" font-size="20.5" text-anchor="start" fill="#000" >(g)</text>
<text transform="translate(478.50,158.90) scale(0.92,1)" font-size="20.5" text-anchor="start" fill="#000" >(h)</text>
<text transform="translate(3.60,308.60) scale(0.92,1)" font-size="20.5" text-anchor="start" fill="#000" >(i)</text>
<text transform="translate(155.90,308.60) scale(0.92,1)" font-size="20.5" text-anchor="start" fill="#000" >(j)</text>
<text transform="translate(305.90,308.60) scale(0.92,1)" font-size="20.5" text-anchor="start" fill="#000" >(k)</text>
<text transform="translate(479.80,308.60) scale(0.92,1)" font-size="20.5" text-anchor="start" fill="#000" >(l)</text>
<clipPath id="cd"><rect x="515.5" y="17.0" width="148.90" height="110.40"/></clipPath><g clip-path="url(#cd)">
<path d="M522.8,72.3 L530.0,71.7 L537.3,70.0 L544.6,69.9 L551.8,68.9 L559.1,68.3 L566.3,66.6 L573.6,60.2 L580.9,54.3 L588.1,51.3 L595.4,46.4 L602.7,39.5 L609.9,39.1 L617.2,36.6 L624.5,35.9 L631.7,35.5 L639.0,32.5 L646.2,31.4 L653.5,29.9 L660.8,28.9M522.8,73.0 L530.0,64.6 L537.3,53.7 L544.6,49.8 L551.8,51.9 L559.1,59.2 L566.3,67.0 L573.6,71.9 L580.9,77.9 L588.1,79.8 L595.4,85.9 L602.7,88.5 L609.9,89.6 L617.2,91.2 L624.5,93.5 L631.7,94.8 L639.0,93.8 L646.2,95.0 L653.5,96.6 L660.8,97.5M522.8,91.0 L530.0,100.4 L537.3,109.5 L544.6,115.5 L551.8,112.1 L559.1,106.5 L566.3,99.0 L573.6,92.7 L580.9,84.1 L588.1,79.7 L595.4,77.0 L602.7,74.1 L609.9,68.2 L617.2,66.7 L624.5,65.3 L631.7,66.0 L639.0,65.8 L646.2,63.7 L653.5,62.7 L660.8,63.5M522.8,80.5 L530.0,81.8 L537.3,84.0 L544.6,86.4 L551.8,91.1 L559.1,97.0 L566.3,100.7 L573.6,102.2 L580.9,103.7 L588.1,108.3 L595.4,108.9 L602.7,110.5 L609.9,113.8 L617.2,114.0 L624.5,115.6 L631.7,115.1 L639.0,116.9 L646.2,116.5 L653.5,118.8 L660.8,120.5M522.8,67.5 L530.0,65.9 L537.3,63.5 L544.6,60.3 L551.8,62.3 L559.1,62.8 L566.3,62.2 L573.6,60.8 L580.9,58.4 L588.1,54.6 L595.4,56.3 L602.7,56.2 L609.9,55.0 L617.2,56.0 L624.5,56.1 L631.7,56.7 L639.0,56.9 L646.2,56.1 L653.5,57.0 L660.8,56.3M522.8,67.0 L530.0,66.8 L537.3,65.7 L544.6,66.7 L551.8,66.5 L559.1,65.5 L566.3,66.1 L573.6,65.1 L580.9,62.5 L588.1,62.3 L595.4,63.4 L602.7,63.0 L609.9,61.3 L617.2,60.4 L624.5,61.8 L631.7,60.4 L639.0,61.0 L646.2,62.1 L653.5,63.0 L660.8,63.9M522.8,76.9 L530.0,75.4 L537.3,78.3 L544.6,78.5 L551.8,80.1 L559.1,79.0 L566.3,80.0 L573.6,81.2 L580.9,81.9 L588.1,80.9 L595.4,82.5 L602.7,82.6 L609.9,82.5 L617.2,82.3 L624.5,83.0 L631.7,83.5 L639.0,81.7 L646.2,82.7 L653.5,82.7 L660.8,81.9M522.8,81.5 L530.0,82.4 L537.3,82.1 L544.6,81.7 L551.8,82.1 L559.1,85.0 L566.3,86.4 L573.6,86.1 L580.9,86.1 L588.1,87.5 L595.4,88.1 L602.7,88.6 L609.9,90.4 L617.2,92.5 L624.5,94.5 L631.7,93.4 L639.0,93.8 L646.2,93.3 L653.5,95.3 L660.8,94.0M522.8,70.4 L530.0,66.5 L537.3,61.2 L544.6,56.4 L551.8,58.7 L559.1,58.3 L566.3,58.5 L573.6,58.4 L580.9,57.4 L588.1,54.3 L595.4,50.9 L602.7,49.2 L609.9,49.3 L617.2,46.0 L624.5,43.0 L631.7,41.9 L639.0,41.8 L646.2,38.4 L653.5,35.7 L660.8,35.2M522.8,73.8 L530.0,74.8 L537.3,75.2 L544.6,75.6 L551.8,76.2 L559.1,73.7 L566.3,71.7 L573.6,71.4 L580.9,71.1 L588.1,70.6 L595.4,68.6 L602.7,68.3 L609.9,68.7 L617.2,67.8 L624.5,69.4 L631.7,68.0 L639.0,69.6 L646.2,68.3 L653.5,68.6 L660.8,69.1M522.8,64.4 L530.0,62.1 L537.3,59.1 L544.6,61.7 L551.8,69.4 L559.1,73.3 L566.3,75.0 L573.6,78.6 L580.9,82.1 L588.1,83.6 L595.4,85.1 L602.7,88.8 L609.9,90.7 L617.2,90.8 L624.5,94.6 L631.7,97.5 L639.0,102.4 L646.2,105.5 L653.5,107.3 L660.8,108.1M522.8,76.9 L530.0,77.1 L537.3,74.8 L544.6,73.5 L551.8,73.0 L559.1,71.1 L566.3,67.8 L573.6,65.2 L580.9,64.4 L588.1,64.1 L595.4,66.3 L602.7,67.1 L609.9,66.8 L617.2,67.7 L624.5,69.1 L631.7,70.5 L639.0,72.0 L646.2,74.1 L653.5,75.8 L660.8,75.1M522.8,61.9 L530.0,58.5 L537.3,54.7 L544.6,56.7 L551.8,58.4 L559.1,62.2 L566.3,61.0 L573.6,61.9 L580.9,63.1 L588.1,62.4 L595.4,62.5 L602.7,58.6 L609.9,53.6 L617.2,50.9 L624.5,47.6 L631.7,48.7 L639.0,48.4 L646.2,48.1 L653.5,46.3 L660.8,46.6" fill="none" stroke="#dcdcdc" stroke-width="0.6" stroke-dasharray="2.2,1.6"/>
<path d="M521.7,72.3a1.1,1.1 0 1,0 2.2,0a1.1,1.1 0 1,0 -2.2,0M528.9,71.7a1.1,1.1 0 1,0 2.2,0a1.1,1.1 0 1,0 -2.2,0M536.2,70.0a1.1,1.1 0 1,0 2.2,0a1.1,1.1 0 1,0 -2.2,0M543.5,69.9a1.1,1.1 0 1,0 2.2,0a1.1,1.1 0 1,0 -2.2,0M550.7,68.9a1.1,1.1 0 1,0 2.2,0a1.1,1.1 0 1,0 -2.2,0M558.0,68.3a1.1,1.1 0 1,0 2.2,0a1.1,1.1 0 1,0 -2.2,0M565.2,66.6a1.1,1.1 0 1,0 2.2,0a1.1,1.1 0 1,0 -2.2,0M572.5,60.2a1.1,1.1 0 1,0 2.2,0a1.1,1.1 0 1,0 -2.2,0M579.8,54.3a1.1,1.1 0 1,0 2.2,0a1.1,1.1 0 1,0 -2.2,0M587.0,51.3a1.1,1.1 0 1,0 2.2,0a1.1,1.1 0 1,0 -2.2,0M594.3,46.4a1.1,1.1 0 1,0 2.2,0a1.1,1.1 0 1,0 -2.2,0M601.6,39.5a1.1,1.1 0 1,0 2.2,0a1.1,1.1 0 1,0 -2.2,0M608.8,39.1a1.1,1.1 0 1,0 2.2,0a1.1,1.1 0 1,0 -2.2,0M616.1,36.6a1.1,1.1 0 1,0 2.2,0a1.1,1.1 0 1,0 -2.2,0M623.4,35.9a1.1,1.1 0 1,0 2.2,0a1.1,1.1 0 1,0 -2.2,0M630.6,35.5a1.1,1.1 0 1,0 2.2,0a1.1,1.1 0 1,0 -2.2,0M637.9,32.5a1.1,1.1 0 1,0 2.2,0a1.1,1.1 0 1,0 -2.2,0M645.1,31.4a1.1,1.1 0 1,0 2.2,0a1.1,1.1 0 1,0 -2.2,0M652.4,29.9a1.1,1.1 0 1,0 2.2,0a1.1,1.1 0 1,0 -2.2,0M659.7,28.9a1.1,1.1 0 1,0 2.2,0a1.1,1.1 0 1,0 -2.2,0M521.7,73.0a1.1,1.1 0 1,0 2.2,0a1.1,1.1 0 1,0 -2.2,0M528.9,64.6a1.1,1.1 0 1,0 2.2,0a1.1,1.1 0 1,0 -2.2,0M536.2,53.7a1.1,1.1 0 1,0 2.2,0a1.1,1.1 0 1,0 -2.2,0M543.5,49.8a1.1,1.1 0 1,0 2.2,0a1.1,1.1 0 1,0 -2.2,0M550.7,51.9a1.1,1.1 0 1,0 2.2,0a1.1,1.1 0 1,0 -2.2,0M558.0,59.2a1.1,1.1 0 1,0 2.2,0a1.1,1.1 0 1,0 -2.2,0M565.2,67.0a1.1,1.1 0 1,0 2.2,0a1.1,1.1 0 1,0 -2.2,0M572.5,71.9a1.1,1.1 0 1,0 2.2,0a1.1,1.1 0 1,0 -2.2,0M579.8,77.9a1.1,1.1 0 1,0 2.2,0a1.1,1.1 0 1,0 -2.2,0M587.0,79.8a1.1,1.1 0 1,0 2.2,0a1.1,1.1 0 1,0 -2.2,0M594.3,85.9a1.1,1.1 0 1,0 2.2,0a1.1,1.1 0 1,0 -2.2,0M601.6,88.5a1.1,1.1 0 1,0 2.2,0a1.1,1.1 0 1,0 -2.2,0M608.8,89.6a1.1,1.1 0 1,0 2.2,0a1.1,1.1 0 1,0 -2.2,0M616.1,91.2a1.1,1.1 0 1,0 2.2,0a1.1,1.1 0 1,0 -2.2,0M623.4,93.5a1.1,1.1 0 1,0 2.2,0a1.1,1.1 0 1,0 -2.2,0M630.6,94.8a1.1,1.1 0 1,0 2.2,0a1.1,1.1 0 1,0 -2.2,0M637.9,93.8a1.1,1.1 0 1,0 2.2,0a1.1,1.1 0 1,0 -2.2,0M645.1,95.0a1.1,1.1 0 1,0 2.2,0a1.1,1.1 0 1,0 -2.2,0M652.4,96.6a1.1,1.1 0 1,0 2.2,0a1.1,1.1 0 1,0 -2.2,0M659.7,97.5a1.1,1.1 0 1,0 2.2,0a1.1,1.1 0 1,0 -2.2,0M521.7,91.0a1.1,1.1 0 1,0 2.2,0a1.1,1.1 0 1,0 -2.2,0M528.9,100.4a1.1,1.1 0 1,0 2.2,0a1.1,1.1 0 1,0 -2.2,0M536.2,109.5a1.1,1.1 0 1,0 2.2,0a1.1,1.1 0 1,0 -2.2,0M543.5,115.5a1.1,1.1 0 1,0 2.2,0a1.1,1.1 0 1,0 -2.2,0M550.7,112.1a1.1,1.1 0 1,0 2.2,0a1.1,1.1 0 1,0 -2.2,0M558.0,106.5a1.1,1.1 0 1,0 2.2,0a1.1,1.1 0 1,0 -2.2,0M565.2,99.0a1.1,1.1 0 1,0 2.2,0a1.1,1.1 0 1,0 -2.2,0M572.5,92.7a1.1,1.1 0 1,0 2.2,0a1.1,1.1 0 1,0 -2.2,0M579.8,84.1a1.1,1.1 0 1,0 2.2,0a1.1,1.1 0 1,0 -2.2,0M587.0,79.7a1.1,1.1 0 1,0 2.2,0a1.1,1.1 0 1,0 -2.2,0M594.3,77.0a1.1,1.1 0 1,0 2.2,0a1.1,1.1 0 1,0 -2.2,0M601.6,74.1a1.1,1.1 0 1,0 2.2,0a1.1,1.1 0 1,0 -2.2,0M608.8,68.2a1.1,1.1 0 1,0 2.2,0a1.1,1.1 0 1,0 -2.2,0M616.1,66.7a1.1,1.1 0 1,0 2.2,0a1.1,1.1 0 1,0 -2.2,0M623.4,65.3a1.1,1.1 0 1,0 2.2,0a1.1,1.1 0 1,0 -2.2,0M630.6,66.0a1.1,1.1 0 1,0 2.2,0a1.1,1.1 0 1,0 -2.2,0M637.9,65.8a1.1,1.1 0 1,0 2.2,0a1.1,1.1 0 1,0 -2.2,0M645.1,63.7a1.1,1.1 0 1,0 2.2,0a1.1,1.1 0 1,0 -2.2,0M652.4,62.7a1.1,1.1 0 1,0 2.2,0a1.1,1.1 0 1,0 -2.2,0M659.7,63.5a1.1,1.1 0 1,0 2.2,0a1.1,1.1 0 1,0 -2.2,0M521.7,80.5a1.1,1.1 0 1,0 2.2,0a1.1,1.1 0 1,0 -2.2,0M528.9,81.8a1.1,1.1 0 1,0 2.2,0a1.1,1.1 0 1,0 -2.2,0M536.2,84.0a1.1,1.1 0 1,0 2.2,0a1.1,1.1 0 1,0 -2.2,0M543.5,86.4a1.1,1.1 0 1,0 2.2,0a1.1,1.1 0 1,0 -2.2,0M550.7,91.1a1.1,1.1 0 1,0 2.2,0a1.1,1.1 0 1,0 -2.2,0M558.0,97.0a1.1,1.1 0 1,0 2.2,0a1.1,1.1 0 1,0 -2.2,0M565.2,100.7a1.1,1.1 0 1,0 2.2,0a1.1,1.1 0 1,0 -2.2,0M572.5,102.2a1.1,1.1 0 1,0 2.2,0a1.1,1.1 0 1,0 -2.2,0M579.8,103.7a1.1,1.1 0 1,0 2.2,0a1.1,1.1 0 1,0 -2.2,0M587.0,108.3a1.1,1.1 0 1,0 2.2,0a1.1,1.1 0 1,0 -2.2,0M594.3,108.9a1.1,1.1 0 1,0 2.2,0a1.1,1.1 0 1,0 -2.2,0M601.6,110.5a1.1,1.1 0 1,0 2.2,0a1.1,1.1 0 1,0 -2.2,0M608.8,113.8a1.1,1.1 0 1,0 2.2,0a1.1,1.1 0 1,0 -2.2,0M616.1,114.0a1.1,1.1 0 1,0 2.2,0a1.1,1.1 0 1,0 -2.2,0M623.4,115.6a1.1,1.1 0 1,0 2.2,0a1.1,1.1 0 1,0 -2.2,0M630.6,115.1a1.1,1.1 0 1,0 2.2,0a1.1,1.1 0 1,0 -2.2,0M637.9,116.9a1.1,1.1 0 1,0 2.2,0a1.1,1.1 0 1,0 -2.2,0M645.1,116.5a1.1,1.1 0 1,0 2.2,0a1.1,1.1 0 1,0 -2.2,0M652.4,118.8a1.1,1.1 0 1,0 2.2,0a1.1,1.1 0 1,0 -2.2,0M659.7,120.5a1.1,1.1 0 1,0 2.2,0a1.1,1.1 0 1,0 -2.2,0M521.7,67.5a1.1,1.1 0 1,0 2.2,0a1.1,1.1 0 1,0 -2.2,0M528.9,65.9a1.1,1.1 0 1,0 2.2,0a1.1,1.1 0 1,0 -2.2,0M536.2,63.5a1.1,1.1 0 1,0 2.2,0a1.1,1.1 0 1,0 -2.2,0M543.5,60.3a1.1,1.1 0 1,0 2.2,0a1.1,1.1 0 1,0 -2.2,0M550.7,62.3a1.1,1.1 0 1,0 2.2,0a1.1,1.1 0 1,0 -2.2,0M558.0,62.8a1.1,1.1 0 1,0 2.2,0a1.1,1.1 0 1,0 -2.2,0M565.2,62.2a1.1,1.1 0 1,0 2.2,0a1.1,1.1 0 1,0 -2.2,0M572.5,60.8a1.1,1.1 0 1,0 2.2,0a1.1,1.1 0 1,0 -2.2,0M579.8,58.4a1.1,1.1 0 1,0 2.2,0a1.1,1.1 0 1,0 -2.2,0M587.0,54.6a1.1,1.1 0 1,0 2.2,0a1.1,1.1 0 1,0 -2.2,0M594.3,56.3a1.1,1.1 0 1,0 2.2,0a1.1,1.1 0 1,0 -2.2,0M601.6,56.2a1.1,1.1 0 1,0 2.2,0a1.1,1.1 0 1,0 -2.2,0M608.8,55.0a1.1,1.1 0 1,0 2.2,0a1.1,1.1 0 1,0 -2.2,0M616.1,56.0a1.1,1.1 0 1,0 2.2,0a1.1,1.1 0 1,0 -2.2,0M623.4,56.1a1.1,1.1 0 1,0 2.2,0a1.1,1.1 0 1,0 -2.2,0M630.6,56.7a1.1,1.1 0 1,0 2.2,0a1.1,1.1 0 1,0 -2.2,0M637.9,56.9a1.1,1.1 0 1,0 2.2,0a1.1,1.1 0 1,0 -2.2,0M645.1,56.1a1.1,1.1 0 1,0 2.2,0a1.1,1.1 0 1,0 -2.2,0M652.4,57.0a1.1,1.1 0 1,0 2.2,0a1.1,1.1 0 1,0 -2.2,0M659.7,56.3a1.1,1.1 0 1,0 2.2,0a1.1,1.1 0 1,0 -2.2,0M521.7,67.0a1.1,1.1 0 1,0 2.2,0a1.1,1.1 0 1,0 -2.2,0M528.9,66.8a1.1,1.1 0 1,0 2.2,0a1.1,1.1 0 1,0 -2.2,0M536.2,65.7a1.1,1.1 0 1,0 2.2,0a1.1,1.1 0 1,0 -2.2,0M543.5,66.7a1.1,1.1 0 1,0 2.2,0a1.1,1.1 0 1,0 -2.2,0M550.7,66.5a1.1,1.1 0 1,0 2.2,0a1.1,1.1 0 1,0 -2.2,0M558.0,65.5a1.1,1.1 0 1,0 2.2,0a1.1,1.1 0 1,0 -2.2,0M565.2,66.1a1.1,1.1 0 1,0 2.2,0a1.1,1.1 0 1,0 -2.2,0M572.5,65.1a1.1,1.1 0 1,0 2.2,0a1.1,1.1 0 1,0 -2.2,0M579.8,62.5a1.1,1.1 0 1,0 2.2,0a1.1,1.1 0 1,0 -2.2,0M587.0,62.3a1.1,1.1 0 1,0 2.2,0a1.1,1.1 0 1,0 -2.2,0M594.3,63.4a1.1,1.1 0 1,0 2.2,0a1.1,1.1 0 1,0 -2.2,0M601.6,63.0a1.1,1.1 0 1,0 2.2,0a1.1,1.1 0 1,0 -2.2,0M608.8,61.3a1.1,1.1 0 1,0 2.2,0a1.1,1.1 0 1,0 -2.2,0M616.1,60.4a1.1,1.1 0 1,0 2.2,0a1.1,1.1 0 1,0 -2.2,0M623.4,61.8a1.1,1.1 0 1,0 2.2,0a1.1,1.1 0 1,0 -2.2,0M630.6,60.4a1.1,1.1 0 1,0 2.2,0a1.1,1.1 0 1,0 -2.2,0M637.9,61.0a1.1,1.1 0 1,0 2.2,0a1.1,1.1 0 1,0 -2.2,0M645.1,62.1a1.1,1.1 0 1,0 2.2,0a1.1,1.1 0 1,0 -2.2,0M652.4,63.0a1.1,1.1 0 1,0 2.2,0a1.1,1.1 0 1,0 -2.2,0M659.7,63.9a1.1,1.1 0 1,0 2.2,0a1.1,1.1 0 1,0 -2.2,0M521.7,76.9a1.1,1.1 0 1,0 2.2,0a1.1,1.1 0 1,0 -2.2,0M528.9,75.4a1.1,1.1 0 1,0 2.2,0a1.1,1.1 0 1,0 -2.2,0M536.2,78.3a1.1,1.1 0 1,0 2.2,0a1.1,1.1 0 1,0 -2.2,0M543.5,78.5a1.1,1.1 0 1,0 2.2,0a1.1,1.1 0 1,0 -2.2,0M550.7,80.1a1.1,1.1 0 1,0 2.2,0a1.1,1.1 0 1,0 -2.2,0M558.0,79.0a1.1,1.1 0 1,0 2.2,0a1.1,1.1 0 1,0 -2.2,0M565.2,80.0a1.1,1.1 0 1,0 2.2,0a1.1,1.1 0 1,0 -2.2,0M572.5,81.2a1.1,1.1 0 1,0 2.2,0a1.1,1.1 0 1,0 -2.2,0M579.8,81.9a1.1,1.1 0 1,0 2.2,0a1.1,1.1 0 1,0 -2.2,0M587.0,80.9a1.1,1.1 0 1,0 2.2,0a1.1,1.1 0 1,0 -2.2,0M594.3,82.5a1.1,1.1 0 1,0 2.2,0a1.1,1.1 0 1,0 -2.2,0M601.6,82.6a1.1,1.1 0 1,0 2.2,0a1.1,1.1 0 1,0 -2.2,0M608.8,82.5a1.1,1.1 0 1,0 2.2,0a1.1,1.1 0 1,0 -2.2,0M616.1,82.3a1.1,1.1 0 1,0 2.2,0a1.1,1.1 0 1,0 -2.2,0M623.4,83.0a1.1,1.1 0 1,0 2.2,0a1.1,1.1 0 1,0 -2.2,0M630.6,83.5a1.1,1.1 0 1,0 2.2,0a1.1,1.1 0 1,0 -2.2,0M637.9,81.7a1.1,1.1 0 1,0 2.2,0a1.1,1.1 0 1,0 -2.2,0M645.1,82.7a1.1,1.1 0 1,0 2.2,0a1.1,1.1 0 1,0 -2.2,0M652.4,82.7a1.1,1.1 0 1,0 2.2,0a1.1,1.1 0 1,0 -2.2,0M659.7,81.9a1.1,1.1 0 1,0 2.2,0a1.1,1.1 0 1,0 -2.2,0M521.7,81.5a1.1,1.1 0 1,0 2.2,0a1.1,1.1 0 1,0 -2.2,0M528.9,82.4a1.1,1.1 0 1,0 2.2,0a1.1,1.1 0 1,0 -2.2,0M536.2,82.1a1.1,1.1 0 1,0 2.2,0a1.1,1.1 0 1,0 -2.2,0M543.5,81.7a1.1,1.1 0 1,0 2.2,0a1.1,1.1 0 1,0 -2.2,0M550.7,82.1a1.1,1.1 0 1,0 2.2,0a1.1,1.1 0 1,0 -2.2,0M558.0,85.0a1.1,1.1 0 1,0 2.2,0a1.1,1.1 0 1,0 -2.2,0M565.2,86.4a1.1,1.1 0 1,0 2.2,0a1.1,1.1 0 1,0 -2.2,0M572.5,86.1a1.1,1.1 0 1,0 2.2,0a1.1,1.1 0 1,0 -2.2,0M579.8,86.1a1.1,1.1 0 1,0 2.2,0a1.1,1.1 0 1,0 -2.2,0M587.0,87.5a1.1,1.1 0 1,0 2.2,0a1.1,1.1 0 1,0 -2.2,0M594.3,88.1a1.1,1.1 0 1,0 2.2,0a1.1,1.1 0 1,0 -2.2,0M601.6,88.6a1.1,1.1 0 1,0 2.2,0a1.1,1.1 0 1,0 -2.2,0M608.8,90.4a1.1,1.1 0 1,0 2.2,0a1.1,1.1 0 1,0 -2.2,0M616.1,92.5a1.1,1.1 0 1,0 2.2,0a1.1,1.1 0 1,0 -2.2,0M623.4,94.5a1.1,1.1 0 1,0 2.2,0a1.1,1.1 0 1,0 -2.2,0M630.6,93.4a1.1,1.1 0 1,0 2.2,0a1.1,1.1 0 1,0 -2.2,0M637.9,93.8a1.1,1.1 0 1,0 2.2,0a1.1,1.1 0 1,0 -2.2,0M645.1,93.3a1.1,1.1 0 1,0 2.2,0a1.1,1.1 0 1,0 -2.2,0M652.4,95.3a1.1,1.1 0 1,0 2.2,0a1.1,1.1 0 1,0 -2.2,0M659.7,94.0a1.1,1.1 0 1,0 2.2,0a1.1,1.1 0 1,0 -2.2,0M521.7,70.4a1.1,1.1 0 1,0 2.2,0a1.1,1.1 0 1,0 -2.2,0M528.9,66.5a1.1,1.1 0 1,0 2.2,0a1.1,1.1 0 1,0 -2.2,0M536.2,61.2a1.1,1.1 0 1,0 2.2,0a1.1,1.1 0 1,0 -2.2,0M543.5,56.4a1.1,1.1 0 1,0 2.2,0a1.1,1.1 0 1,0 -2.2,0M550.7,58.7a1.1,1.1 0 1,0 2.2,0a1.1,1.1 0 1,0 -2.2,0M558.0,58.3a1.1,1.1 0 1,0 2.2,0a1.1,1.1 0 1,0 -2.2,0M565.2,58.5a1.1,1.1 0 1,0 2.2,0a1.1,1.1 0 1,0 -2.2,0M572.5,58.4a1.1,1.1 0 1,0 2.2,0a1.1,1.1 0 1,0 -2.2,0M579.8,57.4a1.1,1.1 0 1,0 2.2,0a1.1,1.1 0 1,0 -2.2,0M587.0,54.3a1.1,1.1 0 1,0 2.2,0a1.1,1.1 0 1,0 -2.2,0M594.3,50.9a1.1,1.1 0 1,0 2.2,0a1.1,1.1 0 1,0 -2.2,0M601.6,49.2a1.1,1.1 0 1,0 2.2,0a1.1,1.1 0 1,0 -2.2,0M608.8,49.3a1.1,1.1 0 1,0 2.2,0a1.1,1.1 0 1,0 -2.2,0M616.1,46.0a1.1,1.1 0 1,0 2.2,0a1.1,1.1 0 1,0 -2.2,0M623.4,43.0a1.1,1.1 0 1,0 2.2,0a1.1,1.1 0 1,0 -2.2,0M630.6,41.9a1.1,1.1 0 1,0 2.2,0a1.1,1.1 0 1,0 -2.2,0M637.9,41.8a1.1,1.1 0 1,0 2.2,0a1.1,1.1 0 1,0 -2.2,0M645.1,38.4a1.1,1.1 0 1,0 2.2,0a1.1,1.1 0 1,0 -2.2,0M652.4,35.7a1.1,1.1 0 1,0 2.2,0a1.1,1.1 0 1,0 -2.2,0M659.7,35.2a1.1,1.1 0 1,0 2.2,0a1.1,1.1 0 1,0 -2.2,0M521.7,73.8a1.1,1.1 0 1,0 2.2,0a1.1,1.1 0 1,0 -2.2,0M528.9,74.8a1.1,1.1 0 1,0 2.2,0a1.1,1.1 0 1,0 -2.2,0M536.2,75.2a1.1,1.1 0 1,0 2.2,0a1.1,1.1 0 1,0 -2.2,0M543.5,75.6a1.1,1.1 0 1,0 2.2,0a1.1,1.1 0 1,0 -2.2,0M550.7,76.2a1.1,1.1 0 1,0 2.2,0a1.1,1.1 0 1,0 -2.2,0M558.0,73.7a1.1,1.1 0 1,0 2.2,0a1.1,1.1 0 1,0 -2.2,0M565.2,71.7a1.1,1.1 0 1,0 2.2,0a1.1,1.1 0 1,0 -2.2,0M572.5,71.4a1.1,1.1 0 1,0 2.2,0a1.1,1.1 0 1,0 -2.2,0M579.8,71.1a1.1,1.1 0 1,0 2.2,0a1.1,1.1 0 1,0 -2.2,0M587.0,70.6a1.1,1.1 0 1,0 2.2,0a1.1,1.1 0 1,0 -2.2,0M594.3,68.6a1.1,1.1 0 1,0 2.2,0a1.1,1.1 0 1,0 -2.2,0M601.6,68.3a1.1,1.1 0 1,0 2.2,0a1.1,1.1 0 1,0 -2.2,0M608.8,68.7a1.1,1.1 0 1,0 2.2,0a1.1,1.1 0 1,0 -2.2,0M616.1,67.8a1.1,1.1 0 1,0 2.2,0a1.1,1.1 0 1,0 -2.2,0M623.4,69.4a1.1,1.1 0 1,0 2.2,0a1.1,1.1 0 1,0 -2.2,0M630.6,68.0a1.1,1.1 0 1,0 2.2,0a1.1,1.1 0 1,0 -2.2,0M637.9,69.6a1.1,1.1 0 1,0 2.2,0a1.1,1.1 0 1,0 -2.2,0M645.1,68.3a1.1,1.1 0 1,0 2.2,0a1.1,1.1 0 1,0 -2.2,0M652.4,68.6a1.1,1.1 0 1,0 2.2,0a1.1,1.1 0 1,0 -2.2,0M659.7,69.1a1.1,1.1 0 1,0 2.2,0a1.1,1.1 0 1,0 -2.2,0M521.7,64.4a1.1,1.1 0 1,0 2.2,0a1.1,1.1 0 1,0 -2.2,0M528.9,62.1a1.1,1.1 0 1,0 2.2,0a1.1,1.1 0 1,0 -2.2,0M536.2,59.1a1.1,1.1 0 1,0 2.2,0a1.1,1.1 0 1,0 -2.2,0M543.5,61.7a1.1,1.1 0 1,0 2.2,0a1.1,1.1 0 1,0 -2.2,0M550.7,69.4a1.1,1.1 0 1,0 2.2,0a1.1,1.1 0 1,0 -2.2,0M558.0,73.3a1.1,1.1 0 1,0 2.2,0a1.1,1.1 0 1,0 -2.2,0M565.2,75.0a1.1,1.1 0 1,0 2.2,0a1.1,1.1 0 1,0 -2.2,0M572.5,78.6a1.1,1.1 0 1,0 2.2,0a1.1,1.1 0 1,0 -2.2,0M579.8,82.1a1.1,1.1 0 1,0 2.2,0a1.1,1.1 0 1,0 -2.2,0M587.0,83.6a1.1,1.1 0 1,0 2.2,0a1.1,1.1 0 1,0 -2.2,0M594.3,85.1a1.1,1.1 0 1,0 2.2,0a1.1,1.1 0 1,0 -2.2,0M601.6,88.8a1.1,1.1 0 1,0 2.2,0a1.1,1.1 0 1,0 -2.2,0M608.8,90.7a1.1,1.1 0 1,0 2.2,0a1.1,1.1 0 1,0 -2.2,0M616.1,90.8a1.1,1.1 0 1,0 2.2,0a1.1,1.1 0 1,0 -2.2,0M623.4,94.6a1.1,1.1 0 1,0 2.2,0a1.1,1.1 0 1,0 -2.2,0M630.6,97.5a1.1,1.1 0 1,0 2.2,0a1.1,1.1 0 1,0 -2.2,0M637.9,102.4a1.1,1.1 0 1,0 2.2,0a1.1,1.1 0 1,0 -2.2,0M645.1,105.5a1.1,1.1 0 1,0 2.2,0a1.1,1.1 0 1,0 -2.2,0M652.4,107.3a1.1,1.1 0 1,0 2.2,0a1.1,1.1 0 1,0 -2.2,0M659.7,108.1a1.1,1.1 0 1,0 2.2,0a1.1,1.1 0 1,0 -2.2,0M521.7,76.9a1.1,1.1 0 1,0 2.2,0a1.1,1.1 0 1,0 -2.2,0M528.9,77.1a1.1,1.1 0 1,0 2.2,0a1.1,1.1 0 1,0 -2.2,0M536.2,74.8a1.1,1.1 0 1,0 2.2,0a1.1,1.1 0 1,0 -2.2,0M543.5,73.5a1.1,1.1 0 1,0 2.2,0a1.1,1.1 0 1,0 -2.2,0M550.7,73.0a1.1,1.1 0 1,0 2.2,0a1.1,1.1 0 1,0 -2.2,0M558.0,71.1a1.1,1.1 0 1,0 2.2,0a1.1,1.1 0 1,0 -2.2,0M565.2,67.8a1.1,1.1 0 1,0 2.2,0a1.1,1.1 0 1,0 -2.2,0M572.5,65.2a1.1,1.1 0 1,0 2.2,0a1.1,1.1 0 1,0 -2.2,0M579.8,64.4a1.1,1.1 0 1,0 2.2,0a1.1,1.1 0 1,0 -2.2,0M587.0,64.1a1.1,1.1 0 1,0 2.2,0a1.1,1.1 0 1,0 -2.2,0M594.3,66.3a1.1,1.1 0 1,0 2.2,0a1.1,1.1 0 1,0 -2.2,0M601.6,67.1a1.1,1.1 0 1,0 2.2,0a1.1,1.1 0 1,0 -2.2,0M608.8,66.8a1.1,1.1 0 1,0 2.2,0a1.1,1.1 0 1,0 -2.2,0M616.1,67.7a1.1,1.1 0 1,0 2.2,0a1.1,1.1 0 1,0 -2.2,0M623.4,69.1a1.1,1.1 0 1,0 2.2,0a1.1,1.1 0 1,0 -2.2,0M630.6,70.5a1.1,1.1 0 1,0 2.2,0a1.1,1.1 0 1,0 -2.2,0M637.9,72.0a1.1,1.1 0 1,0 2.2,0a1.1,1.1 0 1,0 -2.2,0M645.1,74.1a1.1,1.1 0 1,0 2.2,0a1.1,1.1 0 1,0 -2.2,0M652.4,75.8a1.1,1.1 0 1,0 2.2,0a1.1,1.1 0 1,0 -2.2,0M659.7,75.1a1.1,1.1 0 1,0 2.2,0a1.1,1.1 0 1,0 -2.2,0M521.7,61.9a1.1,1.1 0 1,0 2.2,0a1.1,1.1 0 1,0 -2.2,0M528.9,58.5a1.1,1.1 0 1,0 2.2,0a1.1,1.1 0 1,0 -2.2,0M536.2,54.7a1.1,1.1 0 1,0 2.2,0a1.1,1.1 0 1,0 -2.2,0M543.5,56.7a1.1,1.1 0 1,0 2.2,0a1.1,1.1 0 1,0 -2.2,0M550.7,58.4a1.1,1.1 0 1,0 2.2,0a1.1,1.1 0 1,0 -2.2,0M558.0,62.2a1.1,1.1 0 1,0 2.2,0a1.1,1.1 0 1,0 -2.2,0M565.2,61.0a1.1,1.1 0 1,0 2.2,0a1.1,1.1 0 1,0 -2.2,0M572.5,61.9a1.1,1.1 0 1,0 2.2,0a1.1,1.1 0 1,0 -2.2,0M579.8,63.1a1.1,1.1 0 1,0 2.2,0a1.1,1.1 0 1,0 -2.2,0M587.0,62.4a1.1,1.1 0 1,0 2.2,0a1.1,1.1 0 1,0 -2.2,0M594.3,62.5a1.1,1.1 0 1,0 2.2,0a1.1,1.1 0 1,0 -2.2,0M601.6,58.6a1.1,1.1 0 1,0 2.2,0a1.1,1.1 0 1,0 -2.2,0M608.8,53.6a1.1,1.1 0 1,0 2.2,0a1.1,1.1 0 1,0 -2.2,0M616.1,50.9a1.1,1.1 0 1,0 2.2,0a1.1,1.1 0 1,0 -2.2,0M623.4,47.6a1.1,1.1 0 1,0 2.2,0a1.1,1.1 0 1,0 -2.2,0M630.6,48.7a1.1,1.1 0 1,0 2.2,0a1.1,1.1 0 1,0 -2.2,0M637.9,48.4a1.1,1.1 0 1,0 2.2,0a1.1,1.1 0 1,0 -2.2,0M645.1,48.1a1.1,1.1 0 1,0 2.2,0a1.1,1.1 0 1,0 -2.2,0M652.4,46.3a1.1,1.1 0 1,0 2.2,0a1.1,1.1 0 1,0 -2.2,0M659.7,46.6a1.1,1.1 0 1,0 2.2,0a1.1,1.1 0 1,0 -2.2,0" fill="none" stroke="#d0d0d0" stroke-width="0.5"/>
<path d="M522.76,71.65 L530.03,68.89 L537.29,67.23 L544.55,67.23 L551.82,68.52 L559.08,69.99 L566.34,70.18 L573.61,69.99 L580.87,69.81 L588.13,69.44 L595.40,68.52 L602.66,67.60 L609.92,67.23 L624.45,67.23 L664.40,67.23 L664.40,78.27 L624.45,78.27 L609.92,78.27 L602.66,77.72 L595.40,76.98 L588.13,76.06 L580.87,75.88 L573.61,75.70 L566.34,75.51 L559.08,75.33 L551.82,74.41 L544.55,74.04 L537.29,74.04 L530.03,74.41 L522.76,74.96 Z" fill="#cfcfcf" stroke="#6e6e6e" stroke-width="0.6"/>
<path d="M520.36,73.12a2.4,2.4 0 1,0 4.8,0a2.4,2.4 0 1,0 -4.8,0M527.63,70.27a2.4,2.4 0 1,0 4.8,0a2.4,2.4 0 1,0 -4.8,0M534.89,69.44a2.4,2.4 0 1,0 4.8,0a2.4,2.4 0 1,0 -4.8,0M542.15,69.44a2.4,2.4 0 1,0 4.8,0a2.4,2.4 0 1,0 -4.8,0M549.42,70.27a2.4,2.4 0 1,0 4.8,0a2.4,2.4 0 1,0 -4.8,0M556.68,72.38a2.4,2.4 0 1,0 4.8,0a2.4,2.4 0 1,0 -4.8,0M563.94,73.12a2.4,2.4 0 1,0 4.8,0a2.4,2.4 0 1,0 -4.8,0M571.21,72.38a2.4,2.4 0 1,0 4.8,0a2.4,2.4 0 1,0 -4.8,0M578.47,72.02a2.4,2.4 0 1,0 4.8,0a2.4,2.4 0 1,0 -4.8,0M585.73,70.91a2.4,2.4 0 1,0 4.8,0a2.4,2.4 0 1,0 -4.8,0M593.00,70.73a2.4,2.4 0 1,0 4.8,0a2.4,2.4 0 1,0 -4.8,0M600.26,70.73a2.4,2.4 0 1,0 4.8,0a2.4,2.4 0 1,0 -4.8,0M607.52,70.73a2.4,2.4 0 1,0 4.8,0a2.4,2.4 0 1,0 -4.8,0M614.79,70.91a2.4,2.4 0 1,0 4.8,0a2.4,2.4 0 1,0 -4.8,0M622.05,71.10a2.4,2.4 0 1,0 4.8,0a2.4,2.4 0 1,0 -4.8,0M629.31,71.28a2.4,2.4 0 1,0 4.8,0a2.4,2.4 0 1,0 -4.8,0M636.58,71.46a2.4,2.4 0 1,0 4.8,0a2.4,2.4 0 1,0 -4.8,0M643.84,71.83a2.4,2.4 0 1,0 4.8,0a2.4,2.4 0 1,0 -4.8,0M651.10,72.20a2.4,2.4 0 1,0 4.8,0a2.4,2.4 0 1,0 -4.8,0M658.37,72.38a2.4,2.4 0 1,0 4.8,0a2.4,2.4 0 1,0 -4.8,0" fill="#edb120"/>
<line x1="515.5" y1="72.8" x2="664.4" y2="72.8" stroke="#0072bd" stroke-width="2.1"/>
</g>
<text transform="translate(519.30,30.00) scale(0.95,1)" font-size="10.2" text-anchor="start" fill="#000" >Model (i)</text>
<rect x="515.5" y="17.0" width="148.90" height="110.40" fill="none" stroke="#262626" stroke-width="0.8"/>
<line x1="515.50" y1="127.4" x2="515.50" y2="125.9" stroke="#262626" stroke-width="0.8"/>
<line x1="515.50" y1="17.0" x2="515.50" y2="18.5" stroke="#262626" stroke-width="0.8"/>
<text x="515.50" y="140.80" font-size="8.4" text-anchor="middle" fill="#262626" >0</text>
<line x1="588.13" y1="127.4" x2="588.13" y2="125.9" stroke="#262626" stroke-width="0.8"/>
<line x1="588.13" y1="17.0" x2="588.13" y2="18.5" stroke="#262626" stroke-width="0.8"/>
<text x="588.13" y="140.80" font-size="8.4" text-anchor="middle" fill="#262626" >10<tspan font-size="6.4" dy="-4.0">3</tspan></text>
<line x1="660.77" y1="127.4" x2="660.77" y2="125.9" stroke="#262626" stroke-width="0.8"/>
<line x1="660.77" y1="17.0" x2="660.77" y2="18.5" stroke="#262626" stroke-width="0.8"/>
<text x="660.77" y="140.80" font-size="8.4" text-anchor="middle" fill="#262626" >2<tspan dx="0.9">×</tspan><tspan dx="0.9">10</tspan><tspan font-size="6.4" dy="-4.0">3</tspan></text>
<line x1="515.5" y1="109.00" x2="517.0" y2="109.00" stroke="#262626" stroke-width="0.8"/>
<line x1="664.4" y1="109.00" x2="662.9" y2="109.00" stroke="#262626" stroke-width="0.8"/>
<text x="512.90" y="112.40" font-size="8.7" text-anchor="end" fill="#262626" >-0.2</text>
<line x1="515.5" y1="72.20" x2="517.0" y2="72.20" stroke="#262626" stroke-width="0.8"/>
<line x1="664.4" y1="72.20" x2="662.9" y2="72.20" stroke="#262626" stroke-width="0.8"/>
<text x="512.90" y="75.60" font-size="8.7" text-anchor="end" fill="#262626" >0</text>
<line x1="515.5" y1="35.40" x2="517.0" y2="35.40" stroke="#262626" stroke-width="0.8"/>
<line x1="664.4" y1="35.40" x2="662.9" y2="35.40" stroke="#262626" stroke-width="0.8"/>
<text x="512.90" y="38.80" font-size="8.7" text-anchor="end" fill="#262626" >0.2</text>
<text x="0.00" y="0.00" font-size="9.0" text-anchor="middle" fill="#262626" transform="translate(494.00,72.20) rotate(-90)">S(t)</text>
<text x="589.65" y="151.80" font-size="8.7" text-anchor="middle" fill="#262626" >t</text>
<text x="0.00" y="0.00" font-size="9.9" text-anchor="middle" fill="#000" transform="translate(679.30,71.50) rotate(-90)">Neighbor interactions (NI)</text>
<clipPath id="ch"><rect x="515.5" y="166.2" width="149.00" height="110.40"/></clipPath><g clip-path="url(#ch)">
<path d="M522.8,250.6 L530.0,254.7 L537.3,256.9 L544.6,254.9 L551.8,253.6 L559.1,246.3 L566.4,242.9 L573.6,231.3 L580.9,221.7 L588.2,214.4 L595.5,207.4 L602.7,203.5 L610.0,196.8 L617.3,192.7 L624.5,187.9 L631.8,183.9 L639.1,182.5 L646.3,179.1 L653.6,177.2 L660.9,173.4M522.8,245.7 L530.0,255.9 L537.3,253.2 L544.6,257.9 L551.8,251.0 L559.1,249.1 L566.4,243.2 L573.6,227.9 L580.9,223.6 L588.2,215.5 L595.5,207.2 L602.7,201.5 L610.0,197.3 L617.3,190.8 L624.5,188.0 L631.8,183.6 L639.1,182.0 L646.3,177.3 L653.6,176.2 L660.9,173.2M522.8,244.7 L530.0,254.7 L537.3,256.8 L544.6,257.6 L551.8,254.9 L559.1,249.6 L566.4,240.7 L573.6,230.1 L580.9,224.2 L588.2,214.3 L595.5,208.9 L602.7,203.0 L610.0,195.9 L617.3,192.1 L624.5,188.5 L631.8,184.1 L639.1,180.7 L646.3,179.6 L653.6,175.4 L660.9,175.7M522.8,249.5 L530.0,253.9 L537.3,263.3 L544.6,256.2 L551.8,256.7 L559.1,249.1 L566.4,243.1 L573.6,234.7 L580.9,223.7 L588.2,213.6 L595.5,209.2 L602.7,201.8 L610.0,195.6 L617.3,190.9 L624.5,188.5 L631.8,184.5 L639.1,181.2 L646.3,177.7 L653.6,177.7 L660.9,173.8M522.8,245.4 L530.0,250.1 L537.3,259.4 L544.6,251.2 L551.8,255.3 L559.1,247.4 L566.4,238.2 L573.6,227.5 L580.9,223.3 L588.2,213.7 L595.5,208.3 L602.7,203.0 L610.0,197.2 L617.3,192.9 L624.5,189.1 L631.8,185.0 L639.1,180.7 L646.3,177.1 L653.6,177.5 L660.9,175.6M522.8,243.9 L530.0,252.8 L537.3,256.4 L544.6,257.1 L551.8,251.2 L559.1,243.4 L566.4,239.4 L573.6,231.6 L580.9,224.0 L588.2,213.7 L595.5,209.7 L602.7,202.5 L610.0,195.9 L617.3,193.0 L624.5,187.5 L631.8,182.9 L639.1,180.9 L646.3,177.7 L653.6,177.7 L660.9,174.6M522.8,254.5 L530.0,253.9 L537.3,261.0 L544.6,259.0 L551.8,251.5 L559.1,246.8 L566.4,235.1 L573.6,231.4 L580.9,222.9 L588.2,214.2 L595.5,208.5 L602.7,203.0 L610.0,197.0 L617.3,192.9 L624.5,188.4 L631.8,182.8 L639.1,180.0 L646.3,178.1 L653.6,176.7 L660.9,174.9M522.8,251.3 L530.0,254.9 L537.3,253.3 L544.6,251.9 L551.8,253.1 L559.1,243.7 L566.4,236.8 L573.6,229.4 L580.9,222.4 L588.2,214.1 L595.5,208.8 L602.7,202.0 L610.0,197.3 L617.3,192.1 L624.5,187.4 L631.8,183.6 L639.1,181.7 L646.3,177.3 L653.6,176.3 L660.9,174.2M522.8,251.9 L530.0,252.7 L537.3,257.7 L544.6,253.5 L551.8,252.2 L559.1,243.4 L566.4,237.8 L573.6,228.5 L580.9,223.3 L588.2,214.4 L595.5,207.8 L602.7,201.6 L610.0,197.1 L617.3,191.2 L624.5,187.1 L631.8,183.6 L639.1,180.0 L646.3,177.2 L653.6,176.6 L660.9,174.4M522.8,254.3 L530.0,254.0 L537.3,255.7 L544.6,258.8 L551.8,254.0 L559.1,247.9 L566.4,237.2 L573.6,233.7 L580.9,222.1 L588.2,214.6 L595.5,208.0 L602.7,202.7 L610.0,196.4 L617.3,191.3 L624.5,187.7 L631.8,183.5 L639.1,182.4 L646.3,179.3 L653.6,176.8 L660.9,174.1M522.8,250.2 L530.0,251.5 L537.3,254.5 L544.6,258.7 L551.8,252.2 L559.1,248.3 L566.4,242.7 L573.6,234.0 L580.9,223.3 L588.2,215.6 L595.5,209.2 L602.7,203.7 L610.0,196.8 L617.3,192.3 L624.5,187.8 L631.8,183.9 L639.1,181.9 L646.3,177.4 L653.6,177.9 L660.9,174.7M522.8,249.7 L530.0,253.8 L537.3,258.8 L544.6,252.2 L551.8,253.0 L559.1,249.9 L566.4,238.1 L573.6,234.3 L580.9,222.8 L588.2,215.2 L595.5,208.2 L602.7,201.3 L610.0,195.9 L617.3,192.2 L624.5,187.3 L631.8,183.7 L639.1,181.6 L646.3,179.3 L653.6,176.4 L660.9,174.3" fill="none" stroke="#dcdcdc" stroke-width="0.6" stroke-dasharray="2.2,1.6"/>
<path d="M521.7,250.6a1.1,1.1 0 1,0 2.2,0a1.1,1.1 0 1,0 -2.2,0M528.9,254.7a1.1,1.1 0 1,0 2.2,0a1.1,1.1 0 1,0 -2.2,0M536.2,256.9a1.1,1.1 0 1,0 2.2,0a1.1,1.1 0 1,0 -2.2,0M543.5,254.9a1.1,1.1 0 1,0 2.2,0a1.1,1.1 0 1,0 -2.2,0M550.7,253.6a1.1,1.1 0 1,0 2.2,0a1.1,1.1 0 1,0 -2.2,0M558.0,246.3a1.1,1.1 0 1,0 2.2,0a1.1,1.1 0 1,0 -2.2,0M565.3,242.9a1.1,1.1 0 1,0 2.2,0a1.1,1.1 0 1,0 -2.2,0M572.5,231.3a1.1,1.1 0 1,0 2.2,0a1.1,1.1 0 1,0 -2.2,0M579.8,221.7a1.1,1.1 0 1,0 2.2,0a1.1,1.1 0 1,0 -2.2,0M587.1,214.4a1.1,1.1 0 1,0 2.2,0a1.1,1.1 0 1,0 -2.2,0M594.4,207.4a1.1,1.1 0 1,0 2.2,0a1.1,1.1 0 1,0 -2.2,0M601.6,203.5a1.1,1.1 0 1,0 2.2,0a1.1,1.1 0 1,0 -2.2,0M608.9,196.8a1.1,1.1 0 1,0 2.2,0a1.1,1.1 0 1,0 -2.2,0M616.2,192.7a1.1,1.1 0 1,0 2.2,0a1.1,1.1 0 1,0 -2.2,0M623.4,187.9a1.1,1.1 0 1,0 2.2,0a1.1,1.1 0 1,0 -2.2,0M630.7,183.9a1.1,1.1 0 1,0 2.2,0a1.1,1.1 0 1,0 -2.2,0M638.0,182.5a1.1,1.1 0 1,0 2.2,0a1.1,1.1 0 1,0 -2.2,0M645.2,179.1a1.1,1.1 0 1,0 2.2,0a1.1,1.1 0 1,0 -2.2,0M652.5,177.2a1.1,1.1 0 1,0 2.2,0a1.1,1.1 0 1,0 -2.2,0M659.8,173.4a1.1,1.1 0 1,0 2.2,0a1.1,1.1 0 1,0 -2.2,0M521.7,245.7a1.1,1.1 0 1,0 2.2,0a1.1,1.1 0 1,0 -2.2,0M528.9,255.9a1.1,1.1 0 1,0 2.2,0a1.1,1.1 0 1,0 -2.2,0M536.2,253.2a1.1,1.1 0 1,0 2.2,0a1.1,1.1 0 1,0 -2.2,0M543.5,257.9a1.1,1.1 0 1,0 2.2,0a1.1,1.1 0 1,0 -2.2,0M550.7,251.0a1.1,1.1 0 1,0 2.2,0a1.1,1.1 0 1,0 -2.2,0M558.0,249.1a1.1,1.1 0 1,0 2.2,0a1.1,1.1 0 1,0 -2.2,0M565.3,243.2a1.1,1.1 0 1,0 2.2,0a1.1,1.1 0 1,0 -2.2,0M572.5,227.9a1.1,1.1 0 1,0 2.2,0a1.1,1.1 0 1,0 -2.2,0M579.8,223.6a1.1,1.1 0 1,0 2.2,0a1.1,1.1 0 1,0 -2.2,0M587.1,215.5a1.1,1.1 0 1,0 2.2,0a1.1,1.1 0 1,0 -2.2,0M594.4,207.2a1.1,1.1 0 1,0 2.2,0a1.1,1.1 0 1,0 -2.2,0M601.6,201.5a1.1,1.1 0 1,0 2.2,0a1.1,1.1 0 1,0 -2.2,0M608.9,197.3a1.1,1.1 0 1,0 2.2,0a1.1,1.1 0 1,0 -2.2,0M616.2,190.8a1.1,1.1 0 1,0 2.2,0a1.1,1.1 0 1,0 -2.2,0M623.4,188.0a1.1,1.1 0 1,0 2.2,0a1.1,1.1 0 1,0 -2.2,0M630.7,183.6a1.1,1.1 0 1,0 2.2,0a1.1,1.1 0 1,0 -2.2,0M638.0,182.0a1.1,1.1 0 1,0 2.2,0a1.1,1.1 0 1,0 -2.2,0M645.2,177.3a1.1,1.1 0 1,0 2.2,0a1.1,1.1 0 1,0 -2.2,0M652.5,176.2a1.1,1.1 0 1,0 2.2,0a1.1,1.1 0 1,0 -2.2,0M659.8,173.2a1.1,1.1 0 1,0 2.2,0a1.1,1.1 0 1,0 -2.2,0M521.7,244.7a1.1,1.1 0 1,0 2.2,0a1.1,1.1 0 1,0 -2.2,0M528.9,254.7a1.1,1.1 0 1,0 2.2,0a1.1,1.1 0 1,0 -2.2,0M536.2,256.8a1.1,1.1 0 1,0 2.2,0a1.1,1.1 0 1,0 -2.2,0M543.5,257.6a1.1,1.1 0 1,0 2.2,0a1.1,1.1 0 1,0 -2.2,0M550.7,254.9a1.1,1.1 0 1,0 2.2,0a1.1,1.1 0 1,0 -2.2,0M558.0,249.6a1.1,1.1 0 1,0 2.2,0a1.1,1.1 0 1,0 -2.2,0M565.3,240.7a1.1,1.1 0 1,0 2.2,0a1.1,1.1 0 1,0 -2.2,0M572.5,230.1a1.1,1.1 0 1,0 2.2,0a1.1,1.1 0 1,0 -2.2,0M579.8,224.2a1.1,1.1 0 1,0 2.2,0a1.1,1.1 0 1,0 -2.2,0M587.1,214.3a1.1,1.1 0 1,0 2.2,0a1.1,1.1 0 1,0 -2.2,0M594.4,208.9a1.1,1.1 0 1,0 2.2,0a1.1,1.1 0 1,0 -2.2,0M601.6,203.0a1.1,1.1 0 1,0 2.2,0a1.1,1.1 0 1,0 -2.2,0M608.9,195.9a1.1,1.1 0 1,0 2.2,0a1.1,1.1 0 1,0 -2.2,0M616.2,192.1a1.1,1.1 0 1,0 2.2,0a1.1,1.1 0 1,0 -2.2,0M623.4,188.5a1.1,1.1 0 1,0 2.2,0a1.1,1.1 0 1,0 -2.2,0M630.7,184.1a1.1,1.1 0 1,0 2.2,0a1.1,1.1 0 1,0 -2.2,0M638.0,180.7a1.1,1.1 0 1,0 2.2,0a1.1,1.1 0 1,0 -2.2,0M645.2,179.6a1.1,1.1 0 1,0 2.2,0a1.1,1.1 0 1,0 -2.2,0M652.5,175.4a1.1,1.1 0 1,0 2.2,0a1.1,1.1 0 1,0 -2.2,0M659.8,175.7a1.1,1.1 0 1,0 2.2,0a1.1,1.1 0 1,0 -2.2,0M521.7,249.5a1.1,1.1 0 1,0 2.2,0a1.1,1.1 0 1,0 -2.2,0M528.9,253.9a1.1,1.1 0 1,0 2.2,0a1.1,1.1 0 1,0 -2.2,0M536.2,263.3a1.1,1.1 0 1,0 2.2,0a1.1,1.1 0 1,0 -2.2,0M543.5,256.2a1.1,1.1 0 1,0 2.2,0a1.1,1.1 0 1,0 -2.2,0M550.7,256.7a1.1,1.1 0 1,0 2.2,0a1.1,1.1 0 1,0 -2.2,0M558.0,249.1a1.1,1.1 0 1,0 2.2,0a1.1,1.1 0 1,0 -2.2,0M565.3,243.1a1.1,1.1 0 1,0 2.2,0a1.1,1.1 0 1,0 -2.2,0M572.5,234.7a1.1,1.1 0 1,0 2.2,0a1.1,1.1 0 1,0 -2.2,0M579.8,223.7a1.1,1.1 0 1,0 2.2,0a1.1,1.1 0 1,0 -2.2,0M587.1,213.6a1.1,1.1 0 1,0 2.2,0a1.1,1.1 0 1,0 -2.2,0M594.4,209.2a1.1,1.1 0 1,0 2.2,0a1.1,1.1 0 1,0 -2.2,0M601.6,201.8a1.1,1.1 0 1,0 2.2,0a1.1,1.1 0 1,0 -2.2,0M608.9,195.6a1.1,1.1 0 1,0 2.2,0a1.1,1.1 0 1,0 -2.2,0M616.2,190.9a1.1,1.1 0 1,0 2.2,0a1.1,1.1 0 1,0 -2.2,0M623.4,188.5a1.1,1.1 0 1,0 2.2,0a1.1,1.1 0 1,0 -2.2,0M630.7,184.5a1.1,1.1 0 1,0 2.2,0a1.1,1.1 0 1,0 -2.2,0M638.0,181.2a1.1,1.1 0 1,0 2.2,0a1.1,1.1 0 1,0 -2.2,0M645.2,177.7a1.1,1.1 0 1,0 2.2,0a1.1,1.1 0 1,0 -2.2,0M652.5,177.7a1.1,1.1 0 1,0 2.2,0a1.1,1.1 0 1,0 -2.2,0M659.8,173.8a1.1,1.1 0 1,0 2.2,0a1.1,1.1 0 1,0 -2.2,0M521.7,245.4a1.1,1.1 0 1,0 2.2,0a1.1,1.1 0 1,0 -2.2,0M528.9,250.1a1.1,1.1 0 1,0 2.2,0a1.1,1.1 0 1,0 -2.2,0M536.2,259.4a1.1,1.1 0 1,0 2.2,0a1.1,1.1 0 1,0 -2.2,0M543.5,251.2a1.1,1.1 0 1,0 2.2,0a1.1,1.1 0 1,0 -2.2,0M550.7,255.3a1.1,1.1 0 1,0 2.2,0a1.1,1.1 0 1,0 -2.2,0M558.0,247.4a1.1,1.1 0 1,0 2.2,0a1.1,1.1 0 1,0 -2.2,0M565.3,238.2a1.1,1.1 0 1,0 2.2,0a1.1,1.1 0 1,0 -2.2,0M572.5,227.5a1.1,1.1 0 1,0 2.2,0a1.1,1.1 0 1,0 -2.2,0M579.8,223.3a1.1,1.1 0 1,0 2.2,0a1.1,1.1 0 1,0 -2.2,0M587.1,213.7a1.1,1.1 0 1,0 2.2,0a1.1,1.1 0 1,0 -2.2,0M594.4,208.3a1.1,1.1 0 1,0 2.2,0a1.1,1.1 0 1,0 -2.2,0M601.6,203.0a1.1,1.1 0 1,0 2.2,0a1.1,1.1 0 1,0 -2.2,0M608.9,197.2a1.1,1.1 0 1,0 2.2,0a1.1,1.1 0 1,0 -2.2,0M616.2,192.9a1.1,1.1 0 1,0 2.2,0a1.1,1.1 0 1,0 -2.2,0M623.4,189.1a1.1,1.1 0 1,0 2.2,0a1.1,1.1 0 1,0 -2.2,0M630.7,185.0a1.1,1.1 0 1,0 2.2,0a1.1,1.1 0 1,0 -2.2,0M638.0,180.7a1.1,1.1 0 1,0 2.2,0a1.1,1.1 0 1,0 -2.2,0M645.2,177.1a1.1,1.1 0 1,0 2.2,0a1.1,1.1 0 1,0 -2.2,0M652.5,177.5a1.1,1.1 0 1,0 2.2,0a1.1,1.1 0 1,0 -2.2,0M659.8,175.6a1.1,1.1 0 1,0 2.2,0a1.1,1.1 0 1,0 -2.2,0M521.7,243.9a1.1,1.1 0 1,0 2.2,0a1.1,1.1 0 1,0 -2.2,0M528.9,252.8a1.1,1.1 0 1,0 2.2,0a1.1,1.1 0 1,0 -2.2,0M536.2,256.4a1.1,1.1 0 1,0 2.2,0a1.1,1.1 0 1,0 -2.2,0M543.5,257.1a1.1,1.1 0 1,0 2.2,0a1.1,1.1 0 1,0 -2.2,0M550.7,251.2a1.1,1.1 0 1,0 2.2,0a1.1,1.1 0 1,0 -2.2,0M558.0,243.4a1.1,1.1 0 1,0 2.2,0a1.1,1.1 0 1,0 -2.2,0M565.3,239.4a1.1,1.1 0 1,0 2.2,0a1.1,1.1 0 1,0 -2.2,0M572.5,231.6a1.1,1.1 0 1,0 2.2,0a1.1,1.1 0 1,0 -2.2,0M579.8,224.0a1.1,1.1 0 1,0 2.2,0a1.1,1.1 0 1,0 -2.2,0M587.1,213.7a1.1,1.1 0 1,0 2.2,0a1.1,1.1 0 1,0 -2.2,0M594.4,209.7a1.1,1.1 0 1,0 2.2,0a1.1,1.1 0 1,0 -2.2,0M601.6,202.5a1.1,1.1 0 1,0 2.2,0a1.1,1.1 0 1,0 -2.2,0M608.9,195.9a1.1,1.1 0 1,0 2.2,0a1.1,1.1 0 1,0 -2.2,0M616.2,193.0a1.1,1.1 0 1,0 2.2,0a1.1,1.1 0 1,0 -2.2,0M623.4,187.5a1.1,1.1 0 1,0 2.2,0a1.1,1.1 0 1,0 -2.2,0M630.7,182.9a1.1,1.1 0 1,0 2.2,0a1.1,1.1 0 1,0 -2.2,0M638.0,180.9a1.1,1.1 0 1,0 2.2,0a1.1,1.1 0 1,0 -2.2,0M645.2,177.7a1.1,1.1 0 1,0 2.2,0a1.1,1.1 0 1,0 -2.2,0M652.5,177.7a1.1,1.1 0 1,0 2.2,0a1.1,1.1 0 1,0 -2.2,0M659.8,174.6a1.1,1.1 0 1,0 2.2,0a1.1,1.1 0 1,0 -2.2,0M521.7,254.5a1.1,1.1 0 1,0 2.2,0a1.1,1.1 0 1,0 -2.2,0M528.9,253.9a1.1,1.1 0 1,0 2.2,0a1.1,1.1 0 1,0 -2.2,0M536.2,261.0a1.1,1.1 0 1,0 2.2,0a1.1,1.1 0 1,0 -2.2,0M543.5,259.0a1.1,1.1 0 1,0 2.2,0a1.1,1.1 0 1,0 -2.2,0M550.7,251.5a1.1,1.1 0 1,0 2.2,0a1.1,1.1 0 1,0 -2.2,0M558.0,246.8a1.1,1.1 0 1,0 2.2,0a1.1,1.1 0 1,0 -2.2,0M565.3,235.1a1.1,1.1 0 1,0 2.2,0a1.1,1.1 0 1,0 -2.2,0M572.5,231.4a1.1,1.1 0 1,0 2.2,0a1.1,1.1 0 1,0 -2.2,0M579.8,222.9a1.1,1.1 0 1,0 2.2,0a1.1,1.1 0 1,0 -2.2,0M587.1,214.2a1.1,1.1 0 1,0 2.2,0a1.1,1.1 0 1,0 -2.2,0M594.4,208.5a1.1,1.1 0 1,0 2.2,0a1.1,1.1 0 1,0 -2.2,0M601.6,203.0a1.1,1.1 0 1,0 2.2,0a1.1,1.1 0 1,0 -2.2,0M608.9,197.0a1.1,1.1 0 1,0 2.2,0a1.1,1.1 0 1,0 -2.2,0M616.2,192.9a1.1,1.1 0 1,0 2.2,0a1.1,1.1 0 1,0 -2.2,0M623.4,188.4a1.1,1.1 0 1,0 2.2,0a1.1,1.1 0 1,0 -2.2,0M630.7,182.8a1.1,1.1 0 1,0 2.2,0a1.1,1.1 0 1,0 -2.2,0M638.0,180.0a1.1,1.1 0 1,0 2.2,0a1.1,1.1 0 1,0 -2.2,0M645.2,178.1a1.1,1.1 0 1,0 2.2,0a1.1,1.1 0 1,0 -2.2,0M652.5,176.7a1.1,1.1 0 1,0 2.2,0a1.1,1.1 0 1,0 -2.2,0M659.8,174.9a1.1,1.1 0 1,0 2.2,0a1.1,1.1 0 1,0 -2.2,0M521.7,251.3a1.1,1.1 0 1,0 2.2,0a1.1,1.1 0 1,0 -2.2,0M528.9,254.9a1.1,1.1 0 1,0 2.2,0a1.1,1.1 0 1,0 -2.2,0M536.2,253.3a1.1,1.1 0 1,0 2.2,0a1.1,1.1 0 1,0 -2.2,0M543.5,251.9a1.1,1.1 0 1,0 2.2,0a1.1,1.1 0 1,0 -2.2,0M550.7,253.1a1.1,1.1 0 1,0 2.2,0a1.1,1.1 0 1,0 -2.2,0M558.0,243.7a1.1,1.1 0 1,0 2.2,0a1.1,1.1 0 1,0 -2.2,0M565.3,236.8a1.1,1.1 0 1,0 2.2,0a1.1,1.1 0 1,0 -2.2,0M572.5,229.4a1.1,1.1 0 1,0 2.2,0a1.1,1.1 0 1,0 -2.2,0M579.8,222.4a1.1,1.1 0 1,0 2.2,0a1.1,1.1 0 1,0 -2.2,0M587.1,214.1a1.1,1.1 0 1,0 2.2,0a1.1,1.1 0 1,0 -2.2,0M594.4,208.8a1.1,1.1 0 1,0 2.2,0a1.1,1.1 0 1,0 -2.2,0M601.6,202.0a1.1,1.1 0 1,0 2.2,0a1.1,1.1 0 1,0 -2.2,0M608.9,197.3a1.1,1.1 0 1,0 2.2,0a1.1,1.1 0 1,0 -2.2,0M616.2,192.1a1.1,1.1 0 1,0 2.2,0a1.1,1.1 0 1,0 -2.2,0M623.4,187.4a1.1,1.1 0 1,0 2.2,0a1.1,1.1 0 1,0 -2.2,0M630.7,183.6a1.1,1.1 0 1,0 2.2,0a1.1,1.1 0 1,0 -2.2,0M638.0,181.7a1.1,1.1 0 1,0 2.2,0a1.1,1.1 0 1,0 -2.2,0M645.2,177.3a1.1,1.1 0 1,0 2.2,0a1.1,1.1 0 1,0 -2.2,0M652.5,176.3a1.1,1.1 0 1,0 2.2,0a1.1,1.1 0 1,0 -2.2,0M659.8,174.2a1.1,1.1 0 1,0 2.2,0a1.1,1.1 0 1,0 -2.2,0M521.7,251.9a1.1,1.1 0 1,0 2.2,0a1.1,1.1 0 1,0 -2.2,0M528.9,252.7a1.1,1.1 0 1,0 2.2,0a1.1,1.1 0 1,0 -2.2,0M536.2,257.7a1.1,1.1 0 1,0 2.2,0a1.1,1.1 0 1,0 -2.2,0M543.5,253.5a1.1,1.1 0 1,0 2.2,0a1.1,1.1 0 1,0 -2.2,0M550.7,252.2a1.1,1.1 0 1,0 2.2,0a1.1,1.1 0 1,0 -2.2,0M558.0,243.4a1.1,1.1 0 1,0 2.2,0a1.1,1.1 0 1,0 -2.2,0M565.3,237.8a1.1,1.1 0 1,0 2.2,0a1.1,1.1 0 1,0 -2.2,0M572.5,228.5a1.1,1.1 0 1,0 2.2,0a1.1,1.1 0 1,0 -2.2,0M579.8,223.3a1.1,1.1 0 1,0 2.2,0a1.1,1.1 0 1,0 -2.2,0M587.1,214.4a1.1,1.1 0 1,0 2.2,0a1.1,1.1 0 1,0 -2.2,0M594.4,207.8a1.1,1.1 0 1,0 2.2,0a1.1,1.1 0 1,0 -2.2,0M601.6,201.6a1.1,1.1 0 1,0 2.2,0a1.1,1.1 0 1,0 -2.2,0M608.9,197.1a1.1,1.1 0 1,0 2.2,0a1.1,1.1 0 1,0 -2.2,0M616.2,191.2a1.1,1.1 0 1,0 2.2,0a1.1,1.1 0 1,0 -2.2,0M623.4,187.1a1.1,1.1 0 1,0 2.2,0a1.1,1.1 0 1,0 -2.2,0M630.7,183.6a1.1,1.1 0 1,0 2.2,0a1.1,1.1 0 1,0 -2.2,0M638.0,180.0a1.1,1.1 0 1,0 2.2,0a1.1,1.1 0 1,0 -2.2,0M645.2,177.2a1.1,1.1 0 1,0 2.2,0a1.1,1.1 0 1,0 -2.2,0M652.5,176.6a1.1,1.1 0 1,0 2.2,0a1.1,1.1 0 1,0 -2.2,0M659.8,174.4a1.1,1.1 0 1,0 2.2,0a1.1,1.1 0 1,0 -2.2,0M521.7,254.3a1.1,1.1 0 1,0 2.2,0a1.1,1.1 0 1,0 -2.2,0M528.9,254.0a1.1,1.1 0 1,0 2.2,0a1.1,1.1 0 1,0 -2.2,0M536.2,255.7a1.1,1.1 0 1,0 2.2,0a1.1,1.1 0 1,0 -2.2,0M543.5,258.8a1.1,1.1 0 1,0 2.2,0a1.1,1.1 0 1,0 -2.2,0M550.7,254.0a1.1,1.1 0 1,0 2.2,0a1.1,1.1 0 1,0 -2.2,0M558.0,247.9a1.1,1.1 0 1,0 2.2,0a1.1,1.1 0 1,0 -2.2,0M565.3,237.2a1.1,1.1 0 1,0 2.2,0a1.1,1.1 0 1,0 -2.2,0M572.5,233.7a1.1,1.1 0 1,0 2.2,0a1.1,1.1 0 1,0 -2.2,0M579.8,222.1a1.1,1.1 0 1,0 2.2,0a1.1,1.1 0 1,0 -2.2,0M587.1,214.6a1.1,1.1 0 1,0 2.2,0a1.1,1.1 0 1,0 -2.2,0M594.4,208.0a1.1,1.1 0 1,0 2.2,0a1.1,1.1 0 1,0 -2.2,0M601.6,202.7a1.1,1.1 0 1,0 2.2,0a1.1,1.1 0 1,0 -2.2,0M608.9,196.4a1.1,1.1 0 1,0 2.2,0a1.1,1.1 0 1,0 -2.2,0M616.2,191.3a1.1,1.1 0 1,0 2.2,0a1.1,1.1 0 1,0 -2.2,0M623.4,187.7a1.1,1.1 0 1,0 2.2,0a1.1,1.1 0 1,0 -2.2,0M630.7,183.5a1.1,1.1 0 1,0 2.2,0a1.1,1.1 0 1,0 -2.2,0M638.0,182.4a1.1,1.1 0 1,0 2.2,0a1.1,1.1 0 1,0 -2.2,0M645.2,179.3a1.1,1.1 0 1,0 2.2,0a1.1,1.1 0 1,0 -2.2,0M652.5,176.8a1.1,1.1 0 1,0 2.2,0a1.1,1.1 0 1,0 -2.2,0M659.8,174.1a1.1,1.1 0 1,0 2.2,0a1.1,1.1 0 1,0 -2.2,0M521.7,250.2a1.1,1.1 0 1,0 2.2,0a1.1,1.1 0 1,0 -2.2,0M528.9,251.5a1.1,1.1 0 1,0 2.2,0a1.1,1.1 0 1,0 -2.2,0M536.2,254.5a1.1,1.1 0 1,0 2.2,0a1.1,1.1 0 1,0 -2.2,0M543.5,258.7a1.1,1.1 0 1,0 2.2,0a1.1,1.1 0 1,0 -2.2,0M550.7,252.2a1.1,1.1 0 1,0 2.2,0a1.1,1.1 0 1,0 -2.2,0M558.0,248.3a1.1,1.1 0 1,0 2.2,0a1.1,1.1 0 1,0 -2.2,0M565.3,242.7a1.1,1.1 0 1,0 2.2,0a1.1,1.1 0 1,0 -2.2,0M572.5,234.0a1.1,1.1 0 1,0 2.2,0a1.1,1.1 0 1,0 -2.2,0M579.8,223.3a1.1,1.1 0 1,0 2.2,0a1.1,1.1 0 1,0 -2.2,0M587.1,215.6a1.1,1.1 0 1,0 2.2,0a1.1,1.1 0 1,0 -2.2,0M594.4,209.2a1.1,1.1 0 1,0 2.2,0a1.1,1.1 0 1,0 -2.2,0M601.6,203.7a1.1,1.1 0 1,0 2.2,0a1.1,1.1 0 1,0 -2.2,0M608.9,196.8a1.1,1.1 0 1,0 2.2,0a1.1,1.1 0 1,0 -2.2,0M616.2,192.3a1.1,1.1 0 1,0 2.2,0a1.1,1.1 0 1,0 -2.2,0M623.4,187.8a1.1,1.1 0 1,0 2.2,0a1.1,1.1 0 1,0 -2.2,0M630.7,183.9a1.1,1.1 0 1,0 2.2,0a1.1,1.1 0 1,0 -2.2,0M638.0,181.9a1.1,1.1 0 1,0 2.2,0a1.1,1.1 0 1,0 -2.2,0M645.2,177.4a1.1,1.1 0 1,0 2.2,0a1.1,1.1 0 1,0 -2.2,0M652.5,177.9a1.1,1.1 0 1,0 2.2,0a1.1,1.1 0 1,0 -2.2,0M659.8,174.7a1.1,1.1 0 1,0 2.2,0a1.1,1.1 0 1,0 -2.2,0M521.7,249.7a1.1,1.1 0 1,0 2.2,0a1.1,1.1 0 1,0 -2.2,0M528.9,253.8a1.1,1.1 0 1,0 2.2,0a1.1,1.1 0 1,0 -2.2,0M536.2,258.8a1.1,1.1 0 1,0 2.2,0a1.1,1.1 0 1,0 -2.2,0M543.5,252.2a1.1,1.1 0 1,0 2.2,0a1.1,1.1 0 1,0 -2.2,0M550.7,253.0a1.1,1.1 0 1,0 2.2,0a1.1,1.1 0 1,0 -2.2,0M558.0,249.9a1.1,1.1 0 1,0 2.2,0a1.1,1.1 0 1,0 -2.2,0M565.3,238.1a1.1,1.1 0 1,0 2.2,0a1.1,1.1 0 1,0 -2.2,0M572.5,234.3a1.1,1.1 0 1,0 2.2,0a1.1,1.1 0 1,0 -2.2,0M579.8,222.8a1.1,1.1 0 1,0 2.2,0a1.1,1.1 0 1,0 -2.2,0M587.1,215.2a1.1,1.1 0 1,0 2.2,0a1.1,1.1 0 1,0 -2.2,0M594.4,208.2a1.1,1.1 0 1,0 2.2,0a1.1,1.1 0 1,0 -2.2,0M601.6,201.3a1.1,1.1 0 1,0 2.2,0a1.1,1.1 0 1,0 -2.2,0M608.9,195.9a1.1,1.1 0 1,0 2.2,0a1.1,1.1 0 1,0 -2.2,0M616.2,192.2a1.1,1.1 0 1,0 2.2,0a1.1,1.1 0 1,0 -2.2,0M623.4,187.3a1.1,1.1 0 1,0 2.2,0a1.1,1.1 0 1,0 -2.2,0M630.7,183.7a1.1,1.1 0 1,0 2.2,0a1.1,1.1 0 1,0 -2.2,0M638.0,181.6a1.1,1.1 0 1,0 2.2,0a1.1,1.1 0 1,0 -2.2,0M645.2,179.3a1.1,1.1 0 1,0 2.2,0a1.1,1.1 0 1,0 -2.2,0M652.5,176.4a1.1,1.1 0 1,0 2.2,0a1.1,1.1 0 1,0 -2.2,0M659.8,174.3a1.1,1.1 0 1,0 2.2,0a1.1,1.1 0 1,0 -2.2,0" fill="none" stroke="#d0d0d0" stroke-width="0.5"/>
<polyline points="522.77,247.90 530.04,253.05 537.30,255.62 544.57,254.89 551.84,251.94 559.11,246.06 566.38,239.06 573.65,230.97 580.91,222.87 588.18,214.78 595.45,208.45 602.72,202.48 609.99,196.74 617.26,192.03 624.52,188.06 631.79,184.08 639.06,181.21 646.33,178.42 653.60,176.65 660.87,174.44" fill="none" stroke="#a88f4a" stroke-width="1.0"/>
<path d="M520.47,247.90a2.3,2.3 0 1,0 4.6,0a2.3,2.3 0 1,0 -4.6,0M527.74,253.05a2.3,2.3 0 1,0 4.6,0a2.3,2.3 0 1,0 -4.6,0M535.00,255.62a2.3,2.3 0 1,0 4.6,0a2.3,2.3 0 1,0 -4.6,0M542.27,254.89a2.3,2.3 0 1,0 4.6,0a2.3,2.3 0 1,0 -4.6,0M549.54,251.94a2.3,2.3 0 1,0 4.6,0a2.3,2.3 0 1,0 -4.6,0M556.81,246.06a2.3,2.3 0 1,0 4.6,0a2.3,2.3 0 1,0 -4.6,0M564.08,239.06a2.3,2.3 0 1,0 4.6,0a2.3,2.3 0 1,0 -4.6,0M571.35,230.97a2.3,2.3 0 1,0 4.6,0a2.3,2.3 0 1,0 -4.6,0M578.61,222.87a2.3,2.3 0 1,0 4.6,0a2.3,2.3 0 1,0 -4.6,0M585.88,214.78a2.3,2.3 0 1,0 4.6,0a2.3,2.3 0 1,0 -4.6,0M593.15,208.45a2.3,2.3 0 1,0 4.6,0a2.3,2.3 0 1,0 -4.6,0M600.42,202.48a2.3,2.3 0 1,0 4.6,0a2.3,2.3 0 1,0 -4.6,0M607.69,196.74a2.3,2.3 0 1,0 4.6,0a2.3,2.3 0 1,0 -4.6,0M614.96,192.03a2.3,2.3 0 1,0 4.6,0a2.3,2.3 0 1,0 -4.6,0M622.22,188.06a2.3,2.3 0 1,0 4.6,0a2.3,2.3 0 1,0 -4.6,0M629.49,184.08a2.3,2.3 0 1,0 4.6,0a2.3,2.3 0 1,0 -4.6,0M636.76,181.21a2.3,2.3 0 1,0 4.6,0a2.3,2.3 0 1,0 -4.6,0M644.03,178.42a2.3,2.3 0 1,0 4.6,0a2.3,2.3 0 1,0 -4.6,0M651.30,176.65a2.3,2.3 0 1,0 4.6,0a2.3,2.3 0 1,0 -4.6,0M658.57,174.44a2.3,2.3 0 1,0 4.6,0a2.3,2.3 0 1,0 -4.6,0" fill="#edb120"/>
<line x1="544.57" y1="256.14" x2="631.79" y2="179.30" stroke="#0072bd" stroke-width="2.1"/>
</g>
<text transform="translate(518.70,179.80) scale(0.95,1)" font-size="10.2" text-anchor="start" fill="#000" >Model (ii)</text>
<text x="589.70" y="163.90" font-size="7.0" text-anchor="middle" fill="#000" >-0.57+0.00087t</text>
<rect x="515.5" y="166.2" width="149.00" height="110.40" fill="none" stroke="#262626" stroke-width="0.8"/>
<line x1="515.50" y1="276.6" x2="515.50" y2="275.1" stroke="#262626" stroke-width="0.8"/>
<line x1="515.50" y1="166.2" x2="515.50" y2="167.7" stroke="#262626" stroke-width="0.8"/>
<text x="515.50" y="290.00" font-size="8.4" text-anchor="middle" fill="#262626" >0</text>
<line x1="588.18" y1="276.6" x2="588.18" y2="275.1" stroke="#262626" stroke-width="0.8"/>
<line x1="588.18" y1="166.2" x2="588.18" y2="167.7" stroke="#262626" stroke-width="0.8"/>
<text x="588.18" y="290.00" font-size="8.4" text-anchor="middle" fill="#262626" >10<tspan font-size="6.4" dy="-4.0">3</tspan></text>
<line x1="660.87" y1="276.6" x2="660.87" y2="275.1" stroke="#262626" stroke-width="0.8"/>
<line x1="660.87" y1="166.2" x2="660.87" y2="167.7" stroke="#262626" stroke-width="0.8"/>
<text x="660.87" y="290.00" font-size="8.4" text-anchor="middle" fill="#262626" >2<tspan dx="0.9">×</tspan><tspan dx="0.9">10</tspan><tspan font-size="6.4" dy="-4.0">3</tspan></text>
<line x1="515.5" y1="276.60" x2="517.0" y2="276.60" stroke="#262626" stroke-width="0.8"/>
<line x1="664.5" y1="276.60" x2="663.0" y2="276.60" stroke="#262626" stroke-width="0.8"/>
<text x="512.90" y="280.00" font-size="8.7" text-anchor="end" fill="#262626" >-0.5</text>
<line x1="515.5" y1="239.80" x2="517.0" y2="239.80" stroke="#262626" stroke-width="0.8"/>
<line x1="664.5" y1="239.80" x2="663.0" y2="239.80" stroke="#262626" stroke-width="0.8"/>
<text x="512.90" y="243.20" font-size="8.7" text-anchor="end" fill="#262626" >0</text>
<line x1="515.5" y1="203.00" x2="517.0" y2="203.00" stroke="#262626" stroke-width="0.8"/>
<line x1="664.5" y1="203.00" x2="663.0" y2="203.00" stroke="#262626" stroke-width="0.8"/>
<text x="512.90" y="206.40" font-size="8.7" text-anchor="end" fill="#262626" >0.5</text>
<line x1="515.5" y1="166.20" x2="517.0" y2="166.20" stroke="#262626" stroke-width="0.8"/>
<line x1="664.5" y1="166.20" x2="663.0" y2="166.20" stroke="#262626" stroke-width="0.8"/>
<text x="512.90" y="169.60" font-size="8.7" text-anchor="end" fill="#262626" >1</text>
<text x="0.00" y="0.00" font-size="9.0" text-anchor="middle" fill="#262626" transform="translate(494.00,221.40) rotate(-90)">S(t)</text>
<text x="589.70" y="301.00" font-size="8.7" text-anchor="middle" fill="#262626" >t</text>
<text x="0.00" y="0.00" font-size="9.9" text-anchor="middle" fill="#000" transform="translate(679.40,224.30) rotate(-90)">Alignment along axis</text>
<clipPath id="cl"><rect x="511.9" y="317.0" width="152.40" height="108.90"/></clipPath><g clip-path="url(#cl)">
<path d="M516.9,405.8 L521.9,395.7 L526.9,385.8 L532.0,380.8 L537.0,374.4 L542.0,369.3 L547.0,367.7 L552.0,364.0 L557.0,361.7 L562.0,361.2 L567.0,359.1 L572.1,357.3 L577.1,357.0 L582.1,355.7 L587.1,356.4 L592.1,355.8 L597.1,355.7 L602.1,354.6 L607.1,353.5 L612.2,354.0 L617.2,353.5 L622.2,354.2 L627.2,353.4 L632.2,354.6 L637.2,354.2 L642.2,353.3 L647.3,353.2 L652.3,353.8 L657.3,354.5 L662.3,354.1M516.9,402.7 L521.9,387.5 L526.9,378.2 L532.0,368.6 L537.0,362.5 L542.0,359.6 L547.0,355.4 L552.0,352.5 L557.0,351.4 L562.0,349.0 L567.0,346.8 L572.1,347.6 L577.1,345.9 L582.1,346.4 L587.1,345.1 L592.1,344.1 L597.1,345.3 L602.1,345.6 L607.1,345.3 L612.2,344.2 L617.2,345.2 L622.2,345.0 L627.2,344.1 L632.2,343.2 L637.2,344.2 L642.2,344.3 L647.3,343.7 L652.3,344.9 L657.3,343.8 L662.3,344.7M516.9,403.4 L521.9,393.0 L526.9,381.9 L532.0,373.7 L537.0,368.0 L542.0,362.4 L547.0,356.5 L552.0,353.0 L557.0,351.9 L562.0,348.4 L567.0,346.0 L572.1,345.9 L577.1,343.9 L582.1,344.0 L587.1,342.5 L592.1,341.2 L597.1,340.8 L602.1,340.0 L607.1,341.1 L612.2,340.2 L617.2,338.9 L622.2,339.3 L627.2,339.4 L632.2,339.4 L637.2,338.1 L642.2,338.8 L647.3,339.9 L652.3,338.2 L657.3,339.2 L662.3,338.9M516.9,400.8 L521.9,385.4 L526.9,373.9 L532.0,363.7 L537.0,357.9 L542.0,351.2 L547.0,348.9 L552.0,344.2 L557.0,341.9 L562.0,340.8 L567.0,339.0 L572.1,339.0 L577.1,337.2 L582.1,337.3 L587.1,337.2 L592.1,335.4 L597.1,336.3 L602.1,336.2 L607.1,335.0 L612.2,335.9 L617.2,335.2 L622.2,336.2 L627.2,334.7 L632.2,335.9 L637.2,336.3 L642.2,334.3 L647.3,336.0 L652.3,334.4 L657.3,334.3 L662.3,335.1M516.9,398.6 L521.9,380.1 L526.9,366.6 L532.0,356.6 L537.0,349.1 L542.0,345.5 L547.0,342.4 L552.0,339.0 L557.0,338.1 L562.0,336.9 L567.0,335.0 L572.1,334.0 L577.1,334.8 L582.1,333.7 L587.1,332.9 L592.1,332.6 L597.1,333.3 L602.1,332.1 L607.1,333.5 L612.2,332.4 L617.2,332.2 L622.2,331.9 L627.2,332.7 L632.2,333.5 L637.2,333.6 L642.2,332.6 L647.3,333.4 L652.3,332.4 L657.3,333.6 L662.3,332.1M516.9,400.9 L521.9,383.9 L526.9,370.6 L532.0,360.7 L537.0,353.7 L542.0,348.6 L547.0,343.7 L552.0,339.5 L557.0,337.9 L562.0,335.1 L567.0,335.6 L572.1,332.5 L577.1,331.9 L582.1,332.0 L587.1,331.5 L592.1,331.1 L597.1,330.1 L602.1,331.6 L607.1,330.3 L612.2,330.3 L617.2,330.8 L622.2,329.8 L627.2,329.8 L632.2,331.0 L637.2,329.7 L642.2,330.2 L647.3,330.1 L652.3,329.8 L657.3,331.0 L662.3,329.9M516.9,400.3 L521.9,386.0 L526.9,372.4 L532.0,362.9 L537.0,355.6 L542.0,349.1 L547.0,346.2 L552.0,341.4 L557.0,338.5 L562.0,336.1 L567.0,334.9 L572.1,334.2 L577.1,332.9 L582.1,331.1 L587.1,331.4 L592.1,331.1 L597.1,330.1 L602.1,329.5 L607.1,329.1 L612.2,330.0 L617.2,328.3 L622.2,329.1 L627.2,328.0 L632.2,329.6 L637.2,327.5 L642.2,328.2 L647.3,327.4 L652.3,327.3 L657.3,327.6 L662.3,329.1M516.9,401.1 L521.9,383.8 L526.9,372.3 L532.0,362.4 L537.0,354.9 L542.0,348.8 L547.0,342.4 L552.0,338.7 L557.0,337.0 L562.0,334.0 L567.0,332.8 L572.1,331.4 L577.1,330.6 L582.1,329.2 L587.1,329.4 L592.1,328.9 L597.1,327.9 L602.1,328.3 L607.1,327.5 L612.2,326.3 L617.2,328.1 L622.2,327.8 L627.2,326.2 L632.2,327.7 L637.2,327.2 L642.2,325.9 L647.3,326.4 L652.3,327.2 L657.3,327.5 L662.3,327.1" fill="none" stroke="#dcdcdc" stroke-width="0.6" stroke-dasharray="2.2,1.6"/>
<path d="M515.8,405.8a1.1,1.1 0 1,0 2.2,0a1.1,1.1 0 1,0 -2.2,0M520.8,395.7a1.1,1.1 0 1,0 2.2,0a1.1,1.1 0 1,0 -2.2,0M525.8,385.8a1.1,1.1 0 1,0 2.2,0a1.1,1.1 0 1,0 -2.2,0M530.9,380.8a1.1,1.1 0 1,0 2.2,0a1.1,1.1 0 1,0 -2.2,0M535.9,374.4a1.1,1.1 0 1,0 2.2,0a1.1,1.1 0 1,0 -2.2,0M540.9,369.3a1.1,1.1 0 1,0 2.2,0a1.1,1.1 0 1,0 -2.2,0M545.9,367.7a1.1,1.1 0 1,0 2.2,0a1.1,1.1 0 1,0 -2.2,0M550.9,364.0a1.1,1.1 0 1,0 2.2,0a1.1,1.1 0 1,0 -2.2,0M555.9,361.7a1.1,1.1 0 1,0 2.2,0a1.1,1.1 0 1,0 -2.2,0M560.9,361.2a1.1,1.1 0 1,0 2.2,0a1.1,1.1 0 1,0 -2.2,0M565.9,359.1a1.1,1.1 0 1,0 2.2,0a1.1,1.1 0 1,0 -2.2,0M571.0,357.3a1.1,1.1 0 1,0 2.2,0a1.1,1.1 0 1,0 -2.2,0M576.0,357.0a1.1,1.1 0 1,0 2.2,0a1.1,1.1 0 1,0 -2.2,0M581.0,355.7a1.1,1.1 0 1,0 2.2,0a1.1,1.1 0 1,0 -2.2,0M586.0,356.4a1.1,1.1 0 1,0 2.2,0a1.1,1.1 0 1,0 -2.2,0M591.0,355.8a1.1,1.1 0 1,0 2.2,0a1.1,1.1 0 1,0 -2.2,0M596.0,355.7a1.1,1.1 0 1,0 2.2,0a1.1,1.1 0 1,0 -2.2,0M601.0,354.6a1.1,1.1 0 1,0 2.2,0a1.1,1.1 0 1,0 -2.2,0M606.0,353.5a1.1,1.1 0 1,0 2.2,0a1.1,1.1 0 1,0 -2.2,0M611.1,354.0a1.1,1.1 0 1,0 2.2,0a1.1,1.1 0 1,0 -2.2,0M616.1,353.5a1.1,1.1 0 1,0 2.2,0a1.1,1.1 0 1,0 -2.2,0M621.1,354.2a1.1,1.1 0 1,0 2.2,0a1.1,1.1 0 1,0 -2.2,0M626.1,353.4a1.1,1.1 0 1,0 2.2,0a1.1,1.1 0 1,0 -2.2,0M631.1,354.6a1.1,1.1 0 1,0 2.2,0a1.1,1.1 0 1,0 -2.2,0M636.1,354.2a1.1,1.1 0 1,0 2.2,0a1.1,1.1 0 1,0 -2.2,0M641.1,353.3a1.1,1.1 0 1,0 2.2,0a1.1,1.1 0 1,0 -2.2,0M646.2,353.2a1.1,1.1 0 1,0 2.2,0a1.1,1.1 0 1,0 -2.2,0M651.2,353.8a1.1,1.1 0 1,0 2.2,0a1.1,1.1 0 1,0 -2.2,0M656.2,354.5a1.1,1.1 0 1,0 2.2,0a1.1,1.1 0 1,0 -2.2,0M661.2,354.1a1.1,1.1 0 1,0 2.2,0a1.1,1.1 0 1,0 -2.2,0M515.8,402.7a1.1,1.1 0 1,0 2.2,0a1.1,1.1 0 1,0 -2.2,0M520.8,387.5a1.1,1.1 0 1,0 2.2,0a1.1,1.1 0 1,0 -2.2,0M525.8,378.2a1.1,1.1 0 1,0 2.2,0a1.1,1.1 0 1,0 -2.2,0M530.9,368.6a1.1,1.1 0 1,0 2.2,0a1.1,1.1 0 1,0 -2.2,0M535.9,362.5a1.1,1.1 0 1,0 2.2,0a1.1,1.1 0 1,0 -2.2,0M540.9,359.6a1.1,1.1 0 1,0 2.2,0a1.1,1.1 0 1,0 -2.2,0M545.9,355.4a1.1,1.1 0 1,0 2.2,0a1.1,1.1 0 1,0 -2.2,0M550.9,352.5a1.1,1.1 0 1,0 2.2,0a1.1,1.1 0 1,0 -2.2,0M555.9,351.4a1.1,1.1 0 1,0 2.2,0a1.1,1.1 0 1,0 -2.2,0M560.9,349.0a1.1,1.1 0 1,0 2.2,0a1.1,1.1 0 1,0 -2.2,0M565.9,346.8a1.1,1.1 0 1,0 2.2,0a1.1,1.1 0 1,0 -2.2,0M571.0,347.6a1.1,1.1 0 1,0 2.2,0a1.1,1.1 0 1,0 -2.2,0M576.0,345.9a1.1,1.1 0 1,0 2.2,0a1.1,1.1 0 1,0 -2.2,0M581.0,346.4a1.1,1.1 0 1,0 2.2,0a1.1,1.1 0 1,0 -2.2,0M586.0,345.1a1.1,1.1 0 1,0 2.2,0a1.1,1.1 0 1,0 -2.2,0M591.0,344.1a1.1,1.1 0 1,0 2.2,0a1.1,1.1 0 1,0 -2.2,0M596.0,345.3a1.1,1.1 0 1,0 2.2,0a1.1,1.1 0 1,0 -2.2,0M601.0,345.6a1.1,1.1 0 1,0 2.2,0a1.1,1.1 0 1,0 -2.2,0M606.0,345.3a1.1,1.1 0 1,0 2.2,0a1.1,1.1 0 1,0 -2.2,0M611.1,344.2a1.1,1.1 0 1,0 2.2,0a1.1,1.1 0 1,0 -2.2,0M616.1,345.2a1.1,1.1 0 1,0 2.2,0a1.1,1.1 0 1,0 -2.2,0M621.1,345.0a1.1,1.1 0 1,0 2.2,0a1.1,1.1 0 1,0 -2.2,0M626.1,344.1a1.1,1.1 0 1,0 2.2,0a1.1,1.1 0 1,0 -2.2,0M631.1,343.2a1.1,1.1 0 1,0 2.2,0a1.1,1.1 0 1,0 -2.2,0M636.1,344.2a1.1,1.1 0 1,0 2.2,0a1.1,1.1 0 1,0 -2.2,0M641.1,344.3a1.1,1.1 0 1,0 2.2,0a1.1,1.1 0 1,0 -2.2,0M646.2,343.7a1.1,1.1 0 1,0 2.2,0a1.1,1.1 0 1,0 -2.2,0M651.2,344.9a1.1,1.1 0 1,0 2.2,0a1.1,1.1 0 1,0 -2.2,0M656.2,343.8a1.1,1.1 0 1,0 2.2,0a1.1,1.1 0 1,0 -2.2,0M661.2,344.7a1.1,1.1 0 1,0 2.2,0a1.1,1.1 0 1,0 -2.2,0M515.8,403.4a1.1,1.1 0 1,0 2.2,0a1.1,1.1 0 1,0 -2.2,0M520.8,393.0a1.1,1.1 0 1,0 2.2,0a1.1,1.1 0 1,0 -2.2,0M525.8,381.9a1.1,1.1 0 1,0 2.2,0a1.1,1.1 0 1,0 -2.2,0M530.9,373.7a1.1,1.1 0 1,0 2.2,0a1.1,1.1 0 1,0 -2.2,0M535.9,368.0a1.1,1.1 0 1,0 2.2,0a1.1,1.1 0 1,0 -2.2,0M540.9,362.4a1.1,1.1 0 1,0 2.2,0a1.1,1.1 0 1,0 -2.2,0M545.9,356.5a1.1,1.1 0 1,0 2.2,0a1.1,1.1 0 1,0 -2.2,0M550.9,353.0a1.1,1.1 0 1,0 2.2,0a1.1,1.1 0 1,0 -2.2,0M555.9,351.9a1.1,1.1 0 1,0 2.2,0a1.1,1.1 0 1,0 -2.2,0M560.9,348.4a1.1,1.1 0 1,0 2.2,0a1.1,1.1 0 1,0 -2.2,0M565.9,346.0a1.1,1.1 0 1,0 2.2,0a1.1,1.1 0 1,0 -2.2,0M571.0,345.9a1.1,1.1 0 1,0 2.2,0a1.1,1.1 0 1,0 -2.2,0M576.0,343.9a1.1,1.1 0 1,0 2.2,0a1.1,1.1 0 1,0 -2.2,0M581.0,344.0a1.1,1.1 0 1,0 2.2,0a1.1,1.1 0 1,0 -2.2,0M586.0,342.5a1.1,1.1 0 1,0 2.2,0a1.1,1.1 0 1,0 -2.2,0M591.0,341.2a1.1,1.1 0 1,0 2.2,0a1.1,1.1 0 1,0 -2.2,0M596.0,340.8a1.1,1.1 0 1,0 2.2,0a1.1,1.1 0 1,0 -2.2,0M601.0,340.0a1.1,1.1 0 1,0 2.2,0a1.1,1.1 0 1,0 -2.2,0M606.0,341.1a1.1,1.1 0 1,0 2.2,0a1.1,1.1 0 1,0 -2.2,0M611.1,340.2a1.1,1.1 0 1,0 2.2,0a1.1,1.1 0 1,0 -2.2,0M616.1,338.9a1.1,1.1 0 1,0 2.2,0a1.1,1.1 0 1,0 -2.2,0M621.1,339.3a1.1,1.1 0 1,0 2.2,0a1.1,1.1 0 1,0 -2.2,0M626.1,339.4a1.1,1.1 0 1,0 2.2,0a1.1,1.1 0 1,0 -2.2,0M631.1,339.4a1.1,1.1 0 1,0 2.2,0a1.1,1.1 0 1,0 -2.2,0M636.1,338.1a1.1,1.1 0 1,0 2.2,0a1.1,1.1 0 1,0 -2.2,0M641.1,338.8a1.1,1.1 0 1,0 2.2,0a1.1,1.1 0 1,0 -2.2,0M646.2,339.9a1.1,1.1 0 1,0 2.2,0a1.1,1.1 0 1,0 -2.2,0M651.2,338.2a1.1,1.1 0 1,0 2.2,0a1.1,1.1 0 1,0 -2.2,0M656.2,339.2a1.1,1.1 0 1,0 2.2,0a1.1,1.1 0 1,0 -2.2,0M661.2,338.9a1.1,1.1 0 1,0 2.2,0a1.1,1.1 0 1,0 -2.2,0M515.8,400.8a1.1,1.1 0 1,0 2.2,0a1.1,1.1 0 1,0 -2.2,0M520.8,385.4a1.1,1.1 0 1,0 2.2,0a1.1,1.1 0 1,0 -2.2,0M525.8,373.9a1.1,1.1 0 1,0 2.2,0a1.1,1.1 0 1,0 -2.2,0M530.9,363.7a1.1,1.1 0 1,0 2.2,0a1.1,1.1 0 1,0 -2.2,0M535.9,357.9a1.1,1.1 0 1,0 2.2,0a1.1,1.1 0 1,0 -2.2,0M540.9,351.2a1.1,1.1 0 1,0 2.2,0a1.1,1.1 0 1,0 -2.2,0M545.9,348.9a1.1,1.1 0 1,0 2.2,0a1.1,1.1 0 1,0 -2.2,0M550.9,344.2a1.1,1.1 0 1,0 2.2,0a1.1,1.1 0 1,0 -2.2,0M555.9,341.9a1.1,1.1 0 1,0 2.2,0a1.1,1.1 0 1,0 -2.2,0M560.9,340.8a1.1,1.1 0 1,0 2.2,0a1.1,1.1 0 1,0 -2.2,0M565.9,339.0a1.1,1.1 0 1,0 2.2,0a1.1,1.1 0 1,0 -2.2,0M571.0,339.0a1.1,1.1 0 1,0 2.2,0a1.1,1.1 0 1,0 -2.2,0M576.0,337.2a1.1,1.1 0 1,0 2.2,0a1.1,1.1 0 1,0 -2.2,0M581.0,337.3a1.1,1.1 0 1,0 2.2,0a1.1,1.1 0 1,0 -2.2,0M586.0,337.2a1.1,1.1 0 1,0 2.2,0a1.1,1.1 0 1,0 -2.2,0M591.0,335.4a1.1,1.1 0 1,0 2.2,0a1.1,1.1 0 1,0 -2.2,0M596.0,336.3a1.1,1.1 0 1,0 2.2,0a1.1,1.1 0 1,0 -2.2,0M601.0,336.2a1.1,1.1 0 1,0 2.2,0a1.1,1.1 0 1,0 -2.2,0M606.0,335.0a1.1,1.1 0 1,0 2.2,0a1.1,1.1 0 1,0 -2.2,0M611.1,335.9a1.1,1.1 0 1,0 2.2,0a1.1,1.1 0 1,0 -2.2,0M616.1,335.2a1.1,1.1 0 1,0 2.2,0a1.1,1.1 0 1,0 -2.2,0M621.1,336.2a1.1,1.1 0 1,0 2.2,0a1.1,1.1 0 1,0 -2.2,0M626.1,334.7a1.1,1.1 0 1,0 2.2,0a1.1,1.1 0 1,0 -2.2,0M631.1,335.9a1.1,1.1 0 1,0 2.2,0a1.1,1.1 0 1,0 -2.2,0M636.1,336.3a1.1,1.1 0 1,0 2.2,0a1.1,1.1 0 1,0 -2.2,0M641.1,334.3a1.1,1.1 0 1,0 2.2,0a1.1,1.1 0 1,0 -2.2,0M646.2,336.0a1.1,1.1 0 1,0 2.2,0a1.1,1.1 0 1,0 -2.2,0M651.2,334.4a1.1,1.1 0 1,0 2.2,0a1.1,1.1 0 1,0 -2.2,0M656.2,334.3a1.1,1.1 0 1,0 2.2,0a1.1,1.1 0 1,0 -2.2,0M661.2,335.1a1.1,1.1 0 1,0 2.2,0a1.1,1.1 0 1,0 -2.2,0M515.8,398.6a1.1,1.1 0 1,0 2.2,0a1.1,1.1 0 1,0 -2.2,0M520.8,380.1a1.1,1.1 0 1,0 2.2,0a1.1,1.1 0 1,0 -2.2,0M525.8,366.6a1.1,1.1 0 1,0 2.2,0a1.1,1.1 0 1,0 -2.2,0M530.9,356.6a1.1,1.1 0 1,0 2.2,0a1.1,1.1 0 1,0 -2.2,0M535.9,349.1a1.1,1.1 0 1,0 2.2,0a1.1,1.1 0 1,0 -2.2,0M540.9,345.5a1.1,1.1 0 1,0 2.2,0a1.1,1.1 0 1,0 -2.2,0M545.9,342.4a1.1,1.1 0 1,0 2.2,0a1.1,1.1 0 1,0 -2.2,0M550.9,339.0a1.1,1.1 0 1,0 2.2,0a1.1,1.1 0 1,0 -2.2,0M555.9,338.1a1.1,1.1 0 1,0 2.2,0a1.1,1.1 0 1,0 -2.2,0M560.9,336.9a1.1,1.1 0 1,0 2.2,0a1.1,1.1 0 1,0 -2.2,0M565.9,335.0a1.1,1.1 0 1,0 2.2,0a1.1,1.1 0 1,0 -2.2,0M571.0,334.0a1.1,1.1 0 1,0 2.2,0a1.1,1.1 0 1,0 -2.2,0M576.0,334.8a1.1,1.1 0 1,0 2.2,0a1.1,1.1 0 1,0 -2.2,0M581.0,333.7a1.1,1.1 0 1,0 2.2,0a1.1,1.1 0 1,0 -2.2,0M586.0,332.9a1.1,1.1 0 1,0 2.2,0a1.1,1.1 0 1,0 -2.2,0M591.0,332.6a1.1,1.1 0 1,0 2.2,0a1.1,1.1 0 1,0 -2.2,0M596.0,333.3a1.1,1.1 0 1,0 2.2,0a1.1,1.1 0 1,0 -2.2,0M601.0,332.1a1.1,1.1 0 1,0 2.2,0a1.1,1.1 0 1,0 -2.2,0M606.0,333.5a1.1,1.1 0 1,0 2.2,0a1.1,1.1 0 1,0 -2.2,0M611.1,332.4a1.1,1.1 0 1,0 2.2,0a1.1,1.1 0 1,0 -2.2,0M616.1,332.2a1.1,1.1 0 1,0 2.2,0a1.1,1.1 0 1,0 -2.2,0M621.1,331.9a1.1,1.1 0 1,0 2.2,0a1.1,1.1 0 1,0 -2.2,0M626.1,332.7a1.1,1.1 0 1,0 2.2,0a1.1,1.1 0 1,0 -2.2,0M631.1,333.5a1.1,1.1 0 1,0 2.2,0a1.1,1.1 0 1,0 -2.2,0M636.1,333.6a1.1,1.1 0 1,0 2.2,0a1.1,1.1 0 1,0 -2.2,0M641.1,332.6a1.1,1.1 0 1,0 2.2,0a1.1,1.1 0 1,0 -2.2,0M646.2,333.4a1.1,1.1 0 1,0 2.2,0a1.1,1.1 0 1,0 -2.2,0M651.2,332.4a1.1,1.1 0 1,0 2.2,0a1.1,1.1 0 1,0 -2.2,0M656.2,333.6a1.1,1.1 0 1,0 2.2,0a1.1,1.1 0 1,0 -2.2,0M661.2,332.1a1.1,1.1 0 1,0 2.2,0a1.1,1.1 0 1,0 -2.2,0M515.8,400.9a1.1,1.1 0 1,0 2.2,0a1.1,1.1 0 1,0 -2.2,0M520.8,383.9a1.1,1.1 0 1,0 2.2,0a1.1,1.1 0 1,0 -2.2,0M525.8,370.6a1.1,1.1 0 1,0 2.2,0a1.1,1.1 0 1,0 -2.2,0M530.9,360.7a1.1,1.1 0 1,0 2.2,0a1.1,1.1 0 1,0 -2.2,0M535.9,353.7a1.1,1.1 0 1,0 2.2,0a1.1,1.1 0 1,0 -2.2,0M540.9,348.6a1.1,1.1 0 1,0 2.2,0a1.1,1.1 0 1,0 -2.2,0M545.9,343.7a1.1,1.1 0 1,0 2.2,0a1.1,1.1 0 1,0 -2.2,0M550.9,339.5a1.1,1.1 0 1,0 2.2,0a1.1,1.1 0 1,0 -2.2,0M555.9,337.9a1.1,1.1 0 1,0 2.2,0a1.1,1.1 0 1,0 -2.2,0M560.9,335.1a1.1,1.1 0 1,0 2.2,0a1.1,1.1 0 1,0 -2.2,0M565.9,335.6a1.1,1.1 0 1,0 2.2,0a1.1,1.1 0 1,0 -2.2,0M571.0,332.5a1.1,1.1 0 1,0 2.2,0a1.1,1.1 0 1,0 -2.2,0M576.0,331.9a1.1,1.1 0 1,0 2.2,0a1.1,1.1 0 1,0 -2.2,0M581.0,332.0a1.1,1.1 0 1,0 2.2,0a1.1,1.1 0 1,0 -2.2,0M586.0,331.5a1.1,1.1 0 1,0 2.2,0a1.1,1.1 0 1,0 -2.2,0M591.0,331.1a1.1,1.1 0 1,0 2.2,0a1.1,1.1 0 1,0 -2.2,0M596.0,330.1a1.1,1.1 0 1,0 2.2,0a1.1,1.1 0 1,0 -2.2,0M601.0,331.6a1.1,1.1 0 1,0 2.2,0a1.1,1.1 0 1,0 -2.2,0M606.0,330.3a1.1,1.1 0 1,0 2.2,0a1.1,1.1 0 1,0 -2.2,0M611.1,330.3a1.1,1.1 0 1,0 2.2,0a1.1,1.1 0 1,0 -2.2,0M616.1,330.8a1.1,1.1 0 1,0 2.2,0a1.1,1.1 0 1,0 -2.2,0M621.1,329.8a1.1,1.1 0 1,0 2.2,0a1.1,1.1 0 1,0 -2.2,0M626.1,329.8a1.1,1.1 0 1,0 2.2,0a1.1,1.1 0 1,0 -2.2,0M631.1,331.0a1.1,1.1 0 1,0 2.2,0a1.1,1.1 0 1,0 -2.2,0M636.1,329.7a1.1,1.1 0 1,0 2.2,0a1.1,1.1 0 1,0 -2.2,0M641.1,330.2a1.1,1.1 0 1,0 2.2,0a1.1,1.1 0 1,0 -2.2,0M646.2,330.1a1.1,1.1 0 1,0 2.2,0a1.1,1.1 0 1,0 -2.2,0M651.2,329.8a1.1,1.1 0 1,0 2.2,0a1.1,1.1 0 1,0 -2.2,0M656.2,331.0a1.1,1.1 0 1,0 2.2,0a1.1,1.1 0 1,0 -2.2,0M661.2,329.9a1.1,1.1 0 1,0 2.2,0a1.1,1.1 0 1,0 -2.2,0M515.8,400.3a1.1,1.1 0 1,0 2.2,0a1.1,1.1 0 1,0 -2.2,0M520.8,386.0a1.1,1.1 0 1,0 2.2,0a1.1,1.1 0 1,0 -2.2,0M525.8,372.4a1.1,1.1 0 1,0 2.2,0a1.1,1.1 0 1,0 -2.2,0M530.9,362.9a1.1,1.1 0 1,0 2.2,0a1.1,1.1 0 1,0 -2.2,0M535.9,355.6a1.1,1.1 0 1,0 2.2,0a1.1,1.1 0 1,0 -2.2,0M540.9,349.1a1.1,1.1 0 1,0 2.2,0a1.1,1.1 0 1,0 -2.2,0M545.9,346.2a1.1,1.1 0 1,0 2.2,0a1.1,1.1 0 1,0 -2.2,0M550.9,341.4a1.1,1.1 0 1,0 2.2,0a1.1,1.1 0 1,0 -2.2,0M555.9,338.5a1.1,1.1 0 1,0 2.2,0a1.1,1.1 0 1,0 -2.2,0M560.9,336.1a1.1,1.1 0 1,0 2.2,0a1.1,1.1 0 1,0 -2.2,0M565.9,334.9a1.1,1.1 0 1,0 2.2,0a1.1,1.1 0 1,0 -2.2,0M571.0,334.2a1.1,1.1 0 1,0 2.2,0a1.1,1.1 0 1,0 -2.2,0M576.0,332.9a1.1,1.1 0 1,0 2.2,0a1.1,1.1 0 1,0 -2.2,0M581.0,331.1a1.1,1.1 0 1,0 2.2,0a1.1,1.1 0 1,0 -2.2,0M586.0,331.4a1.1,1.1 0 1,0 2.2,0a1.1,1.1 0 1,0 -2.2,0M591.0,331.1a1.1,1.1 0 1,0 2.2,0a1.1,1.1 0 1,0 -2.2,0M596.0,330.1a1.1,1.1 0 1,0 2.2,0a1.1,1.1 0 1,0 -2.2,0M601.0,329.5a1.1,1.1 0 1,0 2.2,0a1.1,1.1 0 1,0 -2.2,0M606.0,329.1a1.1,1.1 0 1,0 2.2,0a1.1,1.1 0 1,0 -2.2,0M611.1,330.0a1.1,1.1 0 1,0 2.2,0a1.1,1.1 0 1,0 -2.2,0M616.1,328.3a1.1,1.1 0 1,0 2.2,0a1.1,1.1 0 1,0 -2.2,0M621.1,329.1a1.1,1.1 0 1,0 2.2,0a1.1,1.1 0 1,0 -2.2,0M626.1,328.0a1.1,1.1 0 1,0 2.2,0a1.1,1.1 0 1,0 -2.2,0M631.1,329.6a1.1,1.1 0 1,0 2.2,0a1.1,1.1 0 1,0 -2.2,0M636.1,327.5a1.1,1.1 0 1,0 2.2,0a1.1,1.1 0 1,0 -2.2,0M641.1,328.2a1.1,1.1 0 1,0 2.2,0a1.1,1.1 0 1,0 -2.2,0M646.2,327.4a1.1,1.1 0 1,0 2.2,0a1.1,1.1 0 1,0 -2.2,0M651.2,327.3a1.1,1.1 0 1,0 2.2,0a1.1,1.1 0 1,0 -2.2,0M656.2,327.6a1.1,1.1 0 1,0 2.2,0a1.1,1.1 0 1,0 -2.2,0M661.2,329.1a1.1,1.1 0 1,0 2.2,0a1.1,1.1 0 1,0 -2.2,0M515.8,401.1a1.1,1.1 0 1,0 2.2,0a1.1,1.1 0 1,0 -2.2,0M520.8,383.8a1.1,1.1 0 1,0 2.2,0a1.1,1.1 0 1,0 -2.2,0M525.8,372.3a1.1,1.1 0 1,0 2.2,0a1.1,1.1 0 1,0 -2.2,0M530.9,362.4a1.1,1.1 0 1,0 2.2,0a1.1,1.1 0 1,0 -2.2,0M535.9,354.9a1.1,1.1 0 1,0 2.2,0a1.1,1.1 0 1,0 -2.2,0M540.9,348.8a1.1,1.1 0 1,0 2.2,0a1.1,1.1 0 1,0 -2.2,0M545.9,342.4a1.1,1.1 0 1,0 2.2,0a1.1,1.1 0 1,0 -2.2,0M550.9,338.7a1.1,1.1 0 1,0 2.2,0a1.1,1.1 0 1,0 -2.2,0M555.9,337.0a1.1,1.1 0 1,0 2.2,0a1.1,1.1 0 1,0 -2.2,0M560.9,334.0a1.1,1.1 0 1,0 2.2,0a1.1,1.1 0 1,0 -2.2,0M565.9,332.8a1.1,1.1 0 1,0 2.2,0a1.1,1.1 0 1,0 -2.2,0M571.0,331.4a1.1,1.1 0 1,0 2.2,0a1.1,1.1 0 1,0 -2.2,0M576.0,330.6a1.1,1.1 0 1,0 2.2,0a1.1,1.1 0 1,0 -2.2,0M581.0,329.2a1.1,1.1 0 1,0 2.2,0a1.1,1.1 0 1,0 -2.2,0M586.0,329.4a1.1,1.1 0 1,0 2.2,0a1.1,1.1 0 1,0 -2.2,0M591.0,328.9a1.1,1.1 0 1,0 2.2,0a1.1,1.1 0 1,0 -2.2,0M596.0,327.9a1.1,1.1 0 1,0 2.2,0a1.1,1.1 0 1,0 -2.2,0M601.0,328.3a1.1,1.1 0 1,0 2.2,0a1.1,1.1 0 1,0 -2.2,0M606.0,327.5a1.1,1.1 0 1,0 2.2,0a1.1,1.1 0 1,0 -2.2,0M611.1,326.3a1.1,1.1 0 1,0 2.2,0a1.1,1.1 0 1,0 -2.2,0M616.1,328.1a1.1,1.1 0 1,0 2.2,0a1.1,1.1 0 1,0 -2.2,0M621.1,327.8a1.1,1.1 0 1,0 2.2,0a1.1,1.1 0 1,0 -2.2,0M626.1,326.2a1.1,1.1 0 1,0 2.2,0a1.1,1.1 0 1,0 -2.2,0M631.1,327.7a1.1,1.1 0 1,0 2.2,0a1.1,1.1 0 1,0 -2.2,0M636.1,327.2a1.1,1.1 0 1,0 2.2,0a1.1,1.1 0 1,0 -2.2,0M641.1,325.9a1.1,1.1 0 1,0 2.2,0a1.1,1.1 0 1,0 -2.2,0M646.2,326.4a1.1,1.1 0 1,0 2.2,0a1.1,1.1 0 1,0 -2.2,0M651.2,327.2a1.1,1.1 0 1,0 2.2,0a1.1,1.1 0 1,0 -2.2,0M656.2,327.5a1.1,1.1 0 1,0 2.2,0a1.1,1.1 0 1,0 -2.2,0M661.2,327.1a1.1,1.1 0 1,0 2.2,0a1.1,1.1 0 1,0 -2.2,0" fill="none" stroke="#d0d0d0" stroke-width="0.5"/>
<polyline points="516.91,411.09 521.93,407.60 526.94,399.76 531.95,384.50 536.97,373.95 541.98,366.01 546.99,359.72 552.01,356.14 557.02,353.20 562.03,350.72 567.04,348.61 572.06,346.77 577.07,345.16 582.08,343.74 587.10,342.46 592.11,341.31 597.12,340.26 602.14,339.31 607.15,338.84 612.16,338.43 617.18,338.09 622.19,337.80 627.20,337.55 632.22,337.35 637.23,337.19 642.24,337.06 647.26,336.96 652.27,336.89 657.28,336.84 662.29,336.82" fill="none" stroke="#a88f4a" stroke-width="1.0"/>
<path d="M514.61,411.09a2.3,2.3 0 1,0 4.6,0a2.3,2.3 0 1,0 -4.6,0M519.63,407.60a2.3,2.3 0 1,0 4.6,0a2.3,2.3 0 1,0 -4.6,0M524.64,399.76a2.3,2.3 0 1,0 4.6,0a2.3,2.3 0 1,0 -4.6,0M529.65,384.50a2.3,2.3 0 1,0 4.6,0a2.3,2.3 0 1,0 -4.6,0M534.67,373.95a2.3,2.3 0 1,0 4.6,0a2.3,2.3 0 1,0 -4.6,0M539.68,366.01a2.3,2.3 0 1,0 4.6,0a2.3,2.3 0 1,0 -4.6,0M544.69,359.72a2.3,2.3 0 1,0 4.6,0a2.3,2.3 0 1,0 -4.6,0M549.71,356.14a2.3,2.3 0 1,0 4.6,0a2.3,2.3 0 1,0 -4.6,0M554.72,353.20a2.3,2.3 0 1,0 4.6,0a2.3,2.3 0 1,0 -4.6,0M559.73,350.72a2.3,2.3 0 1,0 4.6,0a2.3,2.3 0 1,0 -4.6,0M564.74,348.61a2.3,2.3 0 1,0 4.6,0a2.3,2.3 0 1,0 -4.6,0M569.76,346.77a2.3,2.3 0 1,0 4.6,0a2.3,2.3 0 1,0 -4.6,0M574.77,345.16a2.3,2.3 0 1,0 4.6,0a2.3,2.3 0 1,0 -4.6,0M579.78,343.74a2.3,2.3 0 1,0 4.6,0a2.3,2.3 0 1,0 -4.6,0M584.80,342.46a2.3,2.3 0 1,0 4.6,0a2.3,2.3 0 1,0 -4.6,0M589.81,341.31a2.3,2.3 0 1,0 4.6,0a2.3,2.3 0 1,0 -4.6,0M594.82,340.26a2.3,2.3 0 1,0 4.6,0a2.3,2.3 0 1,0 -4.6,0M599.84,339.31a2.3,2.3 0 1,0 4.6,0a2.3,2.3 0 1,0 -4.6,0M604.85,338.84a2.3,2.3 0 1,0 4.6,0a2.3,2.3 0 1,0 -4.6,0M609.86,338.43a2.3,2.3 0 1,0 4.6,0a2.3,2.3 0 1,0 -4.6,0M614.88,338.09a2.3,2.3 0 1,0 4.6,0a2.3,2.3 0 1,0 -4.6,0M619.89,337.80a2.3,2.3 0 1,0 4.6,0a2.3,2.3 0 1,0 -4.6,0M624.90,337.55a2.3,2.3 0 1,0 4.6,0a2.3,2.3 0 1,0 -4.6,0M629.92,337.35a2.3,2.3 0 1,0 4.6,0a2.3,2.3 0 1,0 -4.6,0M634.93,337.19a2.3,2.3 0 1,0 4.6,0a2.3,2.3 0 1,0 -4.6,0M639.94,337.06a2.3,2.3 0 1,0 4.6,0a2.3,2.3 0 1,0 -4.6,0M644.96,336.96a2.3,2.3 0 1,0 4.6,0a2.3,2.3 0 1,0 -4.6,0M649.97,336.89a2.3,2.3 0 1,0 4.6,0a2.3,2.3 0 1,0 -4.6,0M654.98,336.84a2.3,2.3 0 1,0 4.6,0a2.3,2.3 0 1,0 -4.6,0M659.99,336.82a2.3,2.3 0 1,0 4.6,0a2.3,2.3 0 1,0 -4.6,0" fill="#edb120"/>
<polyline points="521.93,411.99 522.93,406.78 523.93,402.26 524.93,398.30 525.94,394.78 526.94,391.63 527.94,388.80 528.94,386.23 529.95,383.88 530.95,381.73 531.95,379.75 532.96,377.92 533.96,376.22 534.96,374.63 535.96,373.15 536.97,371.77 537.97,370.46 538.97,369.24 539.97,368.08 540.98,366.98 541.98,365.94 542.98,364.96 543.98,364.02 544.99,363.13 545.99,362.28 546.99,361.46 547.99,360.69 549.00,359.94 550.00,359.23 551.00,358.54 552.01,357.88 553.01,357.25 554.01,356.64 555.01,356.05 556.02,355.49 557.02,354.94 558.02,354.41 559.02,353.90 560.03,353.41 561.03,352.93 562.03,352.47 563.03,352.02 564.04,351.58 565.04,351.16 566.04,350.75 567.04,350.35 568.05,349.96 569.05,349.59 570.05,349.22 571.06,348.86 572.06,348.52 573.06,348.18 574.06,347.85 575.07,347.53 576.07,347.21 577.07,346.91 578.07,346.61 579.08,346.31 580.08,346.03 581.08,345.75 582.08,345.48 583.09,345.21 584.09,344.95 585.09,344.69 586.09,344.45 587.10,344.20 588.10,343.96 589.10,343.73 590.11,343.50 591.11,343.27 592.11,343.05 593.11,342.83 594.12,342.62 595.12,342.41 596.12,342.21 597.12,342.01 598.13,341.81 599.13,341.61 600.13,341.42 601.13,341.24 602.14,341.05 603.14,340.87 604.14,340.69 605.14,340.52 606.15,340.35 607.15,340.18 608.15,340.01 609.16,339.85 610.16,339.69 611.16,339.53 612.16,339.38 613.17,339.22 614.17,339.07 615.17,338.92 616.17,338.78 617.18,338.63 618.18,338.49 619.18,338.35 620.18,338.21 621.19,338.07 622.19,337.94 623.19,337.81 624.19,337.68 625.20,337.55 626.20,337.42 627.20,337.30 628.21,337.17 629.21,337.05 630.21,336.93 631.21,336.81 632.22,336.70 633.22,336.58 634.22,336.47 635.22,336.35 636.23,336.24 637.23,336.13 638.23,336.02 639.23,335.92 640.24,335.81 641.24,335.71 642.24,335.60 643.24,335.50 644.25,335.40 645.25,335.30 646.25,335.20 647.26,335.11 648.26,335.01 649.26,334.91 650.26,334.82 651.27,334.73 652.27,334.63 653.27,334.54 654.27,334.45 655.28,334.37 656.28,334.28 657.28,334.19 658.28,334.10 659.29,334.02 660.29,333.93 661.29,333.85 662.29,333.77" fill="none" stroke="#0072bd" stroke-width="2.1"/>
</g>
<text transform="translate(517.70,330.00) scale(0.95,1)" font-size="10.2" text-anchor="start" fill="#000" >Model (iii)</text>
<text x="587.80" y="314.70" font-size="7.0" text-anchor="middle" fill="#000" >1.06-23.22t<tspan font-size="5.6" dy="-2.9">-0.56</tspan></text>
<rect x="511.9" y="317.0" width="152.40" height="108.90" fill="none" stroke="#262626" stroke-width="0.8"/>
<line x1="511.90" y1="425.9" x2="511.90" y2="424.4" stroke="#262626" stroke-width="0.8"/>
<line x1="511.90" y1="317.0" x2="511.90" y2="318.5" stroke="#262626" stroke-width="0.8"/>
<text x="511.90" y="439.30" font-size="8.4" text-anchor="middle" fill="#262626" >0</text>
<line x1="562.03" y1="425.9" x2="562.03" y2="424.4" stroke="#262626" stroke-width="0.8"/>
<line x1="562.03" y1="317.0" x2="562.03" y2="318.5" stroke="#262626" stroke-width="0.8"/>
<text x="562.03" y="439.30" font-size="8.4" text-anchor="middle" fill="#262626" >10<tspan font-size="6.4" dy="-4.0">3</tspan></text>
<line x1="612.16" y1="425.9" x2="612.16" y2="424.4" stroke="#262626" stroke-width="0.8"/>
<line x1="612.16" y1="317.0" x2="612.16" y2="318.5" stroke="#262626" stroke-width="0.8"/>
<text x="612.16" y="439.30" font-size="8.4" text-anchor="middle" fill="#262626" >2<tspan dx="0.9">×</tspan><tspan dx="0.9">10</tspan><tspan font-size="6.4" dy="-4.0">3</tspan></text>
<line x1="662.29" y1="425.9" x2="662.29" y2="424.4" stroke="#262626" stroke-width="0.8"/>
<line x1="662.29" y1="317.0" x2="662.29" y2="318.5" stroke="#262626" stroke-width="0.8"/>
<text x="662.29" y="439.30" font-size="8.4" text-anchor="middle" fill="#262626" >3<tspan dx="0.9">×</tspan><tspan dx="0.9">10</tspan><tspan font-size="6.4" dy="-4.0">3</tspan></text>
<line x1="511.9" y1="404.12" x2="513.4" y2="404.12" stroke="#262626" stroke-width="0.8"/>
<line x1="664.3" y1="404.12" x2="662.8" y2="404.12" stroke="#262626" stroke-width="0.8"/>
<text x="509.30" y="407.52" font-size="8.7" text-anchor="end" fill="#262626" >0</text>
<line x1="511.9" y1="360.56" x2="513.4" y2="360.56" stroke="#262626" stroke-width="0.8"/>
<line x1="664.3" y1="360.56" x2="662.8" y2="360.56" stroke="#262626" stroke-width="0.8"/>
<text x="509.30" y="363.96" font-size="8.7" text-anchor="end" fill="#262626" >0.5</text>
<line x1="511.9" y1="317.00" x2="513.4" y2="317.00" stroke="#262626" stroke-width="0.8"/>
<line x1="664.3" y1="317.00" x2="662.8" y2="317.00" stroke="#262626" stroke-width="0.8"/>
<text x="509.30" y="320.40" font-size="8.7" text-anchor="end" fill="#262626" >1</text>
<text x="0.00" y="0.00" font-size="9.0" text-anchor="middle" fill="#262626" transform="translate(494.00,371.45) rotate(-90)">S(t)</text>
<text x="587.80" y="450.30" font-size="8.7" text-anchor="middle" fill="#262626" >t</text>
<text x="0.00" y="0.00" font-size="9.9" text-anchor="middle" fill="#000" transform="translate(679.20,378.40) rotate(-90)">Alignment + NI</text>
<rect x="557" y="361.5" width="106.20" height="63.50" fill="#fff"/>
<rect x="571.6" y="365.6" width="90.80" height="45.10" fill="#fff" stroke="#bdbdbd" stroke-width="0.7"/>
<clipPath id="ci"><rect x="571.6" y="365.6" width="90.80" height="45.10"/></clipPath><g clip-path="url(#ci)">
<line x1="571.60" y1="366.3" x2="639.50" y2="394.60" stroke="#edb120" stroke-width="0.9"/>
<path d="M570.50,366.30a1.1,1.1 0 1,0 2.2,0a1.1,1.1 0 1,0 -2.2,0M593.08,375.70a1.1,1.1 0 1,0 2.2,0a1.1,1.1 0 1,0 -2.2,0M594.18,373.90v3.6M606.28,382.30a1.1,1.1 0 1,0 2.2,0a1.1,1.1 0 1,0 -2.2,0M607.38,380.50v3.6M615.65,387.30a1.1,1.1 0 1,0 2.2,0a1.1,1.1 0 1,0 -2.2,0M616.75,385.50v3.6M622.92,389.00a1.1,1.1 0 1,0 2.2,0a1.1,1.1 0 1,0 -2.2,0M624.02,387.20v3.6M628.86,390.00a1.1,1.1 0 1,0 2.2,0a1.1,1.1 0 1,0 -2.2,0M629.96,388.20v3.6M633.88,390.60a1.1,1.1 0 1,0 2.2,0a1.1,1.1 0 1,0 -2.2,0M634.98,388.80v3.6M638.23,390.60a1.1,1.1 0 1,0 2.2,0a1.1,1.1 0 1,0 -2.2,0M639.33,388.80v3.6M642.07,390.60a1.1,1.1 0 1,0 2.2,0a1.1,1.1 0 1,0 -2.2,0M643.17,388.80v3.6M645.50,389.50a1.1,1.1 0 1,0 2.2,0a1.1,1.1 0 1,0 -2.2,0M646.60,387.70v3.6M648.60,390.60a1.1,1.1 0 1,0 2.2,0a1.1,1.1 0 1,0 -2.2,0M649.70,388.80v3.6M651.44,392.00a1.1,1.1 0 1,0 2.2,0a1.1,1.1 0 1,0 -2.2,0M652.54,390.20v3.6M654.05,393.50a1.1,1.1 0 1,0 2.2,0a1.1,1.1 0 1,0 -2.2,0M655.15,391.70v3.6M656.46,395.00a1.1,1.1 0 1,0 2.2,0a1.1,1.1 0 1,0 -2.2,0M657.56,393.20v3.6M658.71,394.80a1.1,1.1 0 1,0 2.2,0a1.1,1.1 0 1,0 -2.2,0M659.81,393.00v3.6M660.81,394.60a1.1,1.1 0 1,0 2.2,0a1.1,1.1 0 1,0 -2.2,0M661.91,392.80v3.6" fill="#edb120" stroke="#edb120" stroke-width="0.5"/>
<line x1="571.60" y1="366.3" x2="647.70" y2="387.90" stroke="#d95319" stroke-width="0.9"/>
<path d="M570.50,366.30a1.1,1.1 0 1,0 2.2,0a1.1,1.1 0 1,0 -2.2,0M593.08,373.40a1.1,1.1 0 1,0 2.2,0a1.1,1.1 0 1,0 -2.2,0M594.18,371.60v3.6M606.28,377.90a1.1,1.1 0 1,0 2.2,0a1.1,1.1 0 1,0 -2.2,0M607.38,376.10v3.6M615.65,381.80a1.1,1.1 0 1,0 2.2,0a1.1,1.1 0 1,0 -2.2,0M616.75,380.00v3.6M622.92,383.40a1.1,1.1 0 1,0 2.2,0a1.1,1.1 0 1,0 -2.2,0M624.02,381.60v3.6M628.86,384.50a1.1,1.1 0 1,0 2.2,0a1.1,1.1 0 1,0 -2.2,0M629.96,382.70v3.6M633.88,385.10a1.1,1.1 0 1,0 2.2,0a1.1,1.1 0 1,0 -2.2,0M634.98,383.30v3.6M638.23,385.30a1.1,1.1 0 1,0 2.2,0a1.1,1.1 0 1,0 -2.2,0M639.33,383.50v3.6M642.07,385.10a1.1,1.1 0 1,0 2.2,0a1.1,1.1 0 1,0 -2.2,0M643.17,383.30v3.6M645.50,384.90a1.1,1.1 0 1,0 2.2,0a1.1,1.1 0 1,0 -2.2,0M646.60,383.10v3.6M648.60,384.50a1.1,1.1 0 1,0 2.2,0a1.1,1.1 0 1,0 -2.2,0M649.70,382.70v3.6M651.44,384.50a1.1,1.1 0 1,0 2.2,0a1.1,1.1 0 1,0 -2.2,0M652.54,382.70v3.6M654.05,385.10a1.1,1.1 0 1,0 2.2,0a1.1,1.1 0 1,0 -2.2,0M655.15,383.30v3.6M656.46,386.80a1.1,1.1 0 1,0 2.2,0a1.1,1.1 0 1,0 -2.2,0M657.56,385.00v3.6M658.71,387.30a1.1,1.1 0 1,0 2.2,0a1.1,1.1 0 1,0 -2.2,0M659.81,385.50v3.6M660.81,387.10a1.1,1.1 0 1,0 2.2,0a1.1,1.1 0 1,0 -2.2,0M661.91,385.30v3.6" fill="#d95319" stroke="#d95319" stroke-width="0.5"/>
<line x1="571.60" y1="366.3" x2="646.60" y2="382.00" stroke="#4dbeee" stroke-width="0.9"/>
<path d="M570.50,366.30a1.1,1.1 0 1,0 2.2,0a1.1,1.1 0 1,0 -2.2,0M593.08,371.50a1.1,1.1 0 1,0 2.2,0a1.1,1.1 0 1,0 -2.2,0M594.18,369.70v3.6M606.28,375.10a1.1,1.1 0 1,0 2.2,0a1.1,1.1 0 1,0 -2.2,0M607.38,373.30v3.6M615.65,377.90a1.1,1.1 0 1,0 2.2,0a1.1,1.1 0 1,0 -2.2,0M616.75,376.10v3.6M622.92,379.50a1.1,1.1 0 1,0 2.2,0a1.1,1.1 0 1,0 -2.2,0M624.02,377.70v3.6M628.86,380.60a1.1,1.1 0 1,0 2.2,0a1.1,1.1 0 1,0 -2.2,0M629.96,378.80v3.6M633.88,381.20a1.1,1.1 0 1,0 2.2,0a1.1,1.1 0 1,0 -2.2,0M634.98,379.40v3.6M638.23,381.80a1.1,1.1 0 1,0 2.2,0a1.1,1.1 0 1,0 -2.2,0M639.33,380.00v3.6M642.07,381.80a1.1,1.1 0 1,0 2.2,0a1.1,1.1 0 1,0 -2.2,0M643.17,380.00v3.6M645.50,381.20a1.1,1.1 0 1,0 2.2,0a1.1,1.1 0 1,0 -2.2,0M646.60,379.40v3.6M648.60,380.00a1.1,1.1 0 1,0 2.2,0a1.1,1.1 0 1,0 -2.2,0M649.70,378.20v3.6M651.44,379.50a1.1,1.1 0 1,0 2.2,0a1.1,1.1 0 1,0 -2.2,0M652.54,377.70v3.6M654.05,380.50a1.1,1.1 0 1,0 2.2,0a1.1,1.1 0 1,0 -2.2,0M655.15,378.70v3.6M656.46,381.50a1.1,1.1 0 1,0 2.2,0a1.1,1.1 0 1,0 -2.2,0M657.56,379.70v3.6M658.71,382.00a1.1,1.1 0 1,0 2.2,0a1.1,1.1 0 1,0 -2.2,0M659.81,380.20v3.6M660.81,382.50a1.1,1.1 0 1,0 2.2,0a1.1,1.1 0 1,0 -2.2,0M661.91,380.70v3.6" fill="#4dbeee" stroke="#4dbeee" stroke-width="0.5"/>
<line x1="571.60" y1="366.3" x2="646.60" y2="380.60" stroke="#0072bd" stroke-width="0.9"/>
<path d="M570.50,366.30a1.1,1.1 0 1,0 2.2,0a1.1,1.1 0 1,0 -2.2,0M593.08,370.70a1.1,1.1 0 1,0 2.2,0a1.1,1.1 0 1,0 -2.2,0M594.18,368.90v3.6M606.28,374.00a1.1,1.1 0 1,0 2.2,0a1.1,1.1 0 1,0 -2.2,0M607.38,372.20v3.6M615.65,376.20a1.1,1.1 0 1,0 2.2,0a1.1,1.1 0 1,0 -2.2,0M616.75,374.40v3.6M622.92,377.30a1.1,1.1 0 1,0 2.2,0a1.1,1.1 0 1,0 -2.2,0M624.02,375.50v3.6M628.86,378.40a1.1,1.1 0 1,0 2.2,0a1.1,1.1 0 1,0 -2.2,0M629.96,376.60v3.6M633.88,379.00a1.1,1.1 0 1,0 2.2,0a1.1,1.1 0 1,0 -2.2,0M634.98,377.20v3.6M638.23,379.50a1.1,1.1 0 1,0 2.2,0a1.1,1.1 0 1,0 -2.2,0M639.33,377.70v3.6M642.07,380.10a1.1,1.1 0 1,0 2.2,0a1.1,1.1 0 1,0 -2.2,0M643.17,378.30v3.6M645.50,380.60a1.1,1.1 0 1,0 2.2,0a1.1,1.1 0 1,0 -2.2,0M646.60,378.80v3.6M648.60,378.40a1.1,1.1 0 1,0 2.2,0a1.1,1.1 0 1,0 -2.2,0M649.70,376.60v3.6M651.44,377.30a1.1,1.1 0 1,0 2.2,0a1.1,1.1 0 1,0 -2.2,0M652.54,375.50v3.6M654.05,377.90a1.1,1.1 0 1,0 2.2,0a1.1,1.1 0 1,0 -2.2,0M655.15,376.10v3.6M656.46,379.00a1.1,1.1 0 1,0 2.2,0a1.1,1.1 0 1,0 -2.2,0M657.56,377.20v3.6M658.71,379.50a1.1,1.1 0 1,0 2.2,0a1.1,1.1 0 1,0 -2.2,0M659.81,377.70v3.6M660.81,380.10a1.1,1.1 0 1,0 2.2,0a1.1,1.1 0 1,0 -2.2,0M661.91,378.30v3.6" fill="#0072bd" stroke="#0072bd" stroke-width="0.5"/>
</g>
<text x="570.10" y="370.20" font-size="6.4" text-anchor="end" fill="#262626" >10<tspan font-size="4.8" dy="-2.6">0</tspan></text>
<text x="570.10" y="412.90" font-size="6.4" text-anchor="end" fill="#262626" >10<tspan font-size="4.8" dy="-2.6">-1</tspan></text>
<text x="572.60" y="419.30" font-size="6.4" text-anchor="middle" fill="#262626" >10<tspan font-size="4.8" dy="-2.6">0</tspan></text>
<text x="647.60" y="419.30" font-size="6.4" text-anchor="middle" fill="#262626" >10<tspan font-size="4.8" dy="-2.6">1</tspan></text>
<text x="618.60" y="424.60" font-size="6.8" text-anchor="middle" fill="#262626" >Distance r</text>
<text x="0.00" y="0.00" font-size="6.6" text-anchor="middle" fill="#262626" transform="translate(562.60,388.15) rotate(-90)">C<tspan font-size="4.8" dy="1.6">S</tspan><tspan dy="-1.6">(r)</tspan></text>
</svg></body></html>
